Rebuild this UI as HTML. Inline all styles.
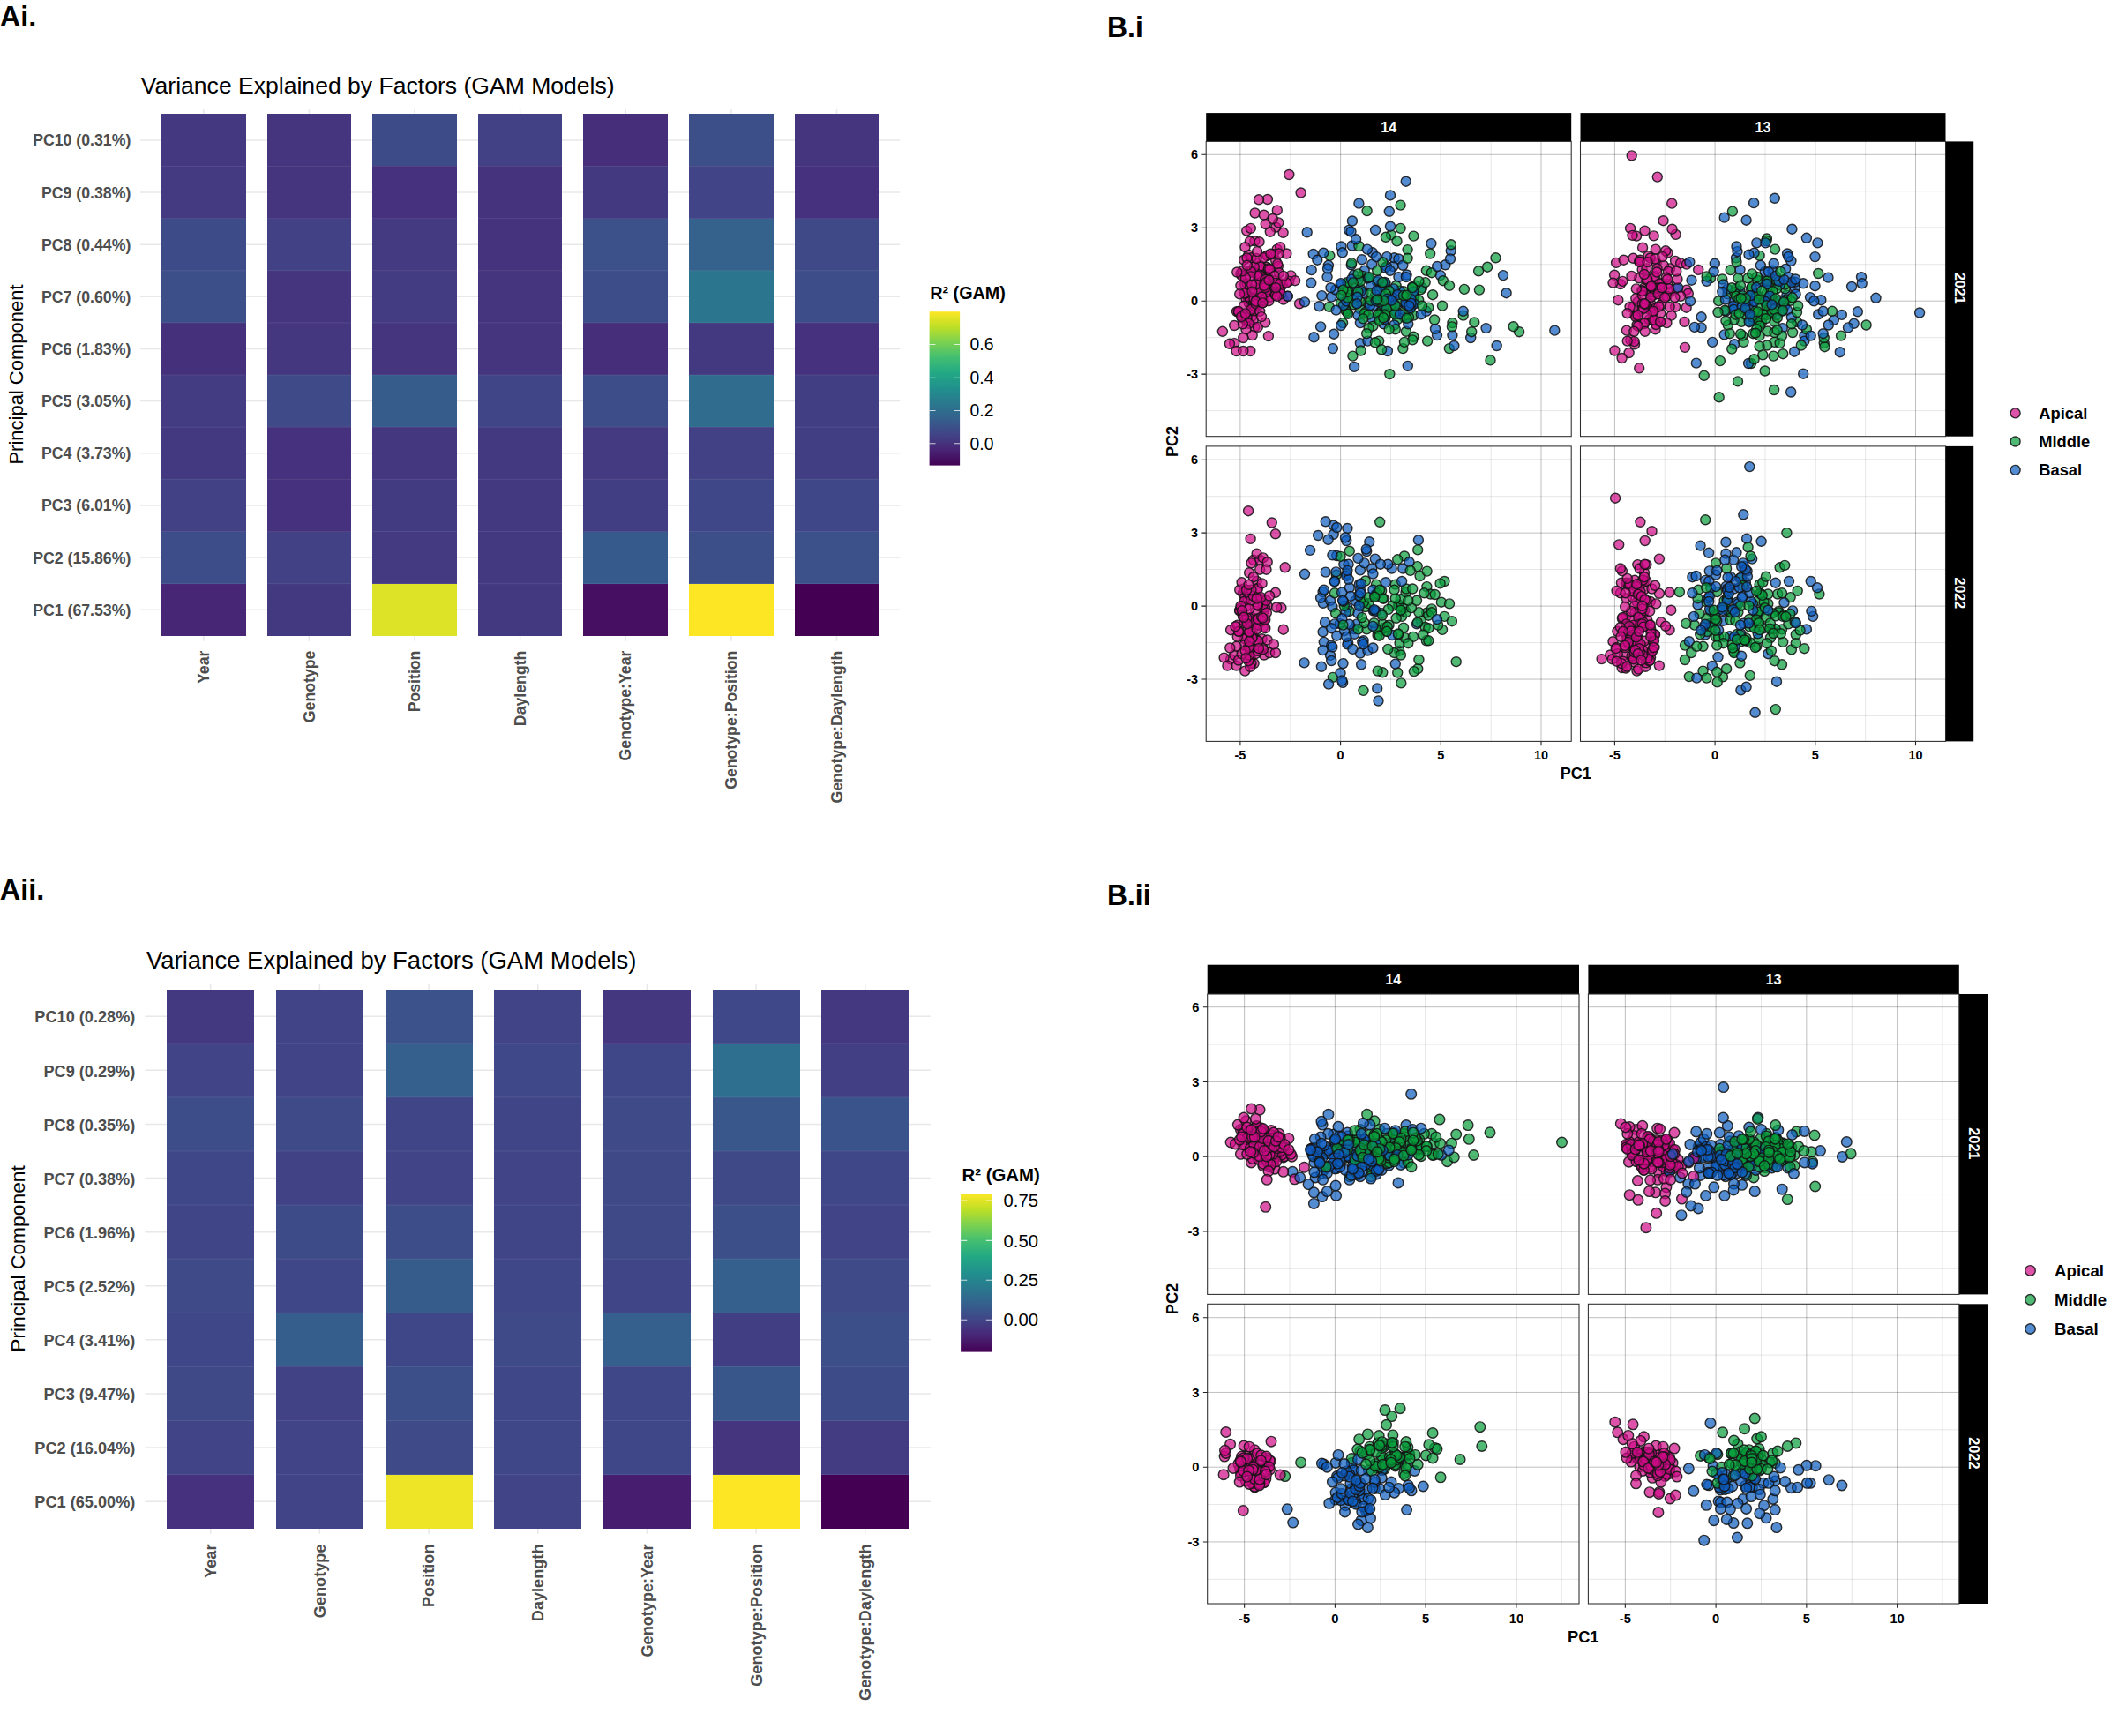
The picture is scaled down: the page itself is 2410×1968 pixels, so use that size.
<!DOCTYPE html>
<html lang="en"><head><meta charset="utf-8"><title>Figure</title>
<style>html,body{margin:0;padding:0;background:#fff}svg{display:block}text{font-family:'Liberation Sans',sans-serif;}</style></head><body>
<svg width="2410" height="1968" viewBox="0 0 2410 1968">
<defs><linearGradient id="virg" x1="0" y1="0" x2="0" y2="1"><stop offset="0%" stop-color="#fde725"/><stop offset="10%" stop-color="#bddf26"/><stop offset="20%" stop-color="#7ad151"/><stop offset="30%" stop-color="#42be71"/><stop offset="40%" stop-color="#22a884"/><stop offset="50%" stop-color="#21908d"/><stop offset="60%" stop-color="#2a788e"/><stop offset="70%" stop-color="#355f8d"/><stop offset="80%" stop-color="#414487"/><stop offset="90%" stop-color="#482475"/><stop offset="100%" stop-color="#440154"/></linearGradient></defs>
<rect width="2410" height="1968" fill="#fff"/>
<text x="-0.30" y="29.90" font-size="33.00" font-weight="bold" fill="#000" text-anchor="start" textLength="41.60" lengthAdjust="spacingAndGlyphs">Ai.</text>
<text x="-0.30" y="1019.90" font-size="33.00" font-weight="bold" fill="#000" text-anchor="start" textLength="50.60" lengthAdjust="spacingAndGlyphs">Aii.</text>
<text x="1255.00" y="42.05" font-size="33.00" font-weight="bold" fill="#000" text-anchor="start" textLength="40.80" lengthAdjust="spacingAndGlyphs">B.i</text>
<text x="1255.00" y="1025.75" font-size="33.00" font-weight="bold" fill="#000" text-anchor="start" textLength="49.50" lengthAdjust="spacingAndGlyphs">B.ii</text>
<g stroke="#e8e8ea" stroke-width="1.50">
<line x1="158.98" y1="158.88" x2="1020.24" y2="158.88"/>
<line x1="158.98" y1="218.03" x2="1020.24" y2="218.03"/>
<line x1="158.98" y1="277.18" x2="1020.24" y2="277.18"/>
<line x1="158.98" y1="336.33" x2="1020.24" y2="336.33"/>
<line x1="158.98" y1="395.48" x2="1020.24" y2="395.48"/>
<line x1="158.98" y1="454.62" x2="1020.24" y2="454.62"/>
<line x1="158.98" y1="513.77" x2="1020.24" y2="513.77"/>
<line x1="158.98" y1="572.92" x2="1020.24" y2="572.92"/>
<line x1="158.98" y1="632.08" x2="1020.24" y2="632.08"/>
<line x1="158.98" y1="691.22" x2="1020.24" y2="691.22"/>
<line x1="230.75" y1="123.39" x2="230.75" y2="726.71"/>
<line x1="350.37" y1="123.39" x2="350.37" y2="726.71"/>
<line x1="469.99" y1="123.39" x2="469.99" y2="726.71"/>
<line x1="589.61" y1="123.39" x2="589.61" y2="726.71"/>
<line x1="709.23" y1="123.39" x2="709.23" y2="726.71"/>
<line x1="828.85" y1="123.39" x2="828.85" y2="726.71"/>
<line x1="948.47" y1="123.39" x2="948.47" y2="726.71"/>
</g>
<g shape-rendering="crispEdges">
<rect x="182.90" y="129.30" width="95.70" height="59.45" fill="#443880"/>
<rect x="302.52" y="129.30" width="95.70" height="59.45" fill="#44357e"/>
<rect x="422.14" y="129.30" width="95.70" height="59.45" fill="#3d4c89"/>
<rect x="541.76" y="129.30" width="95.70" height="59.45" fill="#424185"/>
<rect x="661.38" y="129.30" width="95.70" height="59.45" fill="#462e7b"/>
<rect x="781.00" y="129.30" width="95.70" height="59.45" fill="#3c4f89"/>
<rect x="900.62" y="129.30" width="95.70" height="59.45" fill="#44357e"/>
<rect x="182.90" y="188.45" width="95.70" height="59.45" fill="#433a82"/>
<rect x="302.52" y="188.45" width="95.70" height="59.45" fill="#44357e"/>
<rect x="422.14" y="188.45" width="95.70" height="59.45" fill="#45317d"/>
<rect x="541.76" y="188.45" width="95.70" height="59.45" fill="#45337d"/>
<rect x="661.38" y="188.45" width="95.70" height="59.45" fill="#433981"/>
<rect x="781.00" y="188.45" width="95.70" height="59.45" fill="#414487"/>
<rect x="900.62" y="188.45" width="95.70" height="59.45" fill="#45317d"/>
<rect x="182.90" y="247.60" width="95.70" height="59.45" fill="#3d4c89"/>
<rect x="302.52" y="247.60" width="95.70" height="59.45" fill="#424185"/>
<rect x="422.14" y="247.60" width="95.70" height="59.45" fill="#433a82"/>
<rect x="541.76" y="247.60" width="95.70" height="59.45" fill="#45337d"/>
<rect x="661.38" y="247.60" width="95.70" height="59.45" fill="#3c508a"/>
<rect x="781.00" y="247.60" width="95.70" height="59.45" fill="#34628d"/>
<rect x="900.62" y="247.60" width="95.70" height="59.45" fill="#3f4988"/>
<rect x="182.90" y="306.75" width="95.70" height="59.45" fill="#3c4f89"/>
<rect x="302.52" y="306.75" width="95.70" height="59.45" fill="#44357e"/>
<rect x="422.14" y="306.75" width="95.70" height="59.45" fill="#433c82"/>
<rect x="541.76" y="306.75" width="95.70" height="59.45" fill="#44357e"/>
<rect x="661.38" y="306.75" width="95.70" height="59.45" fill="#3d4d89"/>
<rect x="781.00" y="306.75" width="95.70" height="59.45" fill="#2b768e"/>
<rect x="900.62" y="306.75" width="95.70" height="59.45" fill="#3d4d89"/>
<rect x="182.90" y="365.90" width="95.70" height="59.45" fill="#45307c"/>
<rect x="302.52" y="365.90" width="95.70" height="59.45" fill="#44367f"/>
<rect x="422.14" y="365.90" width="95.70" height="59.45" fill="#44357e"/>
<rect x="541.76" y="365.90" width="95.70" height="59.45" fill="#44357e"/>
<rect x="661.38" y="365.90" width="95.70" height="59.45" fill="#462e7b"/>
<rect x="781.00" y="365.90" width="95.70" height="59.45" fill="#433981"/>
<rect x="900.62" y="365.90" width="95.70" height="59.45" fill="#45317d"/>
<rect x="182.90" y="425.05" width="95.70" height="59.45" fill="#433c82"/>
<rect x="302.52" y="425.05" width="95.70" height="59.45" fill="#3e4b88"/>
<rect x="422.14" y="425.05" width="95.70" height="59.45" fill="#365c8c"/>
<rect x="541.76" y="425.05" width="95.70" height="59.45" fill="#404587"/>
<rect x="661.38" y="425.05" width="95.70" height="59.45" fill="#3d4d89"/>
<rect x="781.00" y="425.05" width="95.70" height="59.45" fill="#306c8e"/>
<rect x="900.62" y="425.05" width="95.70" height="59.45" fill="#423e83"/>
<rect x="182.90" y="484.20" width="95.70" height="59.45" fill="#433981"/>
<rect x="302.52" y="484.20" width="95.70" height="59.45" fill="#45317d"/>
<rect x="422.14" y="484.20" width="95.70" height="59.45" fill="#44367f"/>
<rect x="541.76" y="484.20" width="95.70" height="59.45" fill="#433981"/>
<rect x="661.38" y="484.20" width="95.70" height="59.45" fill="#433a82"/>
<rect x="781.00" y="484.20" width="95.70" height="59.45" fill="#424185"/>
<rect x="900.62" y="484.20" width="95.70" height="59.45" fill="#423e83"/>
<rect x="182.90" y="543.35" width="95.70" height="59.45" fill="#424185"/>
<rect x="302.52" y="543.35" width="95.70" height="59.45" fill="#45317d"/>
<rect x="422.14" y="543.35" width="95.70" height="59.45" fill="#433b82"/>
<rect x="541.76" y="543.35" width="95.70" height="59.45" fill="#433981"/>
<rect x="661.38" y="543.35" width="95.70" height="59.45" fill="#423e83"/>
<rect x="781.00" y="543.35" width="95.70" height="59.45" fill="#404788"/>
<rect x="900.62" y="543.35" width="95.70" height="59.45" fill="#404788"/>
<rect x="182.90" y="602.50" width="95.70" height="59.45" fill="#3d4d89"/>
<rect x="302.52" y="602.50" width="95.70" height="59.45" fill="#424185"/>
<rect x="422.14" y="602.50" width="95.70" height="59.45" fill="#433a82"/>
<rect x="541.76" y="602.50" width="95.70" height="59.45" fill="#433981"/>
<rect x="661.38" y="602.50" width="95.70" height="59.45" fill="#375a8c"/>
<rect x="781.00" y="602.50" width="95.70" height="59.45" fill="#3c4f89"/>
<rect x="900.62" y="602.50" width="95.70" height="59.45" fill="#3c508a"/>
<rect x="182.90" y="661.65" width="95.70" height="59.45" fill="#482676"/>
<rect x="302.52" y="661.65" width="95.70" height="59.45" fill="#433981"/>
<rect x="422.14" y="661.65" width="95.70" height="59.45" fill="#dde326"/>
<rect x="541.76" y="661.65" width="95.70" height="59.45" fill="#433981"/>
<rect x="661.38" y="661.65" width="95.70" height="59.45" fill="#460f61"/>
<rect x="781.00" y="661.65" width="95.70" height="59.45" fill="#fde725"/>
<rect x="900.62" y="661.65" width="95.70" height="59.45" fill="#440154"/>
</g>
<path d="M182.90 188.45h95.70M302.52 188.45h95.70M422.14 188.45h95.70M541.76 188.45h95.70M661.38 188.45h95.70M781.00 188.45h95.70M900.62 188.45h95.70M182.90 247.60h95.70M302.52 247.60h95.70M422.14 247.60h95.70M541.76 247.60h95.70M661.38 247.60h95.70M781.00 247.60h95.70M900.62 247.60h95.70M182.90 306.75h95.70M302.52 306.75h95.70M422.14 306.75h95.70M541.76 306.75h95.70M661.38 306.75h95.70M781.00 306.75h95.70M900.62 306.75h95.70M182.90 365.90h95.70M302.52 365.90h95.70M422.14 365.90h95.70M541.76 365.90h95.70M661.38 365.90h95.70M781.00 365.90h95.70M900.62 365.90h95.70M182.90 425.05h95.70M302.52 425.05h95.70M422.14 425.05h95.70M541.76 425.05h95.70M661.38 425.05h95.70M781.00 425.05h95.70M900.62 425.05h95.70M182.90 484.20h95.70M302.52 484.20h95.70M422.14 484.20h95.70M541.76 484.20h95.70M661.38 484.20h95.70M781.00 484.20h95.70M900.62 484.20h95.70M182.90 543.35h95.70M302.52 543.35h95.70M422.14 543.35h95.70M541.76 543.35h95.70M661.38 543.35h95.70M781.00 543.35h95.70M900.62 543.35h95.70M182.90 602.50h95.70M302.52 602.50h95.70M422.14 602.50h95.70M541.76 602.50h95.70M661.38 602.50h95.70M781.00 602.50h95.70M900.62 602.50h95.70M182.90 661.65h95.70M302.52 661.65h95.70M422.14 661.65h95.70M541.76 661.65h95.70M661.38 661.65h95.70M781.00 661.65h95.70M900.62 661.65h95.70" stroke="#fff" stroke-opacity=".09" stroke-width="1" fill="none"/>
<text x="148.30" y="165.41" font-size="17.70" font-weight="bold" fill="#4d4d4d" text-anchor="end">PC10 (0.31%)</text>
<text x="148.30" y="224.56" font-size="17.70" font-weight="bold" fill="#4d4d4d" text-anchor="end">PC9 (0.38%)</text>
<text x="148.30" y="283.71" font-size="17.70" font-weight="bold" fill="#4d4d4d" text-anchor="end">PC8 (0.44%)</text>
<text x="148.30" y="342.86" font-size="17.70" font-weight="bold" fill="#4d4d4d" text-anchor="end">PC7 (0.60%)</text>
<text x="148.30" y="402.01" font-size="17.70" font-weight="bold" fill="#4d4d4d" text-anchor="end">PC6 (1.83%)</text>
<text x="148.30" y="461.16" font-size="17.70" font-weight="bold" fill="#4d4d4d" text-anchor="end">PC5 (3.05%)</text>
<text x="148.30" y="520.31" font-size="17.70" font-weight="bold" fill="#4d4d4d" text-anchor="end">PC4 (3.73%)</text>
<text x="148.30" y="579.46" font-size="17.70" font-weight="bold" fill="#4d4d4d" text-anchor="end">PC3 (6.01%)</text>
<text x="148.30" y="638.61" font-size="17.70" font-weight="bold" fill="#4d4d4d" text-anchor="end">PC2 (15.86%)</text>
<text x="148.30" y="697.76" font-size="17.70" font-weight="bold" fill="#4d4d4d" text-anchor="end">PC1 (67.53%)</text>
<text x="236.98" y="737.60" font-size="17.70" font-weight="bold" fill="#4d4d4d" text-anchor="end" transform="rotate(-90 236.98 737.60)">Year</text>
<text x="356.60" y="737.60" font-size="17.70" font-weight="bold" fill="#4d4d4d" text-anchor="end" transform="rotate(-90 356.60 737.60)">Genotype</text>
<text x="476.22" y="737.60" font-size="17.70" font-weight="bold" fill="#4d4d4d" text-anchor="end" transform="rotate(-90 476.22 737.60)">Position</text>
<text x="595.84" y="737.60" font-size="17.70" font-weight="bold" fill="#4d4d4d" text-anchor="end" transform="rotate(-90 595.84 737.60)">Daylength</text>
<text x="715.46" y="737.60" font-size="17.70" font-weight="bold" fill="#4d4d4d" text-anchor="end" transform="rotate(-90 715.46 737.60)">Genotype:Year</text>
<text x="835.08" y="737.60" font-size="17.70" font-weight="bold" fill="#4d4d4d" text-anchor="end" transform="rotate(-90 835.08 737.60)">Genotype:Position</text>
<text x="954.70" y="737.60" font-size="17.70" font-weight="bold" fill="#4d4d4d" text-anchor="end" transform="rotate(-90 954.70 737.60)">Genotype:Daylength</text>
<text x="159.80" y="106.30" font-size="26.50" fill="#000" text-anchor="start" textLength="536.80" lengthAdjust="spacingAndGlyphs">Variance Explained by Factors (GAM Models)</text>
<text x="26.44" y="424.50" font-size="22.00" fill="#000" text-anchor="middle" transform="rotate(-90 26.44 424.50)">Principal Component</text>
<text x="1054.20" y="339.30" font-size="19.70" font-weight="bold" fill="#000" text-anchor="start" textLength="85.70" lengthAdjust="spacingAndGlyphs">R² (GAM)</text>
<rect x="1053.60" y="353.20" width="34.50" height="174.40" fill="url(#virg)"/>
<path d="M1053.60 390.50h6.90M1088.10 390.50h-6.90" stroke="#fff" stroke-opacity=".75" stroke-width="1.1"/>
<text x="1099.60" y="397.29" font-size="19.30" fill="#000" text-anchor="start">0.6</text>
<path d="M1053.60 428.20h6.90M1088.10 428.20h-6.90" stroke="#fff" stroke-opacity=".75" stroke-width="1.1"/>
<text x="1099.60" y="434.99" font-size="19.30" fill="#000" text-anchor="start">0.4</text>
<path d="M1053.60 465.50h6.90M1088.10 465.50h-6.90" stroke="#fff" stroke-opacity=".75" stroke-width="1.1"/>
<text x="1099.60" y="472.29" font-size="19.30" fill="#000" text-anchor="start">0.2</text>
<path d="M1053.60 502.80h6.90M1088.10 502.80h-6.90" stroke="#fff" stroke-opacity=".75" stroke-width="1.1"/>
<text x="1099.60" y="509.59" font-size="19.30" fill="#000" text-anchor="start">0.0</text>
<g stroke="#e8e8ea" stroke-width="1.50">
<line x1="164.43" y1="1152.25" x2="1055.07" y2="1152.25"/>
<line x1="164.43" y1="1213.35" x2="1055.07" y2="1213.35"/>
<line x1="164.43" y1="1274.45" x2="1055.07" y2="1274.45"/>
<line x1="164.43" y1="1335.55" x2="1055.07" y2="1335.55"/>
<line x1="164.43" y1="1396.65" x2="1055.07" y2="1396.65"/>
<line x1="164.43" y1="1457.75" x2="1055.07" y2="1457.75"/>
<line x1="164.43" y1="1518.85" x2="1055.07" y2="1518.85"/>
<line x1="164.43" y1="1579.95" x2="1055.07" y2="1579.95"/>
<line x1="164.43" y1="1641.05" x2="1055.07" y2="1641.05"/>
<line x1="164.43" y1="1702.15" x2="1055.07" y2="1702.15"/>
<line x1="238.65" y1="1115.59" x2="238.65" y2="1738.81"/>
<line x1="362.35" y1="1115.59" x2="362.35" y2="1738.81"/>
<line x1="486.05" y1="1115.59" x2="486.05" y2="1738.81"/>
<line x1="609.75" y1="1115.59" x2="609.75" y2="1738.81"/>
<line x1="733.45" y1="1115.59" x2="733.45" y2="1738.81"/>
<line x1="857.15" y1="1115.59" x2="857.15" y2="1738.81"/>
<line x1="980.85" y1="1115.59" x2="980.85" y2="1738.81"/>
</g>
<g shape-rendering="crispEdges">
<rect x="189.10" y="1121.70" width="99.10" height="61.40" fill="#433981"/>
<rect x="312.80" y="1121.70" width="99.10" height="61.40" fill="#414487"/>
<rect x="436.50" y="1121.70" width="99.10" height="61.40" fill="#3b528a"/>
<rect x="560.20" y="1121.70" width="99.10" height="61.40" fill="#414487"/>
<rect x="683.90" y="1121.70" width="99.10" height="61.40" fill="#44367f"/>
<rect x="807.60" y="1121.70" width="99.10" height="61.40" fill="#3f4888"/>
<rect x="931.30" y="1121.70" width="99.10" height="61.40" fill="#443880"/>
<rect x="189.10" y="1182.80" width="99.10" height="61.40" fill="#414487"/>
<rect x="312.80" y="1182.80" width="99.10" height="61.40" fill="#414487"/>
<rect x="436.50" y="1182.80" width="99.10" height="61.40" fill="#355f8d"/>
<rect x="560.20" y="1182.80" width="99.10" height="61.40" fill="#3f4888"/>
<rect x="683.90" y="1182.80" width="99.10" height="61.40" fill="#404788"/>
<rect x="807.60" y="1182.80" width="99.10" height="61.40" fill="#2e6e8e"/>
<rect x="931.30" y="1182.80" width="99.10" height="61.40" fill="#423f84"/>
<rect x="189.10" y="1243.90" width="99.10" height="61.40" fill="#3d4d89"/>
<rect x="312.80" y="1243.90" width="99.10" height="61.40" fill="#3e4b88"/>
<rect x="436.50" y="1243.90" width="99.10" height="61.40" fill="#404587"/>
<rect x="560.20" y="1243.90" width="99.10" height="61.40" fill="#404587"/>
<rect x="683.90" y="1243.90" width="99.10" height="61.40" fill="#3e4b88"/>
<rect x="807.60" y="1243.90" width="99.10" height="61.40" fill="#39578b"/>
<rect x="931.30" y="1243.90" width="99.10" height="61.40" fill="#3a538a"/>
<rect x="189.10" y="1305.00" width="99.10" height="61.40" fill="#404788"/>
<rect x="312.80" y="1305.00" width="99.10" height="61.40" fill="#414286"/>
<rect x="436.50" y="1305.00" width="99.10" height="61.40" fill="#414487"/>
<rect x="560.20" y="1305.00" width="99.10" height="61.40" fill="#414487"/>
<rect x="683.90" y="1305.00" width="99.10" height="61.40" fill="#3f4988"/>
<rect x="807.60" y="1305.00" width="99.10" height="61.40" fill="#3f4988"/>
<rect x="931.30" y="1305.00" width="99.10" height="61.40" fill="#404788"/>
<rect x="189.10" y="1366.10" width="99.10" height="61.40" fill="#404587"/>
<rect x="312.80" y="1366.10" width="99.10" height="61.40" fill="#3d4c89"/>
<rect x="436.50" y="1366.10" width="99.10" height="61.40" fill="#3d4d89"/>
<rect x="560.20" y="1366.10" width="99.10" height="61.40" fill="#404587"/>
<rect x="683.90" y="1366.10" width="99.10" height="61.40" fill="#3f4988"/>
<rect x="807.60" y="1366.10" width="99.10" height="61.40" fill="#3c4f89"/>
<rect x="931.30" y="1366.10" width="99.10" height="61.40" fill="#414487"/>
<rect x="189.10" y="1427.20" width="99.10" height="61.40" fill="#3e4b88"/>
<rect x="312.80" y="1427.20" width="99.10" height="61.40" fill="#404788"/>
<rect x="436.50" y="1427.20" width="99.10" height="61.40" fill="#365c8c"/>
<rect x="560.20" y="1427.20" width="99.10" height="61.40" fill="#404788"/>
<rect x="683.90" y="1427.20" width="99.10" height="61.40" fill="#404587"/>
<rect x="807.60" y="1427.20" width="99.10" height="61.40" fill="#355f8d"/>
<rect x="931.30" y="1427.20" width="99.10" height="61.40" fill="#3e4b88"/>
<rect x="189.10" y="1488.30" width="99.10" height="61.40" fill="#404788"/>
<rect x="312.80" y="1488.30" width="99.10" height="61.40" fill="#365e8d"/>
<rect x="436.50" y="1488.30" width="99.10" height="61.40" fill="#404788"/>
<rect x="560.20" y="1488.30" width="99.10" height="61.40" fill="#3e4b88"/>
<rect x="683.90" y="1488.30" width="99.10" height="61.40" fill="#355f8d"/>
<rect x="807.60" y="1488.30" width="99.10" height="61.40" fill="#423e83"/>
<rect x="931.30" y="1488.30" width="99.10" height="61.40" fill="#3c4f89"/>
<rect x="189.10" y="1549.40" width="99.10" height="61.40" fill="#3f4988"/>
<rect x="312.80" y="1549.40" width="99.10" height="61.40" fill="#414286"/>
<rect x="436.50" y="1549.40" width="99.10" height="61.40" fill="#3c4f89"/>
<rect x="560.20" y="1549.40" width="99.10" height="61.40" fill="#404788"/>
<rect x="683.90" y="1549.40" width="99.10" height="61.40" fill="#404788"/>
<rect x="807.60" y="1549.40" width="99.10" height="61.40" fill="#39568b"/>
<rect x="931.30" y="1549.40" width="99.10" height="61.40" fill="#3d4c89"/>
<rect x="189.10" y="1610.50" width="99.10" height="61.40" fill="#414487"/>
<rect x="312.80" y="1610.50" width="99.10" height="61.40" fill="#414487"/>
<rect x="436.50" y="1610.50" width="99.10" height="61.40" fill="#3e4b88"/>
<rect x="560.20" y="1610.50" width="99.10" height="61.40" fill="#404788"/>
<rect x="683.90" y="1610.50" width="99.10" height="61.40" fill="#404788"/>
<rect x="807.60" y="1610.50" width="99.10" height="61.40" fill="#44357e"/>
<rect x="931.30" y="1610.50" width="99.10" height="61.40" fill="#433c82"/>
<rect x="189.10" y="1671.60" width="99.10" height="61.40" fill="#45317d"/>
<rect x="312.80" y="1671.60" width="99.10" height="61.40" fill="#414487"/>
<rect x="436.50" y="1671.60" width="99.10" height="61.40" fill="#ede525"/>
<rect x="560.20" y="1671.60" width="99.10" height="61.40" fill="#414487"/>
<rect x="683.90" y="1671.60" width="99.10" height="61.40" fill="#471e6f"/>
<rect x="807.60" y="1671.60" width="99.10" height="61.40" fill="#fde725"/>
<rect x="931.30" y="1671.60" width="99.10" height="61.40" fill="#440154"/>
</g>
<path d="M189.10 1182.80h99.10M312.80 1182.80h99.10M436.50 1182.80h99.10M560.20 1182.80h99.10M683.90 1182.80h99.10M807.60 1182.80h99.10M931.30 1182.80h99.10M189.10 1243.90h99.10M312.80 1243.90h99.10M436.50 1243.90h99.10M560.20 1243.90h99.10M683.90 1243.90h99.10M807.60 1243.90h99.10M931.30 1243.90h99.10M189.10 1305.00h99.10M312.80 1305.00h99.10M436.50 1305.00h99.10M560.20 1305.00h99.10M683.90 1305.00h99.10M807.60 1305.00h99.10M931.30 1305.00h99.10M189.10 1366.10h99.10M312.80 1366.10h99.10M436.50 1366.10h99.10M560.20 1366.10h99.10M683.90 1366.10h99.10M807.60 1366.10h99.10M931.30 1366.10h99.10M189.10 1427.20h99.10M312.80 1427.20h99.10M436.50 1427.20h99.10M560.20 1427.20h99.10M683.90 1427.20h99.10M807.60 1427.20h99.10M931.30 1427.20h99.10M189.10 1488.30h99.10M312.80 1488.30h99.10M436.50 1488.30h99.10M560.20 1488.30h99.10M683.90 1488.30h99.10M807.60 1488.30h99.10M931.30 1488.30h99.10M189.10 1549.40h99.10M312.80 1549.40h99.10M436.50 1549.40h99.10M560.20 1549.40h99.10M683.90 1549.40h99.10M807.60 1549.40h99.10M931.30 1549.40h99.10M189.10 1610.50h99.10M312.80 1610.50h99.10M436.50 1610.50h99.10M560.20 1610.50h99.10M683.90 1610.50h99.10M807.60 1610.50h99.10M931.30 1610.50h99.10M189.10 1671.60h99.10M312.80 1671.60h99.10M436.50 1671.60h99.10M560.20 1671.60h99.10M683.90 1671.60h99.10M807.60 1671.60h99.10M931.30 1671.60h99.10" stroke="#fff" stroke-opacity=".09" stroke-width="1" fill="none"/>
<text x="153.30" y="1159.44" font-size="18.15" font-weight="bold" fill="#4d4d4d" text-anchor="end">PC10 (0.28%)</text>
<text x="153.30" y="1220.54" font-size="18.15" font-weight="bold" fill="#4d4d4d" text-anchor="end">PC9 (0.29%)</text>
<text x="153.30" y="1281.64" font-size="18.15" font-weight="bold" fill="#4d4d4d" text-anchor="end">PC8 (0.35%)</text>
<text x="153.30" y="1342.74" font-size="18.15" font-weight="bold" fill="#4d4d4d" text-anchor="end">PC7 (0.38%)</text>
<text x="153.30" y="1403.84" font-size="18.15" font-weight="bold" fill="#4d4d4d" text-anchor="end">PC6 (1.96%)</text>
<text x="153.30" y="1464.94" font-size="18.15" font-weight="bold" fill="#4d4d4d" text-anchor="end">PC5 (2.52%)</text>
<text x="153.30" y="1526.04" font-size="18.15" font-weight="bold" fill="#4d4d4d" text-anchor="end">PC4 (3.41%)</text>
<text x="153.30" y="1587.14" font-size="18.15" font-weight="bold" fill="#4d4d4d" text-anchor="end">PC3 (9.47%)</text>
<text x="153.30" y="1648.24" font-size="18.15" font-weight="bold" fill="#4d4d4d" text-anchor="end">PC2 (16.04%)</text>
<text x="153.30" y="1709.34" font-size="18.15" font-weight="bold" fill="#4d4d4d" text-anchor="end">PC1 (65.00%)</text>
<text x="245.04" y="1750.50" font-size="18.15" font-weight="bold" fill="#4d4d4d" text-anchor="end" transform="rotate(-90 245.04 1750.50)">Year</text>
<text x="368.74" y="1750.50" font-size="18.15" font-weight="bold" fill="#4d4d4d" text-anchor="end" transform="rotate(-90 368.74 1750.50)">Genotype</text>
<text x="492.44" y="1750.50" font-size="18.15" font-weight="bold" fill="#4d4d4d" text-anchor="end" transform="rotate(-90 492.44 1750.50)">Position</text>
<text x="616.14" y="1750.50" font-size="18.15" font-weight="bold" fill="#4d4d4d" text-anchor="end" transform="rotate(-90 616.14 1750.50)">Daylength</text>
<text x="739.84" y="1750.50" font-size="18.15" font-weight="bold" fill="#4d4d4d" text-anchor="end" transform="rotate(-90 739.84 1750.50)">Genotype:Year</text>
<text x="863.54" y="1750.50" font-size="18.15" font-weight="bold" fill="#4d4d4d" text-anchor="end" transform="rotate(-90 863.54 1750.50)">Genotype:Position</text>
<text x="987.24" y="1750.50" font-size="18.15" font-weight="bold" fill="#4d4d4d" text-anchor="end" transform="rotate(-90 987.24 1750.50)">Genotype:Daylength</text>
<text x="166.00" y="1098.00" font-size="27.50" fill="#000" text-anchor="start" textLength="555.50" lengthAdjust="spacingAndGlyphs">Variance Explained by Factors (GAM Models)</text>
<text x="27.83" y="1427.00" font-size="22.80" fill="#000" text-anchor="middle" transform="rotate(-90 27.83 1427.00)">Principal Component</text>
<text x="1090.50" y="1338.70" font-size="20.40" font-weight="bold" fill="#000" text-anchor="start" textLength="88.30" lengthAdjust="spacingAndGlyphs">R² (GAM)</text>
<rect x="1089.10" y="1353.20" width="35.90" height="179.40" fill="url(#virg)"/>
<path d="M1089.10 1361.10h7.18M1125.00 1361.10h-7.18" stroke="#fff" stroke-opacity=".75" stroke-width="1.1"/>
<text x="1137.50" y="1368.25" font-size="20.30" fill="#000" text-anchor="start">0.75</text>
<path d="M1089.10 1406.40h7.18M1125.00 1406.40h-7.18" stroke="#fff" stroke-opacity=".75" stroke-width="1.1"/>
<text x="1137.50" y="1413.55" font-size="20.30" fill="#000" text-anchor="start">0.50</text>
<path d="M1089.10 1451.20h7.18M1125.00 1451.20h-7.18" stroke="#fff" stroke-opacity=".75" stroke-width="1.1"/>
<text x="1137.50" y="1458.35" font-size="20.30" fill="#000" text-anchor="start">0.25</text>
<path d="M1089.10 1496.30h7.18M1125.00 1496.30h-7.18" stroke="#fff" stroke-opacity=".75" stroke-width="1.1"/>
<text x="1137.50" y="1503.45" font-size="20.30" fill="#000" text-anchor="start">0.00</text>
<rect x="1367.20" y="128.10" width="414.00" height="32.30" fill="#000"/>
<rect x="1791.50" y="128.10" width="414.00" height="32.30" fill="#000"/>
<rect x="2205.50" y="160.40" width="31.70" height="334.30" fill="#000"/>
<rect x="2205.50" y="505.90" width="31.70" height="334.50" fill="#000"/>
<text x="1574.20" y="149.88" font-size="16.00" font-weight="bold" fill="#fff" text-anchor="middle">14</text>
<text x="1998.50" y="149.88" font-size="16.00" font-weight="bold" fill="#fff" text-anchor="middle">13</text>
<text x="2216.02" y="326.75" font-size="16.00" font-weight="bold" fill="#fff" text-anchor="middle" transform="rotate(90 2216.02 326.75)">2021</text>
<text x="2216.02" y="672.35" font-size="16.00" font-weight="bold" fill="#fff" text-anchor="middle" transform="rotate(90 2216.02 672.35)">2022</text>
<rect x="1367.20" y="160.40" width="414.00" height="334.30" fill="#fff"/>
<path d="M1462.75 160.40V494.70M1576.45 160.40V494.70M1690.15 160.40V494.70M1367.20 465.62H1781.20M1367.20 382.67H1781.20M1367.20 299.73H1781.20M1367.20 216.77H1781.20" stroke="#000" stroke-opacity=".11" stroke-width=".9" fill="none"/>
<path d="M1405.90 160.40V494.70M1519.60 160.40V494.70M1633.30 160.40V494.70M1747.00 160.40V494.70M1367.20 424.15H1781.20M1367.20 341.20H1781.20M1367.20 258.25H1781.20M1367.20 175.30H1781.20" stroke="#000" stroke-opacity=".25" stroke-width="1" fill="none"/>
<g stroke="#141414" stroke-opacity=".88" stroke-width="1.4" fill-opacity=".7">
<circle cx="1520.4" cy="279.5" r="5.5" fill="#0c5bbf"/>
<circle cx="1563.2" cy="386.6" r="5.5" fill="#059c3a"/>
<circle cx="1415.8" cy="343.8" r="5.5" fill="#cf0a86"/>
<circle cx="1419.1" cy="358.8" r="5.5" fill="#cf0a86"/>
<circle cx="1629.0" cy="380.1" r="5.5" fill="#0c5bbf"/>
<circle cx="1413.7" cy="358.8" r="5.5" fill="#cf0a86"/>
<circle cx="1545.5" cy="332.2" r="5.5" fill="#0c5bbf"/>
<circle cx="1569.6" cy="350.8" r="5.5" fill="#059c3a"/>
<circle cx="1424.3" cy="298.3" r="5.5" fill="#cf0a86"/>
<circle cx="1509.2" cy="336.6" r="5.5" fill="#0c5bbf"/>
<circle cx="1612.0" cy="326.2" r="5.5" fill="#0c5bbf"/>
<circle cx="1422.3" cy="370.7" r="5.5" fill="#cf0a86"/>
<circle cx="1577.0" cy="266.4" r="5.5" fill="#059c3a"/>
<circle cx="1527.4" cy="354.0" r="5.5" fill="#059c3a"/>
<circle cx="1593.9" cy="375.8" r="5.5" fill="#059c3a"/>
<circle cx="1638.4" cy="300.3" r="5.5" fill="#0c5bbf"/>
<circle cx="1463.3" cy="312.4" r="5.5" fill="#cf0a86"/>
<circle cx="1399.2" cy="389.1" r="5.5" fill="#cf0a86"/>
<circle cx="1563.9" cy="362.6" r="5.5" fill="#059c3a"/>
<circle cx="1510.9" cy="395.1" r="5.5" fill="#0c5bbf"/>
<circle cx="1446.3" cy="257.7" r="5.5" fill="#cf0a86"/>
<circle cx="1568.5" cy="367.3" r="5.5" fill="#0c5bbf"/>
<circle cx="1424.6" cy="338.3" r="5.5" fill="#cf0a86"/>
<circle cx="1676.9" cy="328.6" r="5.5" fill="#059c3a"/>
<circle cx="1578.3" cy="337.9" r="5.5" fill="#0c5bbf"/>
<circle cx="1533.4" cy="403.6" r="5.5" fill="#059c3a"/>
<circle cx="1486.3" cy="320.6" r="5.5" fill="#0c5bbf"/>
<circle cx="1622.4" cy="276.1" r="5.5" fill="#0c5bbf"/>
<circle cx="1506.8" cy="347.9" r="5.5" fill="#059c3a"/>
<circle cx="1598.3" cy="350.9" r="5.5" fill="#059c3a"/>
<circle cx="1438.0" cy="328.8" r="5.5" fill="#cf0a86"/>
<circle cx="1436.7" cy="289.9" r="5.5" fill="#cf0a86"/>
<circle cx="1565.8" cy="353.0" r="5.5" fill="#059c3a"/>
<circle cx="1632.8" cy="312.1" r="5.5" fill="#0c5bbf"/>
<circle cx="1419.7" cy="380.1" r="5.5" fill="#cf0a86"/>
<circle cx="1579.4" cy="302.0" r="5.5" fill="#0c5bbf"/>
<circle cx="1522.1" cy="366.1" r="5.5" fill="#059c3a"/>
<circle cx="1583.5" cy="273.4" r="5.5" fill="#059c3a"/>
<circle cx="1542.0" cy="327.1" r="5.5" fill="#059c3a"/>
<circle cx="1423.7" cy="342.9" r="5.5" fill="#cf0a86"/>
<circle cx="1602.4" cy="334.6" r="5.5" fill="#059c3a"/>
<circle cx="1587.7" cy="341.8" r="5.5" fill="#059c3a"/>
<circle cx="1505.9" cy="300.8" r="5.5" fill="#0c5bbf"/>
<circle cx="1592.2" cy="360.0" r="5.5" fill="#059c3a"/>
<circle cx="1591.0" cy="330.3" r="5.5" fill="#059c3a"/>
<circle cx="1586.6" cy="329.8" r="5.5" fill="#0c5bbf"/>
<circle cx="1413.2" cy="261.6" r="5.5" fill="#cf0a86"/>
<circle cx="1427.1" cy="327.8" r="5.5" fill="#cf0a86"/>
<circle cx="1559.8" cy="341.0" r="5.5" fill="#0c5bbf"/>
<circle cx="1602.4" cy="267.6" r="5.5" fill="#059c3a"/>
<circle cx="1546.7" cy="306.8" r="5.5" fill="#0c5bbf"/>
<circle cx="1695.5" cy="292.3" r="5.5" fill="#059c3a"/>
<circle cx="1422.6" cy="241.5" r="5.5" fill="#cf0a86"/>
<circle cx="1406.4" cy="310.4" r="5.5" fill="#cf0a86"/>
<circle cx="1616.9" cy="306.8" r="5.5" fill="#059c3a"/>
<circle cx="1402.0" cy="353.1" r="5.5" fill="#cf0a86"/>
<circle cx="1626.1" cy="362.5" r="5.5" fill="#059c3a"/>
<circle cx="1442.7" cy="322.5" r="5.5" fill="#cf0a86"/>
<circle cx="1504.6" cy="314.1" r="5.5" fill="#0c5bbf"/>
<circle cx="1635.8" cy="318.2" r="5.5" fill="#059c3a"/>
<circle cx="1532.2" cy="338.3" r="5.5" fill="#0c5bbf"/>
<circle cx="1574.8" cy="239.8" r="5.5" fill="#0c5bbf"/>
<circle cx="1411.2" cy="322.3" r="5.5" fill="#cf0a86"/>
<circle cx="1414.6" cy="355.9" r="5.5" fill="#cf0a86"/>
<circle cx="1658.7" cy="357.6" r="5.5" fill="#059c3a"/>
<circle cx="1428.0" cy="338.4" r="5.5" fill="#cf0a86"/>
<circle cx="1488.7" cy="288.0" r="5.5" fill="#0c5bbf"/>
<circle cx="1560.9" cy="319.5" r="5.5" fill="#059c3a"/>
<circle cx="1585.4" cy="314.1" r="5.5" fill="#0c5bbf"/>
<circle cx="1572.9" cy="398.0" r="5.5" fill="#0c5bbf"/>
<circle cx="1512.1" cy="378.7" r="5.5" fill="#0c5bbf"/>
<circle cx="1704.0" cy="312.1" r="5.5" fill="#0c5bbf"/>
<circle cx="1445.4" cy="318.3" r="5.5" fill="#cf0a86"/>
<circle cx="1421.2" cy="309.3" r="5.5" fill="#cf0a86"/>
<circle cx="1435.7" cy="302.7" r="5.5" fill="#cf0a86"/>
<circle cx="1429.1" cy="301.1" r="5.5" fill="#cf0a86"/>
<circle cx="1435.8" cy="321.2" r="5.5" fill="#cf0a86"/>
<circle cx="1534.6" cy="311.7" r="5.5" fill="#0c5bbf"/>
<circle cx="1447.8" cy="238.4" r="5.5" fill="#cf0a86"/>
<circle cx="1544.8" cy="312.9" r="5.5" fill="#059c3a"/>
<circle cx="1643.0" cy="323.8" r="5.5" fill="#059c3a"/>
<circle cx="1413.4" cy="363.1" r="5.5" fill="#cf0a86"/>
<circle cx="1454.8" cy="339.5" r="5.5" fill="#cf0a86"/>
<circle cx="1414.9" cy="338.3" r="5.5" fill="#cf0a86"/>
<circle cx="1401.6" cy="398.0" r="5.5" fill="#cf0a86"/>
<circle cx="1435.5" cy="329.8" r="5.5" fill="#cf0a86"/>
<circle cx="1569.7" cy="362.2" r="5.5" fill="#0c5bbf"/>
<circle cx="1439.5" cy="322.7" r="5.5" fill="#cf0a86"/>
<circle cx="1428.4" cy="322.6" r="5.5" fill="#cf0a86"/>
<circle cx="1624.1" cy="334.2" r="5.5" fill="#059c3a"/>
<circle cx="1594.6" cy="311.5" r="5.5" fill="#0c5bbf"/>
<circle cx="1481.7" cy="263.3" r="5.5" fill="#0c5bbf"/>
<circle cx="1610.4" cy="328.4" r="5.5" fill="#059c3a"/>
<circle cx="1644.7" cy="284.3" r="5.5" fill="#0c5bbf"/>
<circle cx="1722.1" cy="376.2" r="5.5" fill="#059c3a"/>
<circle cx="1531.7" cy="300.3" r="5.5" fill="#0c5bbf"/>
<circle cx="1566.1" cy="321.1" r="5.5" fill="#059c3a"/>
<circle cx="1566.1" cy="396.3" r="5.5" fill="#059c3a"/>
<circle cx="1575.7" cy="348.1" r="5.5" fill="#0c5bbf"/>
<circle cx="1581.8" cy="356.4" r="5.5" fill="#0c5bbf"/>
<circle cx="1576.0" cy="256.7" r="5.5" fill="#0c5bbf"/>
<circle cx="1514.1" cy="328.6" r="5.5" fill="#0c5bbf"/>
<circle cx="1519.8" cy="322.4" r="5.5" fill="#0c5bbf"/>
<circle cx="1435.5" cy="312.9" r="5.5" fill="#cf0a86"/>
<circle cx="1535.2" cy="325.9" r="5.5" fill="#0c5bbf"/>
<circle cx="1566.1" cy="326.2" r="5.5" fill="#0c5bbf"/>
<circle cx="1541.9" cy="389.1" r="5.5" fill="#0c5bbf"/>
<circle cx="1615.7" cy="320.1" r="5.5" fill="#059c3a"/>
<circle cx="1539.6" cy="317.6" r="5.5" fill="#0c5bbf"/>
<circle cx="1602.4" cy="357.6" r="5.5" fill="#059c3a"/>
<circle cx="1593.7" cy="205.7" r="5.5" fill="#0c5bbf"/>
<circle cx="1532.7" cy="278.5" r="5.5" fill="#0c5bbf"/>
<circle cx="1528.0" cy="321.4" r="5.5" fill="#0c5bbf"/>
<circle cx="1584.2" cy="362.1" r="5.5" fill="#059c3a"/>
<circle cx="1604.3" cy="323.8" r="5.5" fill="#059c3a"/>
<circle cx="1418.5" cy="336.4" r="5.5" fill="#cf0a86"/>
<circle cx="1715.6" cy="370.2" r="5.5" fill="#059c3a"/>
<circle cx="1449.8" cy="324.6" r="5.5" fill="#cf0a86"/>
<circle cx="1580.6" cy="368.5" r="5.5" fill="#0c5bbf"/>
<circle cx="1412.6" cy="338.8" r="5.5" fill="#cf0a86"/>
<circle cx="1446.2" cy="295.3" r="5.5" fill="#cf0a86"/>
<circle cx="1550.4" cy="343.2" r="5.5" fill="#059c3a"/>
<circle cx="1575.8" cy="341.9" r="5.5" fill="#059c3a"/>
<circle cx="1493.3" cy="294.7" r="5.5" fill="#0c5bbf"/>
<circle cx="1436.2" cy="289.8" r="5.5" fill="#cf0a86"/>
<circle cx="1563.5" cy="329.9" r="5.5" fill="#059c3a"/>
<circle cx="1566.3" cy="352.6" r="5.5" fill="#059c3a"/>
<circle cx="1418.5" cy="349.2" r="5.5" fill="#cf0a86"/>
<circle cx="1419.7" cy="328.6" r="5.5" fill="#cf0a86"/>
<circle cx="1537.9" cy="330.6" r="5.5" fill="#0c5bbf"/>
<circle cx="1529.1" cy="260.9" r="5.5" fill="#0c5bbf"/>
<circle cx="1541.9" cy="350.4" r="5.5" fill="#059c3a"/>
<circle cx="1587.6" cy="232.6" r="5.5" fill="#059c3a"/>
<circle cx="1542.6" cy="397.5" r="5.5" fill="#059c3a"/>
<circle cx="1459.7" cy="335.8" r="5.5" fill="#cf0a86"/>
<circle cx="1556.4" cy="346.7" r="5.5" fill="#0c5bbf"/>
<circle cx="1559.1" cy="334.4" r="5.5" fill="#0c5bbf"/>
<circle cx="1684.6" cy="372.1" r="5.5" fill="#0c5bbf"/>
<circle cx="1537.6" cy="344.2" r="5.5" fill="#0c5bbf"/>
<circle cx="1413.7" cy="321.3" r="5.5" fill="#cf0a86"/>
<circle cx="1603.1" cy="336.7" r="5.5" fill="#059c3a"/>
<circle cx="1582.6" cy="324.0" r="5.5" fill="#059c3a"/>
<circle cx="1453.7" cy="323.0" r="5.5" fill="#cf0a86"/>
<circle cx="1601.1" cy="325.2" r="5.5" fill="#059c3a"/>
<circle cx="1541.9" cy="341.9" r="5.5" fill="#059c3a"/>
<circle cx="1550.4" cy="315.3" r="5.5" fill="#0c5bbf"/>
<circle cx="1410.1" cy="346.7" r="5.5" fill="#cf0a86"/>
<circle cx="1567.9" cy="335.1" r="5.5" fill="#0c5bbf"/>
<circle cx="1553.9" cy="324.3" r="5.5" fill="#0c5bbf"/>
<circle cx="1420.9" cy="352.8" r="5.5" fill="#cf0a86"/>
<circle cx="1519.9" cy="343.3" r="5.5" fill="#059c3a"/>
<circle cx="1399.2" cy="369.0" r="5.5" fill="#cf0a86"/>
<circle cx="1587.6" cy="258.9" r="5.5" fill="#059c3a"/>
<circle cx="1707.6" cy="332.2" r="5.5" fill="#0c5bbf"/>
<circle cx="1415.4" cy="288.9" r="5.5" fill="#cf0a86"/>
<circle cx="1412.6" cy="363.5" r="5.5" fill="#cf0a86"/>
<circle cx="1448.8" cy="302.0" r="5.5" fill="#cf0a86"/>
<circle cx="1526.7" cy="325.8" r="5.5" fill="#059c3a"/>
<circle cx="1597.1" cy="359.6" r="5.5" fill="#059c3a"/>
<circle cx="1416.9" cy="307.0" r="5.5" fill="#cf0a86"/>
<circle cx="1555.9" cy="286.3" r="5.5" fill="#0c5bbf"/>
<circle cx="1528.3" cy="330.2" r="5.5" fill="#059c3a"/>
<circle cx="1572.0" cy="302.2" r="5.5" fill="#0c5bbf"/>
<circle cx="1568.4" cy="324.5" r="5.5" fill="#0c5bbf"/>
<circle cx="1449.5" cy="328.5" r="5.5" fill="#cf0a86"/>
<circle cx="1543.8" cy="294.2" r="5.5" fill="#0c5bbf"/>
<circle cx="1447.6" cy="282.6" r="5.5" fill="#cf0a86"/>
<circle cx="1443.9" cy="331.0" r="5.5" fill="#cf0a86"/>
<circle cx="1671.3" cy="365.4" r="5.5" fill="#059c3a"/>
<circle cx="1646.4" cy="366.1" r="5.5" fill="#059c3a"/>
<circle cx="1421.1" cy="341.8" r="5.5" fill="#cf0a86"/>
<circle cx="1600.9" cy="345.5" r="5.5" fill="#0c5bbf"/>
<circle cx="1582.4" cy="353.3" r="5.5" fill="#0c5bbf"/>
<circle cx="1580.6" cy="292.3" r="5.5" fill="#0c5bbf"/>
<circle cx="1555.2" cy="299.6" r="5.5" fill="#0c5bbf"/>
<circle cx="1412.5" cy="332.2" r="5.5" fill="#cf0a86"/>
<circle cx="1508.5" cy="326.2" r="5.5" fill="#0c5bbf"/>
<circle cx="1539.5" cy="357.6" r="5.5" fill="#0c5bbf"/>
<circle cx="1422.6" cy="347.6" r="5.5" fill="#cf0a86"/>
<circle cx="1548.0" cy="353.7" r="5.5" fill="#059c3a"/>
<circle cx="1425.8" cy="346.7" r="5.5" fill="#cf0a86"/>
<circle cx="1415.7" cy="336.3" r="5.5" fill="#cf0a86"/>
<circle cx="1642.8" cy="395.1" r="5.5" fill="#059c3a"/>
<circle cx="1542.0" cy="318.8" r="5.5" fill="#059c3a"/>
<circle cx="1407.5" cy="312.4" r="5.5" fill="#cf0a86"/>
<circle cx="1417.8" cy="258.9" r="5.5" fill="#cf0a86"/>
<circle cx="1410.1" cy="294.7" r="5.5" fill="#cf0a86"/>
<circle cx="1443.8" cy="288.1" r="5.5" fill="#cf0a86"/>
<circle cx="1454.6" cy="263.8" r="5.5" fill="#cf0a86"/>
<circle cx="1420.9" cy="362.5" r="5.5" fill="#cf0a86"/>
<circle cx="1527.4" cy="320.1" r="5.5" fill="#059c3a"/>
<circle cx="1596.3" cy="367.3" r="5.5" fill="#0c5bbf"/>
<circle cx="1426.3" cy="315.8" r="5.5" fill="#cf0a86"/>
<circle cx="1592.6" cy="352.0" r="5.5" fill="#059c3a"/>
<circle cx="1696.7" cy="392.0" r="5.5" fill="#0c5bbf"/>
<circle cx="1495.5" cy="347.2" r="5.5" fill="#0c5bbf"/>
<circle cx="1422.4" cy="273.2" r="5.5" fill="#cf0a86"/>
<circle cx="1621.2" cy="287.5" r="5.5" fill="#059c3a"/>
<circle cx="1431.8" cy="343.1" r="5.5" fill="#cf0a86"/>
<circle cx="1421.5" cy="338.7" r="5.5" fill="#cf0a86"/>
<circle cx="1572.1" cy="291.1" r="5.5" fill="#0c5bbf"/>
<circle cx="1436.9" cy="226.0" r="5.5" fill="#cf0a86"/>
<circle cx="1525.4" cy="350.2" r="5.5" fill="#059c3a"/>
<circle cx="1444.1" cy="328.4" r="5.5" fill="#cf0a86"/>
<circle cx="1532.2" cy="316.5" r="5.5" fill="#0c5bbf"/>
<circle cx="1412.0" cy="332.7" r="5.5" fill="#cf0a86"/>
<circle cx="1549.6" cy="239.1" r="5.5" fill="#059c3a"/>
<circle cx="1428.8" cy="312.4" r="5.5" fill="#cf0a86"/>
<circle cx="1520.0" cy="321.1" r="5.5" fill="#0c5bbf"/>
<circle cx="1522.5" cy="335.8" r="5.5" fill="#0c5bbf"/>
<circle cx="1417.3" cy="398.0" r="5.5" fill="#cf0a86"/>
<circle cx="1428.2" cy="302.0" r="5.5" fill="#cf0a86"/>
<circle cx="1580.4" cy="355.6" r="5.5" fill="#059c3a"/>
<circle cx="1507.3" cy="289.9" r="5.5" fill="#059c3a"/>
<circle cx="1570.9" cy="268.8" r="5.5" fill="#059c3a"/>
<circle cx="1539.5" cy="310.4" r="5.5" fill="#059c3a"/>
<circle cx="1432.3" cy="292.1" r="5.5" fill="#cf0a86"/>
<circle cx="1525.8" cy="352.6" r="5.5" fill="#059c3a"/>
<circle cx="1437.9" cy="381.1" r="5.5" fill="#cf0a86"/>
<circle cx="1676.1" cy="307.3" r="5.5" fill="#059c3a"/>
<circle cx="1659.9" cy="327.9" r="5.5" fill="#059c3a"/>
<circle cx="1531.5" cy="262.6" r="5.5" fill="#0c5bbf"/>
<circle cx="1432.3" cy="340.7" r="5.5" fill="#cf0a86"/>
<circle cx="1602.5" cy="335.4" r="5.5" fill="#059c3a"/>
<circle cx="1406.4" cy="323.8" r="5.5" fill="#cf0a86"/>
<circle cx="1522.9" cy="346.2" r="5.5" fill="#0c5bbf"/>
<circle cx="1532.2" cy="298.4" r="5.5" fill="#059c3a"/>
<circle cx="1570.5" cy="320.6" r="5.5" fill="#059c3a"/>
<circle cx="1526.2" cy="341.4" r="5.5" fill="#0c5bbf"/>
<circle cx="1592.9" cy="336.6" r="5.5" fill="#059c3a"/>
<circle cx="1431.8" cy="335.8" r="5.5" fill="#cf0a86"/>
<circle cx="1577.4" cy="335.8" r="5.5" fill="#0c5bbf"/>
<circle cx="1521.8" cy="286.3" r="5.5" fill="#0c5bbf"/>
<circle cx="1579.9" cy="327.4" r="5.5" fill="#0c5bbf"/>
<circle cx="1514.6" cy="351.6" r="5.5" fill="#0c5bbf"/>
<circle cx="1413.5" cy="360.4" r="5.5" fill="#cf0a86"/>
<circle cx="1542.6" cy="330.0" r="5.5" fill="#0c5bbf"/>
<circle cx="1590.3" cy="395.1" r="5.5" fill="#059c3a"/>
<circle cx="1593.9" cy="314.1" r="5.5" fill="#0c5bbf"/>
<circle cx="1602.4" cy="381.8" r="5.5" fill="#059c3a"/>
<circle cx="1450.7" cy="328.9" r="5.5" fill="#cf0a86"/>
<circle cx="1540.4" cy="279.0" r="5.5" fill="#059c3a"/>
<circle cx="1404.0" cy="354.0" r="5.5" fill="#cf0a86"/>
<circle cx="1533.4" cy="339.3" r="5.5" fill="#059c3a"/>
<circle cx="1585.4" cy="293.5" r="5.5" fill="#0c5bbf"/>
<circle cx="1570.3" cy="303.5" r="5.5" fill="#0c5bbf"/>
<circle cx="1440.0" cy="336.7" r="5.5" fill="#cf0a86"/>
<circle cx="1527.7" cy="337.7" r="5.5" fill="#059c3a"/>
<circle cx="1451.2" cy="280.2" r="5.5" fill="#cf0a86"/>
<circle cx="1415.6" cy="366.8" r="5.5" fill="#cf0a86"/>
<circle cx="1410.5" cy="332.4" r="5.5" fill="#cf0a86"/>
<circle cx="1427.7" cy="311.9" r="5.5" fill="#cf0a86"/>
<circle cx="1424.8" cy="310.4" r="5.5" fill="#cf0a86"/>
<circle cx="1448.2" cy="299.4" r="5.5" fill="#cf0a86"/>
<circle cx="1567.3" cy="297.1" r="5.5" fill="#059c3a"/>
<circle cx="1421.8" cy="302.6" r="5.5" fill="#cf0a86"/>
<circle cx="1593.9" cy="345.5" r="5.5" fill="#0c5bbf"/>
<circle cx="1449.9" cy="309.3" r="5.5" fill="#cf0a86"/>
<circle cx="1616.9" cy="352.8" r="5.5" fill="#0c5bbf"/>
<circle cx="1438.0" cy="304.6" r="5.5" fill="#cf0a86"/>
<circle cx="1441.5" cy="329.2" r="5.5" fill="#cf0a86"/>
<circle cx="1533.8" cy="320.4" r="5.5" fill="#059c3a"/>
<circle cx="1432.7" cy="329.1" r="5.5" fill="#cf0a86"/>
<circle cx="1618.1" cy="386.6" r="5.5" fill="#059c3a"/>
<circle cx="1528.0" cy="355.8" r="5.5" fill="#059c3a"/>
<circle cx="1473.0" cy="344.3" r="5.5" fill="#cf0a86"/>
<circle cx="1437.8" cy="327.8" r="5.5" fill="#cf0a86"/>
<circle cx="1555.2" cy="361.2" r="5.5" fill="#0c5bbf"/>
<circle cx="1541.9" cy="366.1" r="5.5" fill="#0c5bbf"/>
<circle cx="1556.4" cy="369.7" r="5.5" fill="#059c3a"/>
<circle cx="1445.3" cy="322.8" r="5.5" fill="#cf0a86"/>
<circle cx="1581.8" cy="373.3" r="5.5" fill="#059c3a"/>
<circle cx="1435.2" cy="330.8" r="5.5" fill="#cf0a86"/>
<circle cx="1574.6" cy="329.7" r="5.5" fill="#059c3a"/>
<circle cx="1427.0" cy="331.0" r="5.5" fill="#cf0a86"/>
<circle cx="1608.2" cy="340.1" r="5.5" fill="#059c3a"/>
<circle cx="1646.4" cy="380.1" r="5.5" fill="#0c5bbf"/>
<circle cx="1437.9" cy="304.4" r="5.5" fill="#cf0a86"/>
<circle cx="1627.0" cy="372.9" r="5.5" fill="#0c5bbf"/>
<circle cx="1432.8" cy="243.7" r="5.5" fill="#cf0a86"/>
<circle cx="1593.4" cy="343.1" r="5.5" fill="#0c5bbf"/>
<circle cx="1603.1" cy="344.5" r="5.5" fill="#0c5bbf"/>
<circle cx="1581.3" cy="345.3" r="5.5" fill="#0c5bbf"/>
<circle cx="1540.4" cy="230.6" r="5.5" fill="#0c5bbf"/>
<circle cx="1425.8" cy="370.9" r="5.5" fill="#cf0a86"/>
<circle cx="1439.4" cy="305.2" r="5.5" fill="#cf0a86"/>
<circle cx="1551.0" cy="315.1" r="5.5" fill="#0c5bbf"/>
<circle cx="1527.0" cy="331.0" r="5.5" fill="#059c3a"/>
<circle cx="1574.6" cy="373.3" r="5.5" fill="#059c3a"/>
<circle cx="1489.4" cy="382.3" r="5.5" fill="#0c5bbf"/>
<circle cx="1461.3" cy="318.9" r="5.5" fill="#cf0a86"/>
<circle cx="1546.4" cy="355.6" r="5.5" fill="#059c3a"/>
<circle cx="1550.4" cy="386.6" r="5.5" fill="#0c5bbf"/>
<circle cx="1551.3" cy="356.6" r="5.5" fill="#059c3a"/>
<circle cx="1539.5" cy="331.0" r="5.5" fill="#059c3a"/>
<circle cx="1622.9" cy="309.2" r="5.5" fill="#059c3a"/>
<circle cx="1570.9" cy="333.4" r="5.5" fill="#059c3a"/>
<circle cx="1438.2" cy="314.8" r="5.5" fill="#cf0a86"/>
<circle cx="1468.1" cy="318.2" r="5.5" fill="#cf0a86"/>
<circle cx="1619.3" cy="348.7" r="5.5" fill="#059c3a"/>
<circle cx="1497.1" cy="370.4" r="5.5" fill="#0c5bbf"/>
<circle cx="1425.8" cy="312.9" r="5.5" fill="#cf0a86"/>
<circle cx="1418.0" cy="308.2" r="5.5" fill="#cf0a86"/>
<circle cx="1405.2" cy="333.4" r="5.5" fill="#cf0a86"/>
<circle cx="1438.3" cy="341.2" r="5.5" fill="#cf0a86"/>
<circle cx="1576.6" cy="345.9" r="5.5" fill="#059c3a"/>
<circle cx="1445.1" cy="312.9" r="5.5" fill="#cf0a86"/>
<circle cx="1610.8" cy="356.4" r="5.5" fill="#0c5bbf"/>
<circle cx="1562.0" cy="339.1" r="5.5" fill="#059c3a"/>
<circle cx="1568.8" cy="346.8" r="5.5" fill="#0c5bbf"/>
<circle cx="1667.2" cy="383.0" r="5.5" fill="#0c5bbf"/>
<circle cx="1564.4" cy="356.4" r="5.5" fill="#059c3a"/>
<circle cx="1434.8" cy="325.3" r="5.5" fill="#cf0a86"/>
<circle cx="1552.9" cy="346.2" r="5.5" fill="#0c5bbf"/>
<circle cx="1418.5" cy="292.3" r="5.5" fill="#cf0a86"/>
<circle cx="1437.3" cy="316.5" r="5.5" fill="#cf0a86"/>
<circle cx="1598.7" cy="349.2" r="5.5" fill="#0c5bbf"/>
<circle cx="1590.3" cy="300.8" r="5.5" fill="#0c5bbf"/>
<circle cx="1452.4" cy="333.4" r="5.5" fill="#cf0a86"/>
<circle cx="1560.0" cy="291.1" r="5.5" fill="#0c5bbf"/>
<circle cx="1407.6" cy="360.0" r="5.5" fill="#cf0a86"/>
<circle cx="1572.0" cy="349.7" r="5.5" fill="#059c3a"/>
<circle cx="1416.8" cy="273.7" r="5.5" fill="#cf0a86"/>
<circle cx="1562.8" cy="342.0" r="5.5" fill="#059c3a"/>
<circle cx="1584.3" cy="334.0" r="5.5" fill="#0c5bbf"/>
<circle cx="1570.8" cy="358.6" r="5.5" fill="#059c3a"/>
<circle cx="1449.3" cy="252.4" r="5.5" fill="#cf0a86"/>
<circle cx="1424.4" cy="293.0" r="5.5" fill="#cf0a86"/>
<circle cx="1424.5" cy="340.7" r="5.5" fill="#cf0a86"/>
<circle cx="1413.5" cy="292.5" r="5.5" fill="#cf0a86"/>
<circle cx="1602.2" cy="330.4" r="5.5" fill="#0c5bbf"/>
<circle cx="1545.2" cy="361.4" r="5.5" fill="#059c3a"/>
<circle cx="1459.7" cy="335.8" r="5.5" fill="#0c5bbf"/>
<circle cx="1445.9" cy="334.3" r="5.5" fill="#cf0a86"/>
<circle cx="1417.4" cy="313.4" r="5.5" fill="#cf0a86"/>
<circle cx="1425.1" cy="285.1" r="5.5" fill="#cf0a86"/>
<circle cx="1412.5" cy="373.3" r="5.5" fill="#cf0a86"/>
<circle cx="1430.4" cy="336.5" r="5.5" fill="#cf0a86"/>
<circle cx="1411.9" cy="315.1" r="5.5" fill="#cf0a86"/>
<circle cx="1551.6" cy="372.1" r="5.5" fill="#059c3a"/>
<circle cx="1385.9" cy="375.8" r="5.5" fill="#cf0a86"/>
<circle cx="1569.6" cy="319.9" r="5.5" fill="#0c5bbf"/>
<circle cx="1575.3" cy="424.1" r="5.5" fill="#059c3a"/>
<circle cx="1644.0" cy="293.5" r="5.5" fill="#0c5bbf"/>
<circle cx="1408.2" cy="307.4" r="5.5" fill="#cf0a86"/>
<circle cx="1587.0" cy="356.3" r="5.5" fill="#0c5bbf"/>
<circle cx="1409.3" cy="383.0" r="5.5" fill="#cf0a86"/>
<circle cx="1434.4" cy="316.9" r="5.5" fill="#cf0a86"/>
<circle cx="1446.2" cy="320.9" r="5.5" fill="#cf0a86"/>
<circle cx="1552.1" cy="314.1" r="5.5" fill="#059c3a"/>
<circle cx="1554.0" cy="332.2" r="5.5" fill="#059c3a"/>
<circle cx="1435.0" cy="320.3" r="5.5" fill="#cf0a86"/>
<circle cx="1601.2" cy="385.4" r="5.5" fill="#059c3a"/>
<circle cx="1549.2" cy="378.2" r="5.5" fill="#059c3a"/>
<circle cx="1439.8" cy="262.8" r="5.5" fill="#cf0a86"/>
<circle cx="1599.4" cy="338.9" r="5.5" fill="#0c5bbf"/>
<circle cx="1458.4" cy="287.5" r="5.5" fill="#cf0a86"/>
<circle cx="1433.9" cy="326.1" r="5.5" fill="#cf0a86"/>
<circle cx="1486.7" cy="306.1" r="5.5" fill="#0c5bbf"/>
<circle cx="1408.9" cy="367.3" r="5.5" fill="#cf0a86"/>
<circle cx="1451.2" cy="321.3" r="5.5" fill="#cf0a86"/>
<circle cx="1569.7" cy="356.4" r="5.5" fill="#059c3a"/>
<circle cx="1458.4" cy="320.6" r="5.5" fill="#cf0a86"/>
<circle cx="1427.0" cy="226.3" r="5.5" fill="#cf0a86"/>
<circle cx="1572.7" cy="338.7" r="5.5" fill="#0c5bbf"/>
<circle cx="1581.8" cy="346.7" r="5.5" fill="#059c3a"/>
<circle cx="1686.1" cy="302.7" r="5.5" fill="#059c3a"/>
<circle cx="1418.3" cy="350.9" r="5.5" fill="#cf0a86"/>
<circle cx="1535.1" cy="415.9" r="5.5" fill="#0c5bbf"/>
<circle cx="1645.9" cy="370.4" r="5.5" fill="#059c3a"/>
<circle cx="1538.7" cy="336.8" r="5.5" fill="#0c5bbf"/>
<circle cx="1423.4" cy="322.5" r="5.5" fill="#cf0a86"/>
<circle cx="1534.8" cy="345.3" r="5.5" fill="#059c3a"/>
<circle cx="1532.9" cy="250.5" r="5.5" fill="#0c5bbf"/>
<circle cx="1461.3" cy="198.0" r="5.5" fill="#cf0a86"/>
<circle cx="1595.6" cy="283.1" r="5.5" fill="#059c3a"/>
<circle cx="1549.9" cy="282.6" r="5.5" fill="#0c5bbf"/>
<circle cx="1608.4" cy="318.9" r="5.5" fill="#059c3a"/>
<circle cx="1592.0" cy="387.9" r="5.5" fill="#059c3a"/>
<circle cx="1427.5" cy="274.2" r="5.5" fill="#cf0a86"/>
<circle cx="1599.6" cy="343.9" r="5.5" fill="#0c5bbf"/>
<circle cx="1689.5" cy="408.4" r="5.5" fill="#059c3a"/>
<circle cx="1419.1" cy="322.7" r="5.5" fill="#cf0a86"/>
<circle cx="1576.0" cy="221.4" r="5.5" fill="#0c5bbf"/>
<circle cx="1500.3" cy="286.7" r="5.5" fill="#0c5bbf"/>
<circle cx="1562.5" cy="356.4" r="5.5" fill="#059c3a"/>
<circle cx="1474.6" cy="218.5" r="5.5" fill="#cf0a86"/>
<circle cx="1597.3" cy="346.6" r="5.5" fill="#0c5bbf"/>
<circle cx="1594.6" cy="360.8" r="5.5" fill="#059c3a"/>
<circle cx="1393.9" cy="389.8" r="5.5" fill="#cf0a86"/>
<circle cx="1644.9" cy="277.3" r="5.5" fill="#059c3a"/>
<circle cx="1658.7" cy="352.8" r="5.5" fill="#0c5bbf"/>
<circle cx="1449.5" cy="287.5" r="5.5" fill="#cf0a86"/>
<circle cx="1668.2" cy="376.2" r="5.5" fill="#059c3a"/>
<circle cx="1590.9" cy="335.1" r="5.5" fill="#059c3a"/>
<circle cx="1554.0" cy="340.7" r="5.5" fill="#059c3a"/>
<circle cx="1440.4" cy="287.7" r="5.5" fill="#cf0a86"/>
<circle cx="1563.7" cy="363.7" r="5.5" fill="#059c3a"/>
<circle cx="1403.9" cy="353.0" r="5.5" fill="#cf0a86"/>
<circle cx="1577.2" cy="340.7" r="5.5" fill="#0c5bbf"/>
<circle cx="1505.1" cy="304.4" r="5.5" fill="#0c5bbf"/>
<circle cx="1423.7" cy="344.7" r="5.5" fill="#cf0a86"/>
<circle cx="1433.0" cy="323.8" r="5.5" fill="#cf0a86"/>
<circle cx="1402.3" cy="308.5" r="5.5" fill="#cf0a86"/>
<circle cx="1409.3" cy="398.0" r="5.5" fill="#cf0a86"/>
<circle cx="1479.0" cy="342.4" r="5.5" fill="#0c5bbf"/>
<circle cx="1635.0" cy="346.7" r="5.5" fill="#059c3a"/>
<circle cx="1568.2" cy="360.3" r="5.5" fill="#059c3a"/>
<circle cx="1419.4" cy="330.6" r="5.5" fill="#cf0a86"/>
<circle cx="1454.8" cy="312.9" r="5.5" fill="#cf0a86"/>
<circle cx="1562.5" cy="317.7" r="5.5" fill="#0c5bbf"/>
<circle cx="1428.2" cy="352.8" r="5.5" fill="#cf0a86"/>
<circle cx="1413.7" cy="300.8" r="5.5" fill="#cf0a86"/>
<circle cx="1537.1" cy="271.3" r="5.5" fill="#0c5bbf"/>
<circle cx="1575.8" cy="306.8" r="5.5" fill="#0c5bbf"/>
<circle cx="1434.3" cy="365.6" r="5.5" fill="#cf0a86"/>
<circle cx="1438.5" cy="317.7" r="5.5" fill="#cf0a86"/>
<circle cx="1568.4" cy="341.0" r="5.5" fill="#059c3a"/>
<circle cx="1601.1" cy="326.1" r="5.5" fill="#059c3a"/>
<circle cx="1561.2" cy="306.8" r="5.5" fill="#059c3a"/>
<circle cx="1559.1" cy="260.9" r="5.5" fill="#0c5bbf"/>
<circle cx="1522.5" cy="328.6" r="5.5" fill="#059c3a"/>
<circle cx="1567.3" cy="320.1" r="5.5" fill="#059c3a"/>
<circle cx="1594.4" cy="334.7" r="5.5" fill="#059c3a"/>
<circle cx="1558.8" cy="388.3" r="5.5" fill="#059c3a"/>
<circle cx="1762.3" cy="374.6" r="5.5" fill="#0c5bbf"/>
<circle cx="1629.2" cy="302.0" r="5.5" fill="#0c5bbf"/>
<circle cx="1559.6" cy="341.0" r="5.5" fill="#0c5bbf"/>
<circle cx="1423.5" cy="341.7" r="5.5" fill="#cf0a86"/>
<circle cx="1648.3" cy="392.0" r="5.5" fill="#0c5bbf"/>
<circle cx="1430.0" cy="359.1" r="5.5" fill="#cf0a86"/>
<circle cx="1498.4" cy="335.1" r="5.5" fill="#0c5bbf"/>
<circle cx="1407.1" cy="359.0" r="5.5" fill="#cf0a86"/>
<circle cx="1560.6" cy="329.5" r="5.5" fill="#0c5bbf"/>
<circle cx="1411.8" cy="355.4" r="5.5" fill="#cf0a86"/>
<circle cx="1447.6" cy="335.8" r="5.5" fill="#cf0a86"/>
<circle cx="1538.3" cy="344.3" r="5.5" fill="#0c5bbf"/>
<circle cx="1561.2" cy="339.5" r="5.5" fill="#059c3a"/>
<circle cx="1520.1" cy="369.0" r="5.5" fill="#0c5bbf"/>
<circle cx="1446.2" cy="326.2" r="5.5" fill="#cf0a86"/>
<circle cx="1595.6" cy="292.8" r="5.5" fill="#059c3a"/>
<circle cx="1431.3" cy="343.4" r="5.5" fill="#cf0a86"/>
<circle cx="1595.8" cy="414.9" r="5.5" fill="#0c5bbf"/>
<circle cx="1520.4" cy="334.9" r="5.5" fill="#059c3a"/>
<circle cx="1434.7" cy="254.1" r="5.5" fill="#cf0a86"/>
<circle cx="1442.7" cy="248.0" r="5.5" fill="#cf0a86"/>
<circle cx="1411.5" cy="280.2" r="5.5" fill="#cf0a86"/>
<circle cx="1612.0" cy="346.7" r="5.5" fill="#059c3a"/>
</g>
<rect x="1367.20" y="160.40" width="414.00" height="334.30" fill="none" stroke="#2b2b2b" stroke-width="1.05"/>
<text x="1358.00" y="429.22" font-size="14.40" font-weight="bold" fill="#000" text-anchor="end">-3</text>
<text x="1358.00" y="346.27" font-size="14.40" font-weight="bold" fill="#000" text-anchor="end">0</text>
<text x="1358.00" y="263.32" font-size="14.40" font-weight="bold" fill="#000" text-anchor="end">3</text>
<text x="1358.00" y="180.37" font-size="14.40" font-weight="bold" fill="#000" text-anchor="end">6</text>
<path d="M1367.20 424.15h-4.8M1367.20 341.20h-4.8M1367.20 258.25h-4.8M1367.20 175.30h-4.8" stroke="#222" stroke-width="1.1" fill="none"/>
<rect x="1367.20" y="505.90" width="414.00" height="334.50" fill="#fff"/>
<path d="M1462.75 505.90V840.40M1576.45 505.90V840.40M1690.15 505.90V840.40M1367.20 811.52H1781.20M1367.20 728.58H1781.20M1367.20 645.62H1781.20M1367.20 562.68H1781.20" stroke="#000" stroke-opacity=".11" stroke-width=".9" fill="none"/>
<path d="M1405.90 505.90V840.40M1519.60 505.90V840.40M1633.30 505.90V840.40M1747.00 505.90V840.40M1367.20 770.05H1781.20M1367.20 687.10H1781.20M1367.20 604.15H1781.20M1367.20 521.20H1781.20" stroke="#000" stroke-opacity=".25" stroke-width="1" fill="none"/>
<g stroke="#141414" stroke-opacity=".88" stroke-width="1.4" fill-opacity=".7">
<circle cx="1577.7" cy="644.5" r="5.5" fill="#0c5bbf"/>
<circle cx="1585.3" cy="685.3" r="5.5" fill="#059c3a"/>
<circle cx="1405.1" cy="692.3" r="5.5" fill="#cf0a86"/>
<circle cx="1593.5" cy="671.5" r="5.5" fill="#059c3a"/>
<circle cx="1541.9" cy="646.4" r="5.5" fill="#0c5bbf"/>
<circle cx="1528.2" cy="728.7" r="5.5" fill="#0c5bbf"/>
<circle cx="1572.1" cy="715.8" r="5.5" fill="#059c3a"/>
<circle cx="1522.5" cy="752.1" r="5.5" fill="#0c5bbf"/>
<circle cx="1591.4" cy="689.8" r="5.5" fill="#059c3a"/>
<circle cx="1573.3" cy="639.7" r="5.5" fill="#0c5bbf"/>
<circle cx="1418.5" cy="699.9" r="5.5" fill="#cf0a86"/>
<circle cx="1395.1" cy="747.3" r="5.5" fill="#cf0a86"/>
<circle cx="1617.4" cy="665.1" r="5.5" fill="#059c3a"/>
<circle cx="1527.1" cy="688.5" r="5.5" fill="#0c5bbf"/>
<circle cx="1637.4" cy="698.9" r="5.5" fill="#059c3a"/>
<circle cx="1511.7" cy="595.6" r="5.5" fill="#0c5bbf"/>
<circle cx="1591.1" cy="711.6" r="5.5" fill="#059c3a"/>
<circle cx="1610.8" cy="703.8" r="5.5" fill="#059c3a"/>
<circle cx="1430.6" cy="724.3" r="5.5" fill="#cf0a86"/>
<circle cx="1405.2" cy="691.7" r="5.5" fill="#cf0a86"/>
<circle cx="1423.3" cy="703.0" r="5.5" fill="#cf0a86"/>
<circle cx="1414.2" cy="722.7" r="5.5" fill="#cf0a86"/>
<circle cx="1617.3" cy="694.7" r="5.5" fill="#059c3a"/>
<circle cx="1565.6" cy="714.2" r="5.5" fill="#059c3a"/>
<circle cx="1408.9" cy="672.7" r="5.5" fill="#cf0a86"/>
<circle cx="1552.3" cy="614.3" r="5.5" fill="#0c5bbf"/>
<circle cx="1523.4" cy="639.9" r="5.5" fill="#0c5bbf"/>
<circle cx="1420.9" cy="634.8" r="5.5" fill="#cf0a86"/>
<circle cx="1433.0" cy="742.5" r="5.5" fill="#cf0a86"/>
<circle cx="1436.7" cy="686.8" r="5.5" fill="#cf0a86"/>
<circle cx="1431.8" cy="734.9" r="5.5" fill="#cf0a86"/>
<circle cx="1588.1" cy="692.9" r="5.5" fill="#059c3a"/>
<circle cx="1418.0" cy="711.5" r="5.5" fill="#cf0a86"/>
<circle cx="1584.2" cy="762.5" r="5.5" fill="#059c3a"/>
<circle cx="1529.8" cy="666.3" r="5.5" fill="#0c5bbf"/>
<circle cx="1607.2" cy="758.2" r="5.5" fill="#059c3a"/>
<circle cx="1510.9" cy="767.9" r="5.5" fill="#059c3a"/>
<circle cx="1514.8" cy="651.7" r="5.5" fill="#059c3a"/>
<circle cx="1526.8" cy="650.8" r="5.5" fill="#0c5bbf"/>
<circle cx="1515.3" cy="630.0" r="5.5" fill="#0c5bbf"/>
<circle cx="1568.7" cy="712.0" r="5.5" fill="#059c3a"/>
<circle cx="1418.5" cy="734.0" r="5.5" fill="#cf0a86"/>
<circle cx="1547.9" cy="658.5" r="5.5" fill="#059c3a"/>
<circle cx="1417.4" cy="708.1" r="5.5" fill="#cf0a86"/>
<circle cx="1424.6" cy="659.0" r="5.5" fill="#cf0a86"/>
<circle cx="1522.1" cy="773.9" r="5.5" fill="#0c5bbf"/>
<circle cx="1413.7" cy="714.6" r="5.5" fill="#cf0a86"/>
<circle cx="1541.9" cy="685.6" r="5.5" fill="#059c3a"/>
<circle cx="1538.3" cy="707.4" r="5.5" fill="#0c5bbf"/>
<circle cx="1395.1" cy="714.2" r="5.5" fill="#cf0a86"/>
<circle cx="1585.8" cy="687.2" r="5.5" fill="#059c3a"/>
<circle cx="1494.2" cy="607.0" r="5.5" fill="#0c5bbf"/>
<circle cx="1560.0" cy="662.6" r="5.5" fill="#059c3a"/>
<circle cx="1622.9" cy="690.4" r="5.5" fill="#059c3a"/>
<circle cx="1586.2" cy="737.6" r="5.5" fill="#059c3a"/>
<circle cx="1499.6" cy="671.1" r="5.5" fill="#0c5bbf"/>
<circle cx="1411.3" cy="724.3" r="5.5" fill="#cf0a86"/>
<circle cx="1526.2" cy="653.0" r="5.5" fill="#0c5bbf"/>
<circle cx="1411.3" cy="677.1" r="5.5" fill="#cf0a86"/>
<circle cx="1420.9" cy="721.9" r="5.5" fill="#cf0a86"/>
<circle cx="1499.8" cy="683.8" r="5.5" fill="#0c5bbf"/>
<circle cx="1425.5" cy="666.9" r="5.5" fill="#cf0a86"/>
<circle cx="1567.3" cy="707.4" r="5.5" fill="#059c3a"/>
<circle cx="1555.2" cy="644.5" r="5.5" fill="#0c5bbf"/>
<circle cx="1500.8" cy="727.9" r="5.5" fill="#0c5bbf"/>
<circle cx="1399.2" cy="742.5" r="5.5" fill="#cf0a86"/>
<circle cx="1415.0" cy="733.0" r="5.5" fill="#cf0a86"/>
<circle cx="1387.6" cy="745.6" r="5.5" fill="#cf0a86"/>
<circle cx="1529.8" cy="692.9" r="5.5" fill="#059c3a"/>
<circle cx="1547.9" cy="688.0" r="5.5" fill="#059c3a"/>
<circle cx="1514.5" cy="648.4" r="5.5" fill="#0c5bbf"/>
<circle cx="1578.2" cy="686.8" r="5.5" fill="#059c3a"/>
<circle cx="1551.4" cy="684.2" r="5.5" fill="#059c3a"/>
<circle cx="1534.9" cy="713.1" r="5.5" fill="#0c5bbf"/>
<circle cx="1540.9" cy="662.4" r="5.5" fill="#0c5bbf"/>
<circle cx="1423.4" cy="709.8" r="5.5" fill="#cf0a86"/>
<circle cx="1415.1" cy="579.2" r="5.5" fill="#cf0a86"/>
<circle cx="1418.5" cy="700.1" r="5.5" fill="#cf0a86"/>
<circle cx="1421.6" cy="752.1" r="5.5" fill="#cf0a86"/>
<circle cx="1523.9" cy="715.2" r="5.5" fill="#0c5bbf"/>
<circle cx="1637.4" cy="659.0" r="5.5" fill="#059c3a"/>
<circle cx="1593.9" cy="667.5" r="5.5" fill="#059c3a"/>
<circle cx="1633.8" cy="682.7" r="5.5" fill="#059c3a"/>
<circle cx="1525.7" cy="694.1" r="5.5" fill="#0c5bbf"/>
<circle cx="1497.9" cy="755.8" r="5.5" fill="#0c5bbf"/>
<circle cx="1417.8" cy="745.4" r="5.5" fill="#cf0a86"/>
<circle cx="1401.6" cy="754.6" r="5.5" fill="#cf0a86"/>
<circle cx="1423.7" cy="724.9" r="5.5" fill="#cf0a86"/>
<circle cx="1645.9" cy="704.2" r="5.5" fill="#059c3a"/>
<circle cx="1410.1" cy="667.5" r="5.5" fill="#cf0a86"/>
<circle cx="1541.9" cy="740.5" r="5.5" fill="#0c5bbf"/>
<circle cx="1508.0" cy="680.8" r="5.5" fill="#0c5bbf"/>
<circle cx="1545.6" cy="726.2" r="5.5" fill="#0c5bbf"/>
<circle cx="1411.3" cy="760.6" r="5.5" fill="#cf0a86"/>
<circle cx="1581.8" cy="662.6" r="5.5" fill="#059c3a"/>
<circle cx="1606.7" cy="642.1" r="5.5" fill="#059c3a"/>
<circle cx="1615.7" cy="711.0" r="5.5" fill="#059c3a"/>
<circle cx="1428.2" cy="634.8" r="5.5" fill="#cf0a86"/>
<circle cx="1566.1" cy="695.3" r="5.5" fill="#0c5bbf"/>
<circle cx="1586.6" cy="729.2" r="5.5" fill="#059c3a"/>
<circle cx="1574.6" cy="708.6" r="5.5" fill="#059c3a"/>
<circle cx="1418.5" cy="752.1" r="5.5" fill="#cf0a86"/>
<circle cx="1536.4" cy="681.1" r="5.5" fill="#0c5bbf"/>
<circle cx="1545.8" cy="682.8" r="5.5" fill="#059c3a"/>
<circle cx="1452.4" cy="689.2" r="5.5" fill="#cf0a86"/>
<circle cx="1410.1" cy="731.6" r="5.5" fill="#cf0a86"/>
<circle cx="1621.7" cy="673.5" r="5.5" fill="#059c3a"/>
<circle cx="1556.4" cy="650.5" r="5.5" fill="#0c5bbf"/>
<circle cx="1402.8" cy="721.9" r="5.5" fill="#cf0a86"/>
<circle cx="1439.1" cy="740.0" r="5.5" fill="#cf0a86"/>
<circle cx="1436.7" cy="725.5" r="5.5" fill="#cf0a86"/>
<circle cx="1592.7" cy="723.1" r="5.5" fill="#059c3a"/>
<circle cx="1418.2" cy="725.9" r="5.5" fill="#cf0a86"/>
<circle cx="1635.0" cy="713.9" r="5.5" fill="#059c3a"/>
<circle cx="1556.9" cy="692.5" r="5.5" fill="#0c5bbf"/>
<circle cx="1515.3" cy="720.7" r="5.5" fill="#0c5bbf"/>
<circle cx="1528.8" cy="656.8" r="5.5" fill="#0c5bbf"/>
<circle cx="1543.1" cy="678.4" r="5.5" fill="#059c3a"/>
<circle cx="1405.2" cy="668.7" r="5.5" fill="#cf0a86"/>
<circle cx="1590.3" cy="644.5" r="5.5" fill="#0c5bbf"/>
<circle cx="1609.6" cy="653.0" r="5.5" fill="#059c3a"/>
<circle cx="1432.1" cy="703.6" r="5.5" fill="#cf0a86"/>
<circle cx="1401.6" cy="732.8" r="5.5" fill="#cf0a86"/>
<circle cx="1528.6" cy="639.7" r="5.5" fill="#0c5bbf"/>
<circle cx="1406.7" cy="689.1" r="5.5" fill="#cf0a86"/>
<circle cx="1558.8" cy="633.6" r="5.5" fill="#0c5bbf"/>
<circle cx="1416.9" cy="745.8" r="5.5" fill="#cf0a86"/>
<circle cx="1607.2" cy="623.4" r="5.5" fill="#059c3a"/>
<circle cx="1549.2" cy="713.4" r="5.5" fill="#059c3a"/>
<circle cx="1589.1" cy="698.9" r="5.5" fill="#059c3a"/>
<circle cx="1431.8" cy="711.0" r="5.5" fill="#cf0a86"/>
<circle cx="1619.3" cy="712.2" r="5.5" fill="#059c3a"/>
<circle cx="1432.8" cy="692.7" r="5.5" fill="#cf0a86"/>
<circle cx="1546.7" cy="638.4" r="5.5" fill="#0c5bbf"/>
<circle cx="1414.4" cy="703.1" r="5.5" fill="#cf0a86"/>
<circle cx="1561.6" cy="720.2" r="5.5" fill="#059c3a"/>
<circle cx="1414.3" cy="706.1" r="5.5" fill="#cf0a86"/>
<circle cx="1545.5" cy="782.9" r="5.5" fill="#059c3a"/>
<circle cx="1541.9" cy="668.7" r="5.5" fill="#0c5bbf"/>
<circle cx="1512.9" cy="659.0" r="5.5" fill="#0c5bbf"/>
<circle cx="1433.8" cy="688.8" r="5.5" fill="#cf0a86"/>
<circle cx="1509.2" cy="731.6" r="5.5" fill="#0c5bbf"/>
<circle cx="1479.0" cy="650.8" r="5.5" fill="#0c5bbf"/>
<circle cx="1601.9" cy="721.9" r="5.5" fill="#059c3a"/>
<circle cx="1417.3" cy="755.8" r="5.5" fill="#cf0a86"/>
<circle cx="1527.4" cy="730.4" r="5.5" fill="#0c5bbf"/>
<circle cx="1581.8" cy="752.6" r="5.5" fill="#0c5bbf"/>
<circle cx="1566.1" cy="669.9" r="5.5" fill="#059c3a"/>
<circle cx="1428.2" cy="645.7" r="5.5" fill="#cf0a86"/>
<circle cx="1497.1" cy="677.9" r="5.5" fill="#0c5bbf"/>
<circle cx="1608.4" cy="694.1" r="5.5" fill="#059c3a"/>
<circle cx="1445.9" cy="740.0" r="5.5" fill="#cf0a86"/>
<circle cx="1558.5" cy="692.4" r="5.5" fill="#059c3a"/>
<circle cx="1404.0" cy="748.5" r="5.5" fill="#cf0a86"/>
<circle cx="1424.6" cy="627.6" r="5.5" fill="#cf0a86"/>
<circle cx="1506.1" cy="775.6" r="5.5" fill="#0c5bbf"/>
<circle cx="1447.1" cy="688.5" r="5.5" fill="#cf0a86"/>
<circle cx="1527.4" cy="599.0" r="5.5" fill="#0c5bbf"/>
<circle cx="1394.3" cy="734.5" r="5.5" fill="#cf0a86"/>
<circle cx="1445.9" cy="671.8" r="5.5" fill="#cf0a86"/>
<circle cx="1431.8" cy="685.6" r="5.5" fill="#cf0a86"/>
<circle cx="1445.9" cy="605.3" r="5.5" fill="#cf0a86"/>
<circle cx="1568.6" cy="678.7" r="5.5" fill="#059c3a"/>
<circle cx="1426.1" cy="708.0" r="5.5" fill="#cf0a86"/>
<circle cx="1510.4" cy="688.0" r="5.5" fill="#0c5bbf"/>
<circle cx="1587.7" cy="679.2" r="5.5" fill="#059c3a"/>
<circle cx="1543.0" cy="661.8" r="5.5" fill="#0c5bbf"/>
<circle cx="1533.4" cy="735.9" r="5.5" fill="#0c5bbf"/>
<circle cx="1593.9" cy="694.1" r="5.5" fill="#059c3a"/>
<circle cx="1544.3" cy="727.9" r="5.5" fill="#0c5bbf"/>
<circle cx="1550.4" cy="737.6" r="5.5" fill="#0c5bbf"/>
<circle cx="1573.8" cy="690.9" r="5.5" fill="#059c3a"/>
<circle cx="1585.0" cy="719.5" r="5.5" fill="#059c3a"/>
<circle cx="1581.8" cy="678.4" r="5.5" fill="#059c3a"/>
<circle cx="1426.5" cy="677.9" r="5.5" fill="#cf0a86"/>
<circle cx="1402.8" cy="708.6" r="5.5" fill="#cf0a86"/>
<circle cx="1415.8" cy="708.7" r="5.5" fill="#cf0a86"/>
<circle cx="1529.7" cy="707.8" r="5.5" fill="#0c5bbf"/>
<circle cx="1508.0" cy="742.9" r="5.5" fill="#0c5bbf"/>
<circle cx="1614.5" cy="672.3" r="5.5" fill="#059c3a"/>
<circle cx="1556.4" cy="734.5" r="5.5" fill="#0c5bbf"/>
<circle cx="1502.0" cy="705.4" r="5.5" fill="#0c5bbf"/>
<circle cx="1427.3" cy="677.9" r="5.5" fill="#cf0a86"/>
<circle cx="1600.0" cy="689.2" r="5.5" fill="#059c3a"/>
<circle cx="1551.6" cy="677.1" r="5.5" fill="#059c3a"/>
<circle cx="1478.5" cy="751.4" r="5.5" fill="#0c5bbf"/>
<circle cx="1596.3" cy="729.2" r="5.5" fill="#059c3a"/>
<circle cx="1560.0" cy="692.9" r="5.5" fill="#0c5bbf"/>
<circle cx="1423.4" cy="692.9" r="5.5" fill="#cf0a86"/>
<circle cx="1499.6" cy="737.1" r="5.5" fill="#0c5bbf"/>
<circle cx="1630.2" cy="708.6" r="5.5" fill="#059c3a"/>
<circle cx="1559.4" cy="673.7" r="5.5" fill="#0c5bbf"/>
<circle cx="1546.7" cy="706.2" r="5.5" fill="#059c3a"/>
<circle cx="1416.1" cy="649.3" r="5.5" fill="#cf0a86"/>
<circle cx="1424.8" cy="677.2" r="5.5" fill="#cf0a86"/>
<circle cx="1535.3" cy="718.8" r="5.5" fill="#0c5bbf"/>
<circle cx="1616.9" cy="726.3" r="5.5" fill="#059c3a"/>
<circle cx="1523.8" cy="686.8" r="5.5" fill="#059c3a"/>
<circle cx="1431.8" cy="632.4" r="5.5" fill="#cf0a86"/>
<circle cx="1592.0" cy="630.5" r="5.5" fill="#059c3a"/>
<circle cx="1436.7" cy="637.2" r="5.5" fill="#cf0a86"/>
<circle cx="1606.0" cy="707.4" r="5.5" fill="#0c5bbf"/>
<circle cx="1434.3" cy="712.2" r="5.5" fill="#cf0a86"/>
<circle cx="1564.2" cy="591.8" r="5.5" fill="#059c3a"/>
<circle cx="1423.4" cy="741.2" r="5.5" fill="#cf0a86"/>
<circle cx="1414.6" cy="678.9" r="5.5" fill="#cf0a86"/>
<circle cx="1613.3" cy="719.5" r="5.5" fill="#059c3a"/>
<circle cx="1519.6" cy="630.9" r="5.5" fill="#059c3a"/>
<circle cx="1562.5" cy="794.5" r="5.5" fill="#0c5bbf"/>
<circle cx="1408.9" cy="698.9" r="5.5" fill="#cf0a86"/>
<circle cx="1580.6" cy="668.7" r="5.5" fill="#059c3a"/>
<circle cx="1518.7" cy="707.1" r="5.5" fill="#0c5bbf"/>
<circle cx="1511.7" cy="605.8" r="5.5" fill="#0c5bbf"/>
<circle cx="1578.2" cy="720.0" r="5.5" fill="#0c5bbf"/>
<circle cx="1500.8" cy="668.7" r="5.5" fill="#0c5bbf"/>
<circle cx="1420.4" cy="720.8" r="5.5" fill="#cf0a86"/>
<circle cx="1418.5" cy="638.4" r="5.5" fill="#cf0a86"/>
<circle cx="1572.7" cy="710.5" r="5.5" fill="#059c3a"/>
<circle cx="1412.7" cy="703.1" r="5.5" fill="#cf0a86"/>
<circle cx="1582.7" cy="700.8" r="5.5" fill="#059c3a"/>
<circle cx="1410.4" cy="681.8" r="5.5" fill="#cf0a86"/>
<circle cx="1570.9" cy="660.2" r="5.5" fill="#0c5bbf"/>
<circle cx="1410.2" cy="704.2" r="5.5" fill="#cf0a86"/>
<circle cx="1514.1" cy="695.3" r="5.5" fill="#059c3a"/>
<circle cx="1412.5" cy="687.6" r="5.5" fill="#cf0a86"/>
<circle cx="1404.5" cy="715.8" r="5.5" fill="#cf0a86"/>
<circle cx="1540.1" cy="675.1" r="5.5" fill="#0c5bbf"/>
<circle cx="1443.9" cy="730.4" r="5.5" fill="#cf0a86"/>
<circle cx="1425.8" cy="667.5" r="5.5" fill="#cf0a86"/>
<circle cx="1415.3" cy="749.2" r="5.5" fill="#cf0a86"/>
<circle cx="1558.6" cy="675.2" r="5.5" fill="#059c3a"/>
<circle cx="1559.6" cy="712.7" r="5.5" fill="#059c3a"/>
<circle cx="1416.8" cy="703.9" r="5.5" fill="#cf0a86"/>
<circle cx="1539.5" cy="632.9" r="5.5" fill="#0c5bbf"/>
<circle cx="1607.9" cy="612.3" r="5.5" fill="#0c5bbf"/>
<circle cx="1588.3" cy="774.4" r="5.5" fill="#059c3a"/>
<circle cx="1425.8" cy="701.3" r="5.5" fill="#cf0a86"/>
<circle cx="1567.3" cy="762.3" r="5.5" fill="#059c3a"/>
<circle cx="1601.2" cy="667.5" r="5.5" fill="#059c3a"/>
<circle cx="1561.7" cy="760.6" r="5.5" fill="#059c3a"/>
<circle cx="1426.0" cy="686.7" r="5.5" fill="#cf0a86"/>
<circle cx="1509.2" cy="749.0" r="5.5" fill="#0c5bbf"/>
<circle cx="1416.3" cy="674.3" r="5.5" fill="#cf0a86"/>
<circle cx="1556.4" cy="668.7" r="5.5" fill="#0c5bbf"/>
<circle cx="1407.6" cy="660.2" r="5.5" fill="#cf0a86"/>
<circle cx="1505.6" cy="611.8" r="5.5" fill="#0c5bbf"/>
<circle cx="1589.1" cy="659.0" r="5.5" fill="#0c5bbf"/>
<circle cx="1602.9" cy="761.1" r="5.5" fill="#059c3a"/>
<circle cx="1619.3" cy="697.7" r="5.5" fill="#059c3a"/>
<circle cx="1543.1" cy="753.3" r="5.5" fill="#0c5bbf"/>
<circle cx="1521.3" cy="701.3" r="5.5" fill="#0c5bbf"/>
<circle cx="1425.1" cy="685.6" r="5.5" fill="#cf0a86"/>
<circle cx="1435.5" cy="645.7" r="5.5" fill="#cf0a86"/>
<circle cx="1441.8" cy="592.5" r="5.5" fill="#cf0a86"/>
<circle cx="1435.5" cy="680.8" r="5.5" fill="#cf0a86"/>
<circle cx="1418.2" cy="680.5" r="5.5" fill="#cf0a86"/>
<circle cx="1584.9" cy="718.5" r="5.5" fill="#059c3a"/>
<circle cx="1420.9" cy="675.9" r="5.5" fill="#cf0a86"/>
<circle cx="1539.5" cy="695.3" r="5.5" fill="#0c5bbf"/>
<circle cx="1531.0" cy="675.9" r="5.5" fill="#0c5bbf"/>
<circle cx="1418.5" cy="668.7" r="5.5" fill="#cf0a86"/>
<circle cx="1404.0" cy="715.8" r="5.5" fill="#cf0a86"/>
<circle cx="1416.1" cy="742.5" r="5.5" fill="#cf0a86"/>
<circle cx="1650.7" cy="750.2" r="5.5" fill="#059c3a"/>
<circle cx="1502.7" cy="591.3" r="5.5" fill="#0c5bbf"/>
<circle cx="1512.9" cy="672.3" r="5.5" fill="#059c3a"/>
<circle cx="1426.2" cy="726.6" r="5.5" fill="#cf0a86"/>
<circle cx="1561.1" cy="672.9" r="5.5" fill="#059c3a"/>
<circle cx="1540.8" cy="686.9" r="5.5" fill="#0c5bbf"/>
<circle cx="1567.3" cy="678.4" r="5.5" fill="#059c3a"/>
<circle cx="1510.4" cy="629.3" r="5.5" fill="#0c5bbf"/>
<circle cx="1400.5" cy="710.2" r="5.5" fill="#cf0a86"/>
<circle cx="1563.7" cy="720.7" r="5.5" fill="#059c3a"/>
<circle cx="1419.2" cy="722.4" r="5.5" fill="#cf0a86"/>
<circle cx="1526.2" cy="613.0" r="5.5" fill="#0c5bbf"/>
<circle cx="1572.1" cy="715.8" r="5.5" fill="#059c3a"/>
<circle cx="1623.0" cy="694.3" r="5.5" fill="#059c3a"/>
<circle cx="1564.9" cy="639.7" r="5.5" fill="#0c5bbf"/>
<circle cx="1580.6" cy="740.0" r="5.5" fill="#059c3a"/>
<circle cx="1573.3" cy="735.9" r="5.5" fill="#059c3a"/>
<circle cx="1429.4" cy="677.1" r="5.5" fill="#cf0a86"/>
<circle cx="1557.6" cy="706.2" r="5.5" fill="#059c3a"/>
<circle cx="1499.6" cy="716.3" r="5.5" fill="#0c5bbf"/>
<circle cx="1549.2" cy="625.1" r="5.5" fill="#0c5bbf"/>
<circle cx="1545.5" cy="730.4" r="5.5" fill="#0c5bbf"/>
<circle cx="1619.3" cy="726.3" r="5.5" fill="#059c3a"/>
<circle cx="1606.0" cy="680.8" r="5.5" fill="#059c3a"/>
<circle cx="1426.1" cy="701.9" r="5.5" fill="#cf0a86"/>
<circle cx="1406.6" cy="687.0" r="5.5" fill="#cf0a86"/>
<circle cx="1566.8" cy="697.5" r="5.5" fill="#059c3a"/>
<circle cx="1548.7" cy="622.7" r="5.5" fill="#0c5bbf"/>
<circle cx="1527.4" cy="646.9" r="5.5" fill="#0c5bbf"/>
<circle cx="1419.4" cy="723.2" r="5.5" fill="#cf0a86"/>
<circle cx="1485.1" cy="623.9" r="5.5" fill="#0c5bbf"/>
<circle cx="1407.6" cy="741.2" r="5.5" fill="#cf0a86"/>
<circle cx="1512.9" cy="707.4" r="5.5" fill="#0c5bbf"/>
<circle cx="1564.1" cy="668.8" r="5.5" fill="#059c3a"/>
<circle cx="1430.6" cy="661.4" r="5.5" fill="#cf0a86"/>
<circle cx="1556.3" cy="709.9" r="5.5" fill="#0c5bbf"/>
<circle cx="1416.0" cy="734.1" r="5.5" fill="#cf0a86"/>
<circle cx="1522.8" cy="681.8" r="5.5" fill="#0c5bbf"/>
<circle cx="1416.6" cy="716.9" r="5.5" fill="#cf0a86"/>
<circle cx="1454.8" cy="713.7" r="5.5" fill="#cf0a86"/>
<circle cx="1525.0" cy="609.4" r="5.5" fill="#0c5bbf"/>
<circle cx="1439.1" cy="675.5" r="5.5" fill="#cf0a86"/>
<circle cx="1456.7" cy="643.3" r="5.5" fill="#cf0a86"/>
<circle cx="1420.9" cy="654.2" r="5.5" fill="#cf0a86"/>
<circle cx="1597.5" cy="637.2" r="5.5" fill="#0c5bbf"/>
<circle cx="1632.6" cy="661.4" r="5.5" fill="#059c3a"/>
<circle cx="1434.3" cy="702.5" r="5.5" fill="#cf0a86"/>
<circle cx="1558.3" cy="676.8" r="5.5" fill="#059c3a"/>
<circle cx="1526.2" cy="721.9" r="5.5" fill="#0c5bbf"/>
<circle cx="1502.7" cy="648.6" r="5.5" fill="#0c5bbf"/>
<circle cx="1519.6" cy="763.0" r="5.5" fill="#0c5bbf"/>
<circle cx="1587.9" cy="742.5" r="5.5" fill="#059c3a"/>
<circle cx="1430.1" cy="699.3" r="5.5" fill="#cf0a86"/>
<circle cx="1416.1" cy="727.1" r="5.5" fill="#cf0a86"/>
<circle cx="1512.8" cy="659.3" r="5.5" fill="#0c5bbf"/>
<circle cx="1515.3" cy="598.0" r="5.5" fill="#0c5bbf"/>
<circle cx="1584.2" cy="634.3" r="5.5" fill="#059c3a"/>
<circle cx="1417.6" cy="610.9" r="5.5" fill="#cf0a86"/>
<circle cx="1509.2" cy="712.2" r="5.5" fill="#0c5bbf"/>
<circle cx="1411.6" cy="737.6" r="5.5" fill="#cf0a86"/>
<circle cx="1598.7" cy="646.9" r="5.5" fill="#059c3a"/>
<circle cx="1413.4" cy="700.5" r="5.5" fill="#cf0a86"/>
<circle cx="1522.5" cy="708.6" r="5.5" fill="#059c3a"/>
<circle cx="1416.1" cy="716.1" r="5.5" fill="#cf0a86"/>
<circle cx="1391.4" cy="754.6" r="5.5" fill="#cf0a86"/>
<circle cx="1521.3" cy="771.5" r="5.5" fill="#0c5bbf"/>
<circle cx="1424.6" cy="678.6" r="5.5" fill="#cf0a86"/>
<circle cx="1416.1" cy="690.4" r="5.5" fill="#cf0a86"/>
<circle cx="1425.7" cy="737.9" r="5.5" fill="#cf0a86"/>
<circle cx="1413.1" cy="669.0" r="5.5" fill="#cf0a86"/>
<circle cx="1561.2" cy="780.4" r="5.5" fill="#0c5bbf"/>
<circle cx="1412.5" cy="746.1" r="5.5" fill="#cf0a86"/>
<circle cx="1587.9" cy="691.7" r="5.5" fill="#059c3a"/>
<circle cx="1629.0" cy="702.1" r="5.5" fill="#0c5bbf"/>
<circle cx="1539.5" cy="713.4" r="5.5" fill="#059c3a"/>
<circle cx="1431.8" cy="736.4" r="5.5" fill="#cf0a86"/>
<circle cx="1435.9" cy="694.6" r="5.5" fill="#cf0a86"/>
<circle cx="1427.0" cy="735.2" r="5.5" fill="#cf0a86"/>
<circle cx="1510.4" cy="733.5" r="5.5" fill="#0c5bbf"/>
<circle cx="1413.7" cy="707.4" r="5.5" fill="#cf0a86"/>
<circle cx="1408.0" cy="692.3" r="5.5" fill="#cf0a86"/>
<circle cx="1643.0" cy="684.4" r="5.5" fill="#059c3a"/>
<circle cx="1431.4" cy="700.6" r="5.5" fill="#cf0a86"/>
<circle cx="1626.6" cy="674.0" r="5.5" fill="#059c3a"/>
<circle cx="1608.4" cy="748.0" r="5.5" fill="#059c3a"/>
<circle cx="1521.1" cy="671.6" r="5.5" fill="#0c5bbf"/>
<circle cx="1415.6" cy="662.8" r="5.5" fill="#cf0a86"/>
<circle cx="1543.9" cy="700.1" r="5.5" fill="#059c3a"/>
<circle cx="1424.6" cy="713.4" r="5.5" fill="#cf0a86"/>
<circle cx="1542.2" cy="672.4" r="5.5" fill="#0c5bbf"/>
<circle cx="1606.9" cy="705.7" r="5.5" fill="#059c3a"/>
<circle cx="1557.8" cy="691.1" r="5.5" fill="#0c5bbf"/>
<circle cx="1617.6" cy="647.6" r="5.5" fill="#059c3a"/>
<circle cx="1410.0" cy="699.8" r="5.5" fill="#cf0a86"/>
<circle cx="1522.1" cy="680.8" r="5.5" fill="#0c5bbf"/>
<circle cx="1596.3" cy="680.8" r="5.5" fill="#059c3a"/>
<circle cx="1529.8" cy="624.7" r="5.5" fill="#059c3a"/>
</g>
<rect x="1367.20" y="505.90" width="414.00" height="334.50" fill="none" stroke="#2b2b2b" stroke-width="1.05"/>
<text x="1358.00" y="775.12" font-size="14.40" font-weight="bold" fill="#000" text-anchor="end">-3</text>
<text x="1358.00" y="692.17" font-size="14.40" font-weight="bold" fill="#000" text-anchor="end">0</text>
<text x="1358.00" y="609.22" font-size="14.40" font-weight="bold" fill="#000" text-anchor="end">3</text>
<text x="1358.00" y="526.27" font-size="14.40" font-weight="bold" fill="#000" text-anchor="end">6</text>
<text x="1405.90" y="861.00" font-size="14.40" font-weight="bold" fill="#000" text-anchor="middle">-5</text>
<text x="1519.60" y="861.00" font-size="14.40" font-weight="bold" fill="#000" text-anchor="middle">0</text>
<text x="1633.30" y="861.00" font-size="14.40" font-weight="bold" fill="#000" text-anchor="middle">5</text>
<text x="1747.00" y="861.00" font-size="14.40" font-weight="bold" fill="#000" text-anchor="middle">10</text>
<path d="M1367.20 770.05h-4.8M1367.20 687.10h-4.8M1367.20 604.15h-4.8M1367.20 521.20h-4.8M1405.90 840.40v4.8M1519.60 840.40v4.8M1633.30 840.40v4.8M1747.00 840.40v4.8" stroke="#222" stroke-width="1.1" fill="none"/>
<rect x="1791.50" y="160.40" width="414.00" height="334.30" fill="#fff"/>
<path d="M1887.25 160.40V494.70M2000.95 160.40V494.70M2114.65 160.40V494.70M1791.50 465.62H2205.50M1791.50 382.67H2205.50M1791.50 299.73H2205.50M1791.50 216.77H2205.50" stroke="#000" stroke-opacity=".11" stroke-width=".9" fill="none"/>
<path d="M1830.40 160.40V494.70M1944.10 160.40V494.70M2057.80 160.40V494.70M2171.50 160.40V494.70M1791.50 424.15H2205.50M1791.50 341.20H2205.50M1791.50 258.25H2205.50M1791.50 175.30H2205.50" stroke="#000" stroke-opacity=".25" stroke-width="1" fill="none"/>
<g stroke="#141414" stroke-opacity=".88" stroke-width="1.4" fill-opacity=".7">
<circle cx="1836.9" cy="322.1" r="5.5" fill="#cf0a86"/>
<circle cx="2115.6" cy="368.5" r="5.5" fill="#059c3a"/>
<circle cx="1861.6" cy="305.6" r="5.5" fill="#cf0a86"/>
<circle cx="1909.5" cy="364.9" r="5.5" fill="#cf0a86"/>
<circle cx="1986.0" cy="355.8" r="5.5" fill="#0c5bbf"/>
<circle cx="2032.1" cy="377.0" r="5.5" fill="#059c3a"/>
<circle cx="1899.1" cy="295.9" r="5.5" fill="#cf0a86"/>
<circle cx="1893.0" cy="304.4" r="5.5" fill="#cf0a86"/>
<circle cx="2025.4" cy="334.6" r="5.5" fill="#0c5bbf"/>
<circle cx="1851.4" cy="292.8" r="5.5" fill="#cf0a86"/>
<circle cx="1954.7" cy="246.6" r="5.5" fill="#0c5bbf"/>
<circle cx="1882.2" cy="355.2" r="5.5" fill="#cf0a86"/>
<circle cx="1966.1" cy="390.3" r="5.5" fill="#0c5bbf"/>
<circle cx="1991.4" cy="354.5" r="5.5" fill="#059c3a"/>
<circle cx="1893.6" cy="330.6" r="5.5" fill="#cf0a86"/>
<circle cx="1876.6" cy="373.3" r="5.5" fill="#cf0a86"/>
<circle cx="2045.4" cy="380.6" r="5.5" fill="#0c5bbf"/>
<circle cx="2044.2" cy="321.3" r="5.5" fill="#0c5bbf"/>
<circle cx="1948.7" cy="450.3" r="5.5" fill="#059c3a"/>
<circle cx="2024.9" cy="339.5" r="5.5" fill="#059c3a"/>
<circle cx="1965.6" cy="341.9" r="5.5" fill="#0c5bbf"/>
<circle cx="2003.9" cy="320.7" r="5.5" fill="#059c3a"/>
<circle cx="1877.7" cy="298.1" r="5.5" fill="#cf0a86"/>
<circle cx="2067.7" cy="389.1" r="5.5" fill="#059c3a"/>
<circle cx="2072.5" cy="314.6" r="5.5" fill="#0c5bbf"/>
<circle cx="1885.8" cy="300.8" r="5.5" fill="#cf0a86"/>
<circle cx="1968.1" cy="327.2" r="5.5" fill="#059c3a"/>
<circle cx="2023.0" cy="346.6" r="5.5" fill="#0c5bbf"/>
<circle cx="1987.4" cy="363.7" r="5.5" fill="#059c3a"/>
<circle cx="1985.0" cy="327.4" r="5.5" fill="#059c3a"/>
<circle cx="1864.0" cy="326.2" r="5.5" fill="#cf0a86"/>
<circle cx="1875.8" cy="315.3" r="5.5" fill="#cf0a86"/>
<circle cx="1988.1" cy="230.1" r="5.5" fill="#0c5bbf"/>
<circle cx="1985.0" cy="412.0" r="5.5" fill="#059c3a"/>
<circle cx="1983.1" cy="335.7" r="5.5" fill="#059c3a"/>
<circle cx="2011.8" cy="224.8" r="5.5" fill="#0c5bbf"/>
<circle cx="1928.6" cy="371.4" r="5.5" fill="#0c5bbf"/>
<circle cx="1899.6" cy="265.9" r="5.5" fill="#cf0a86"/>
<circle cx="2034.6" cy="326.2" r="5.5" fill="#0c5bbf"/>
<circle cx="2008.1" cy="319.0" r="5.5" fill="#059c3a"/>
<circle cx="1975.2" cy="346.1" r="5.5" fill="#059c3a"/>
<circle cx="2023.7" cy="327.4" r="5.5" fill="#059c3a"/>
<circle cx="2009.2" cy="306.8" r="5.5" fill="#0c5bbf"/>
<circle cx="1858.2" cy="417.4" r="5.5" fill="#cf0a86"/>
<circle cx="1948.2" cy="341.2" r="5.5" fill="#059c3a"/>
<circle cx="1972.4" cy="329.8" r="5.5" fill="#0c5bbf"/>
<circle cx="1931.7" cy="425.8" r="5.5" fill="#059c3a"/>
<circle cx="1905.1" cy="298.4" r="5.5" fill="#cf0a86"/>
<circle cx="1890.3" cy="322.0" r="5.5" fill="#cf0a86"/>
<circle cx="2002.1" cy="343.7" r="5.5" fill="#059c3a"/>
<circle cx="1986.4" cy="338.3" r="5.5" fill="#059c3a"/>
<circle cx="1956.4" cy="352.8" r="5.5" fill="#0c5bbf"/>
<circle cx="1994.7" cy="367.7" r="5.5" fill="#059c3a"/>
<circle cx="2003.3" cy="355.5" r="5.5" fill="#059c3a"/>
<circle cx="1964.4" cy="350.4" r="5.5" fill="#059c3a"/>
<circle cx="2011.6" cy="387.9" r="5.5" fill="#059c3a"/>
<circle cx="2002.9" cy="270.5" r="5.5" fill="#059c3a"/>
<circle cx="1871.7" cy="334.7" r="5.5" fill="#cf0a86"/>
<circle cx="2061.2" cy="356.4" r="5.5" fill="#0c5bbf"/>
<circle cx="2047.9" cy="269.8" r="5.5" fill="#0c5bbf"/>
<circle cx="1873.2" cy="346.7" r="5.5" fill="#cf0a86"/>
<circle cx="1883.4" cy="321.4" r="5.5" fill="#cf0a86"/>
<circle cx="1991.3" cy="275.4" r="5.5" fill="#0c5bbf"/>
<circle cx="1970.0" cy="432.4" r="5.5" fill="#059c3a"/>
<circle cx="2110.0" cy="314.1" r="5.5" fill="#0c5bbf"/>
<circle cx="1994.6" cy="289.9" r="5.5" fill="#059c3a"/>
<circle cx="2099.1" cy="325.0" r="5.5" fill="#0c5bbf"/>
<circle cx="2013.3" cy="348.0" r="5.5" fill="#059c3a"/>
<circle cx="2023.5" cy="322.7" r="5.5" fill="#059c3a"/>
<circle cx="1848.1" cy="258.9" r="5.5" fill="#cf0a86"/>
<circle cx="1881.3" cy="365.0" r="5.5" fill="#cf0a86"/>
<circle cx="2004.3" cy="318.9" r="5.5" fill="#059c3a"/>
<circle cx="1894.7" cy="357.6" r="5.5" fill="#cf0a86"/>
<circle cx="1996.8" cy="365.9" r="5.5" fill="#059c3a"/>
<circle cx="2087.0" cy="380.6" r="5.5" fill="#059c3a"/>
<circle cx="1939.0" cy="315.3" r="5.5" fill="#059c3a"/>
<circle cx="1875.6" cy="312.9" r="5.5" fill="#cf0a86"/>
<circle cx="2017.6" cy="347.0" r="5.5" fill="#0c5bbf"/>
<circle cx="1866.4" cy="304.4" r="5.5" fill="#cf0a86"/>
<circle cx="1968.0" cy="292.3" r="5.5" fill="#0c5bbf"/>
<circle cx="1976.5" cy="387.9" r="5.5" fill="#059c3a"/>
<circle cx="2021.2" cy="401.2" r="5.5" fill="#059c3a"/>
<circle cx="1853.7" cy="357.0" r="5.5" fill="#cf0a86"/>
<circle cx="2002.2" cy="357.2" r="5.5" fill="#059c3a"/>
<circle cx="2000.7" cy="308.0" r="5.5" fill="#0c5bbf"/>
<circle cx="1859.2" cy="352.8" r="5.5" fill="#cf0a86"/>
<circle cx="1848.3" cy="385.4" r="5.5" fill="#cf0a86"/>
<circle cx="2176.1" cy="354.5" r="5.5" fill="#0c5bbf"/>
<circle cx="1911.9" cy="328.6" r="5.5" fill="#cf0a86"/>
<circle cx="1994.9" cy="318.8" r="5.5" fill="#0c5bbf"/>
<circle cx="1873.9" cy="334.8" r="5.5" fill="#cf0a86"/>
<circle cx="1985.8" cy="325.4" r="5.5" fill="#059c3a"/>
<circle cx="1913.8" cy="332.7" r="5.5" fill="#cf0a86"/>
<circle cx="1871.6" cy="330.7" r="5.5" fill="#cf0a86"/>
<circle cx="1922.8" cy="411.6" r="5.5" fill="#0c5bbf"/>
<circle cx="1868.7" cy="350.3" r="5.5" fill="#cf0a86"/>
<circle cx="1925.2" cy="305.9" r="5.5" fill="#cf0a86"/>
<circle cx="2009.2" cy="339.5" r="5.5" fill="#059c3a"/>
<circle cx="1878.5" cy="304.4" r="5.5" fill="#cf0a86"/>
<circle cx="1981.3" cy="315.3" r="5.5" fill="#059c3a"/>
<circle cx="1987.2" cy="342.2" r="5.5" fill="#0c5bbf"/>
<circle cx="1974.1" cy="364.9" r="5.5" fill="#059c3a"/>
<circle cx="2101.6" cy="366.8" r="5.5" fill="#0c5bbf"/>
<circle cx="1874.7" cy="267.4" r="5.5" fill="#cf0a86"/>
<circle cx="1954.7" cy="379.4" r="5.5" fill="#0c5bbf"/>
<circle cx="1885.1" cy="338.1" r="5.5" fill="#cf0a86"/>
<circle cx="1969.5" cy="285.1" r="5.5" fill="#0c5bbf"/>
<circle cx="1876.3" cy="349.8" r="5.5" fill="#cf0a86"/>
<circle cx="2011.1" cy="442.0" r="5.5" fill="#059c3a"/>
<circle cx="2035.0" cy="319.7" r="5.5" fill="#0c5bbf"/>
<circle cx="1853.1" cy="390.3" r="5.5" fill="#cf0a86"/>
<circle cx="1889.4" cy="335.8" r="5.5" fill="#cf0a86"/>
<circle cx="1858.2" cy="296.5" r="5.5" fill="#cf0a86"/>
<circle cx="1873.7" cy="354.0" r="5.5" fill="#cf0a86"/>
<circle cx="1851.5" cy="348.4" r="5.5" fill="#cf0a86"/>
<circle cx="1943.8" cy="298.8" r="5.5" fill="#0c5bbf"/>
<circle cx="2068.4" cy="393.2" r="5.5" fill="#059c3a"/>
<circle cx="2017.5" cy="323.2" r="5.5" fill="#0c5bbf"/>
<circle cx="2007.9" cy="335.8" r="5.5" fill="#0c5bbf"/>
<circle cx="1992.2" cy="317.7" r="5.5" fill="#059c3a"/>
<circle cx="1958.8" cy="368.7" r="5.5" fill="#059c3a"/>
<circle cx="1830.4" cy="397.5" r="5.5" fill="#cf0a86"/>
<circle cx="1958.4" cy="333.4" r="5.5" fill="#059c3a"/>
<circle cx="2002.4" cy="273.0" r="5.5" fill="#059c3a"/>
<circle cx="2006.7" cy="326.2" r="5.5" fill="#059c3a"/>
<circle cx="1966.3" cy="331.4" r="5.5" fill="#059c3a"/>
<circle cx="1998.3" cy="402.4" r="5.5" fill="#059c3a"/>
<circle cx="1855.1" cy="267.6" r="5.5" fill="#cf0a86"/>
<circle cx="1856.8" cy="341.9" r="5.5" fill="#cf0a86"/>
<circle cx="1990.4" cy="332.9" r="5.5" fill="#0c5bbf"/>
<circle cx="1955.9" cy="339.5" r="5.5" fill="#0c5bbf"/>
<circle cx="1934.6" cy="318.9" r="5.5" fill="#0c5bbf"/>
<circle cx="1975.3" cy="380.6" r="5.5" fill="#059c3a"/>
<circle cx="2026.1" cy="287.5" r="5.5" fill="#0c5bbf"/>
<circle cx="2003.8" cy="375.5" r="5.5" fill="#059c3a"/>
<circle cx="1968.0" cy="335.8" r="5.5" fill="#059c3a"/>
<circle cx="1958.2" cy="327.6" r="5.5" fill="#0c5bbf"/>
<circle cx="2012.1" cy="282.6" r="5.5" fill="#059c3a"/>
<circle cx="1982.2" cy="348.7" r="5.5" fill="#0c5bbf"/>
<circle cx="1965.6" cy="362.5" r="5.5" fill="#059c3a"/>
<circle cx="1999.5" cy="340.7" r="5.5" fill="#059c3a"/>
<circle cx="2020.8" cy="372.1" r="5.5" fill="#0c5bbf"/>
<circle cx="1964.8" cy="347.0" r="5.5" fill="#0c5bbf"/>
<circle cx="2105.9" cy="353.3" r="5.5" fill="#0c5bbf"/>
<circle cx="2078.8" cy="362.9" r="5.5" fill="#0c5bbf"/>
<circle cx="1878.2" cy="308.5" r="5.5" fill="#cf0a86"/>
<circle cx="1873.7" cy="325.0" r="5.5" fill="#cf0a86"/>
<circle cx="2064.3" cy="340.2" r="5.5" fill="#0c5bbf"/>
<circle cx="1861.3" cy="329.3" r="5.5" fill="#cf0a86"/>
<circle cx="2024.1" cy="304.9" r="5.5" fill="#0c5bbf"/>
<circle cx="1854.3" cy="338.3" r="5.5" fill="#cf0a86"/>
<circle cx="2002.9" cy="332.4" r="5.5" fill="#059c3a"/>
<circle cx="1839.3" cy="318.9" r="5.5" fill="#cf0a86"/>
<circle cx="1834.3" cy="340.2" r="5.5" fill="#cf0a86"/>
<circle cx="2011.6" cy="364.9" r="5.5" fill="#059c3a"/>
<circle cx="1978.6" cy="356.8" r="5.5" fill="#059c3a"/>
<circle cx="1830.1" cy="311.7" r="5.5" fill="#cf0a86"/>
<circle cx="1875.9" cy="331.4" r="5.5" fill="#cf0a86"/>
<circle cx="1942.6" cy="308.0" r="5.5" fill="#0c5bbf"/>
<circle cx="2014.0" cy="357.0" r="5.5" fill="#0c5bbf"/>
<circle cx="1900.3" cy="326.9" r="5.5" fill="#cf0a86"/>
<circle cx="1934.6" cy="313.4" r="5.5" fill="#059c3a"/>
<circle cx="1895.5" cy="259.7" r="5.5" fill="#cf0a86"/>
<circle cx="1891.0" cy="307.7" r="5.5" fill="#cf0a86"/>
<circle cx="1832.1" cy="297.9" r="5.5" fill="#cf0a86"/>
<circle cx="1902.2" cy="326.2" r="5.5" fill="#0c5bbf"/>
<circle cx="2057.5" cy="324.2" r="5.5" fill="#0c5bbf"/>
<circle cx="1982.7" cy="364.2" r="5.5" fill="#059c3a"/>
<circle cx="1965.4" cy="350.9" r="5.5" fill="#0c5bbf"/>
<circle cx="2035.6" cy="333.5" r="5.5" fill="#0c5bbf"/>
<circle cx="2045.4" cy="386.6" r="5.5" fill="#0c5bbf"/>
<circle cx="2067.7" cy="383.0" r="5.5" fill="#059c3a"/>
<circle cx="2085.8" cy="399.2" r="5.5" fill="#0c5bbf"/>
<circle cx="1994.6" cy="380.6" r="5.5" fill="#059c3a"/>
<circle cx="1979.6" cy="249.7" r="5.5" fill="#0c5bbf"/>
<circle cx="2047.9" cy="373.3" r="5.5" fill="#059c3a"/>
<circle cx="1846.6" cy="400.0" r="5.5" fill="#cf0a86"/>
<circle cx="2037.0" cy="364.9" r="5.5" fill="#059c3a"/>
<circle cx="1873.7" cy="327.0" r="5.5" fill="#cf0a86"/>
<circle cx="1890.6" cy="286.7" r="5.5" fill="#cf0a86"/>
<circle cx="1895.2" cy="230.6" r="5.5" fill="#cf0a86"/>
<circle cx="1866.4" cy="346.2" r="5.5" fill="#cf0a86"/>
<circle cx="2061.2" cy="310.0" r="5.5" fill="#059c3a"/>
<circle cx="1974.6" cy="347.5" r="5.5" fill="#0c5bbf"/>
<circle cx="2000.7" cy="420.5" r="5.5" fill="#059c3a"/>
<circle cx="1858.0" cy="315.3" r="5.5" fill="#cf0a86"/>
<circle cx="1971.3" cy="338.7" r="5.5" fill="#059c3a"/>
<circle cx="1840.6" cy="294.7" r="5.5" fill="#cf0a86"/>
<circle cx="1864.1" cy="367.0" r="5.5" fill="#cf0a86"/>
<circle cx="2014.0" cy="327.4" r="5.5" fill="#059c3a"/>
<circle cx="2026.1" cy="351.6" r="5.5" fill="#0c5bbf"/>
<circle cx="2060.4" cy="275.4" r="5.5" fill="#0c5bbf"/>
<circle cx="1882.9" cy="345.5" r="5.5" fill="#cf0a86"/>
<circle cx="1885.5" cy="250.2" r="5.5" fill="#cf0a86"/>
<circle cx="2027.3" cy="314.1" r="5.5" fill="#0c5bbf"/>
<circle cx="2003.6" cy="318.3" r="5.5" fill="#059c3a"/>
<circle cx="1861.8" cy="344.1" r="5.5" fill="#cf0a86"/>
<circle cx="2017.6" cy="389.1" r="5.5" fill="#059c3a"/>
<circle cx="2052.0" cy="337.1" r="5.5" fill="#0c5bbf"/>
<circle cx="1861.6" cy="334.6" r="5.5" fill="#cf0a86"/>
<circle cx="1991.7" cy="314.0" r="5.5" fill="#059c3a"/>
<circle cx="2020.0" cy="380.6" r="5.5" fill="#059c3a"/>
<circle cx="2030.9" cy="320.1" r="5.5" fill="#0c5bbf"/>
<circle cx="2043.0" cy="368.5" r="5.5" fill="#0c5bbf"/>
<circle cx="1952.3" cy="316.5" r="5.5" fill="#059c3a"/>
<circle cx="1905.1" cy="335.8" r="5.5" fill="#cf0a86"/>
<circle cx="1956.4" cy="363.7" r="5.5" fill="#059c3a"/>
<circle cx="1991.1" cy="333.4" r="5.5" fill="#059c3a"/>
<circle cx="2009.2" cy="354.0" r="5.5" fill="#059c3a"/>
<circle cx="2005.5" cy="341.2" r="5.5" fill="#059c3a"/>
<circle cx="1889.4" cy="366.1" r="5.5" fill="#cf0a86"/>
<circle cx="1838.6" cy="406.0" r="5.5" fill="#cf0a86"/>
<circle cx="1960.8" cy="378.2" r="5.5" fill="#059c3a"/>
<circle cx="1992.5" cy="361.9" r="5.5" fill="#059c3a"/>
<circle cx="1994.9" cy="369.5" r="5.5" fill="#059c3a"/>
<circle cx="1864.5" cy="261.6" r="5.5" fill="#cf0a86"/>
<circle cx="2013.8" cy="317.8" r="5.5" fill="#059c3a"/>
<circle cx="1877.3" cy="368.0" r="5.5" fill="#cf0a86"/>
<circle cx="1985.7" cy="335.3" r="5.5" fill="#059c3a"/>
<circle cx="2034.1" cy="398.7" r="5.5" fill="#0c5bbf"/>
<circle cx="2029.7" cy="340.7" r="5.5" fill="#059c3a"/>
<circle cx="1881.3" cy="321.5" r="5.5" fill="#cf0a86"/>
<circle cx="2052.7" cy="380.6" r="5.5" fill="#0c5bbf"/>
<circle cx="1868.4" cy="290.2" r="5.5" fill="#cf0a86"/>
<circle cx="1989.8" cy="352.8" r="5.5" fill="#059c3a"/>
<circle cx="1878.3" cy="326.8" r="5.5" fill="#cf0a86"/>
<circle cx="1963.2" cy="326.2" r="5.5" fill="#059c3a"/>
<circle cx="1975.7" cy="335.4" r="5.5" fill="#059c3a"/>
<circle cx="1869.6" cy="362.2" r="5.5" fill="#cf0a86"/>
<circle cx="1967.5" cy="356.7" r="5.5" fill="#059c3a"/>
<circle cx="1866.4" cy="317.7" r="5.5" fill="#cf0a86"/>
<circle cx="1888.6" cy="314.7" r="5.5" fill="#cf0a86"/>
<circle cx="1850.5" cy="266.9" r="5.5" fill="#cf0a86"/>
<circle cx="2030.4" cy="295.9" r="5.5" fill="#0c5bbf"/>
<circle cx="1849.7" cy="176.4" r="5.5" fill="#cf0a86"/>
<circle cx="1986.2" cy="359.2" r="5.5" fill="#059c3a"/>
<circle cx="1972.5" cy="305.8" r="5.5" fill="#0c5bbf"/>
<circle cx="2020.0" cy="352.8" r="5.5" fill="#0c5bbf"/>
<circle cx="1982.1" cy="412.0" r="5.5" fill="#0c5bbf"/>
<circle cx="1928.6" cy="359.3" r="5.5" fill="#0c5bbf"/>
<circle cx="2011.6" cy="377.0" r="5.5" fill="#059c3a"/>
<circle cx="2018.3" cy="340.7" r="5.5" fill="#0c5bbf"/>
<circle cx="2005.0" cy="308.2" r="5.5" fill="#0c5bbf"/>
<circle cx="1843.9" cy="374.6" r="5.5" fill="#cf0a86"/>
<circle cx="1899.1" cy="347.9" r="5.5" fill="#cf0a86"/>
<circle cx="1998.3" cy="356.4" r="5.5" fill="#059c3a"/>
<circle cx="2016.4" cy="318.9" r="5.5" fill="#0c5bbf"/>
<circle cx="1873.2" cy="362.5" r="5.5" fill="#cf0a86"/>
<circle cx="1876.8" cy="282.6" r="5.5" fill="#cf0a86"/>
<circle cx="1881.1" cy="326.5" r="5.5" fill="#cf0a86"/>
<circle cx="1867.3" cy="316.5" r="5.5" fill="#cf0a86"/>
<circle cx="1991.3" cy="373.1" r="5.5" fill="#059c3a"/>
<circle cx="1883.4" cy="326.2" r="5.5" fill="#cf0a86"/>
<circle cx="1861.9" cy="330.2" r="5.5" fill="#cf0a86"/>
<circle cx="1870.8" cy="292.5" r="5.5" fill="#cf0a86"/>
<circle cx="1901.5" cy="316.5" r="5.5" fill="#cf0a86"/>
<circle cx="1949.9" cy="409.1" r="5.5" fill="#059c3a"/>
<circle cx="1875.3" cy="362.9" r="5.5" fill="#cf0a86"/>
<circle cx="1864.0" cy="366.1" r="5.5" fill="#cf0a86"/>
<circle cx="2009.4" cy="330.3" r="5.5" fill="#059c3a"/>
<circle cx="1880.3" cy="347.6" r="5.5" fill="#cf0a86"/>
<circle cx="1873.9" cy="352.7" r="5.5" fill="#cf0a86"/>
<circle cx="1871.2" cy="325.1" r="5.5" fill="#cf0a86"/>
<circle cx="2035.3" cy="316.5" r="5.5" fill="#0c5bbf"/>
<circle cx="1871.7" cy="324.4" r="5.5" fill="#cf0a86"/>
<circle cx="1871.3" cy="337.1" r="5.5" fill="#cf0a86"/>
<circle cx="2030.9" cy="360.0" r="5.5" fill="#0c5bbf"/>
<circle cx="1968.5" cy="279.5" r="5.5" fill="#0c5bbf"/>
<circle cx="1911.9" cy="299.6" r="5.5" fill="#cf0a86"/>
<circle cx="1847.6" cy="347.9" r="5.5" fill="#cf0a86"/>
<circle cx="2076.9" cy="352.8" r="5.5" fill="#059c3a"/>
<circle cx="1852.6" cy="387.1" r="5.5" fill="#cf0a86"/>
<circle cx="2057.5" cy="291.1" r="5.5" fill="#0c5bbf"/>
<circle cx="1988.6" cy="407.2" r="5.5" fill="#059c3a"/>
<circle cx="2030.9" cy="367.3" r="5.5" fill="#059c3a"/>
<circle cx="1864.7" cy="375.8" r="5.5" fill="#cf0a86"/>
<circle cx="1953.5" cy="322.5" r="5.5" fill="#0c5bbf"/>
<circle cx="2010.7" cy="298.8" r="5.5" fill="#0c5bbf"/>
<circle cx="1986.2" cy="310.4" r="5.5" fill="#059c3a"/>
<circle cx="1859.2" cy="294.7" r="5.5" fill="#cf0a86"/>
<circle cx="2027.3" cy="291.1" r="5.5" fill="#0c5bbf"/>
<circle cx="1963.2" cy="395.6" r="5.5" fill="#059c3a"/>
<circle cx="1991.0" cy="335.8" r="5.5" fill="#059c3a"/>
<circle cx="1858.7" cy="296.8" r="5.5" fill="#cf0a86"/>
<circle cx="2037.0" cy="354.0" r="5.5" fill="#059c3a"/>
<circle cx="1970.4" cy="315.3" r="5.5" fill="#059c3a"/>
<circle cx="2095.0" cy="371.4" r="5.5" fill="#0c5bbf"/>
<circle cx="1982.9" cy="365.2" r="5.5" fill="#0c5bbf"/>
<circle cx="1978.9" cy="351.6" r="5.5" fill="#059c3a"/>
<circle cx="1855.5" cy="368.5" r="5.5" fill="#cf0a86"/>
<circle cx="2006.2" cy="335.6" r="5.5" fill="#0c5bbf"/>
<circle cx="2001.9" cy="361.2" r="5.5" fill="#059c3a"/>
<circle cx="1981.2" cy="341.1" r="5.5" fill="#0c5bbf"/>
<circle cx="1856.8" cy="369.7" r="5.5" fill="#cf0a86"/>
<circle cx="1971.7" cy="355.2" r="5.5" fill="#059c3a"/>
<circle cx="2031.4" cy="259.7" r="5.5" fill="#0c5bbf"/>
<circle cx="1996.2" cy="345.5" r="5.5" fill="#059c3a"/>
<circle cx="2003.0" cy="321.8" r="5.5" fill="#0c5bbf"/>
<circle cx="1844.7" cy="386.6" r="5.5" fill="#cf0a86"/>
<circle cx="1987.4" cy="378.2" r="5.5" fill="#059c3a"/>
<circle cx="1941.2" cy="387.9" r="5.5" fill="#0c5bbf"/>
<circle cx="1853.9" cy="358.8" r="5.5" fill="#cf0a86"/>
<circle cx="1961.7" cy="306.1" r="5.5" fill="#059c3a"/>
<circle cx="1898.4" cy="337.1" r="5.5" fill="#cf0a86"/>
<circle cx="1900.3" cy="307.5" r="5.5" fill="#cf0a86"/>
<circle cx="1888.2" cy="284.3" r="5.5" fill="#cf0a86"/>
<circle cx="1866.4" cy="356.4" r="5.5" fill="#cf0a86"/>
<circle cx="1915.3" cy="297.1" r="5.5" fill="#0c5bbf"/>
<circle cx="1973.1" cy="378.6" r="5.5" fill="#059c3a"/>
<circle cx="1849.5" cy="312.9" r="5.5" fill="#cf0a86"/>
<circle cx="1890.1" cy="316.5" r="5.5" fill="#cf0a86"/>
<circle cx="2022.3" cy="316.9" r="5.5" fill="#0c5bbf"/>
<circle cx="2041.8" cy="391.5" r="5.5" fill="#059c3a"/>
<circle cx="1854.8" cy="327.4" r="5.5" fill="#cf0a86"/>
<circle cx="1844.7" cy="355.2" r="5.5" fill="#cf0a86"/>
<circle cx="2014.6" cy="374.3" r="5.5" fill="#059c3a"/>
<circle cx="1876.1" cy="293.5" r="5.5" fill="#cf0a86"/>
<circle cx="1863.1" cy="349.7" r="5.5" fill="#cf0a86"/>
<circle cx="2030.2" cy="444.5" r="5.5" fill="#0c5bbf"/>
<circle cx="2126.5" cy="337.8" r="5.5" fill="#0c5bbf"/>
<circle cx="1891.8" cy="327.4" r="5.5" fill="#cf0a86"/>
<circle cx="1988.6" cy="286.7" r="5.5" fill="#0c5bbf"/>
<circle cx="1988.6" cy="341.9" r="5.5" fill="#0c5bbf"/>
<circle cx="1984.1" cy="335.1" r="5.5" fill="#0c5bbf"/>
<circle cx="1911.7" cy="348.7" r="5.5" fill="#cf0a86"/>
<circle cx="1828.5" cy="320.6" r="5.5" fill="#cf0a86"/>
<circle cx="1879.7" cy="333.4" r="5.5" fill="#cf0a86"/>
<circle cx="1978.5" cy="349.4" r="5.5" fill="#0c5bbf"/>
<circle cx="2000.8" cy="341.8" r="5.5" fill="#0c5bbf"/>
<circle cx="2011.4" cy="351.0" r="5.5" fill="#059c3a"/>
<circle cx="2087.8" cy="356.9" r="5.5" fill="#0c5bbf"/>
<circle cx="2002.5" cy="346.2" r="5.5" fill="#059c3a"/>
<circle cx="2013.0" cy="338.4" r="5.5" fill="#059c3a"/>
<circle cx="1978.9" cy="338.3" r="5.5" fill="#059c3a"/>
<circle cx="1920.9" cy="370.9" r="5.5" fill="#0c5bbf"/>
<circle cx="2066.7" cy="378.2" r="5.5" fill="#0c5bbf"/>
<circle cx="1992.4" cy="353.4" r="5.5" fill="#059c3a"/>
<circle cx="1878.8" cy="200.6" r="5.5" fill="#cf0a86"/>
<circle cx="1862.1" cy="280.7" r="5.5" fill="#cf0a86"/>
<circle cx="1910.0" cy="393.9" r="5.5" fill="#cf0a86"/>
<circle cx="2056.3" cy="341.4" r="5.5" fill="#0c5bbf"/>
<circle cx="2044.2" cy="423.7" r="5.5" fill="#0c5bbf"/>
<circle cx="1983.8" cy="356.4" r="5.5" fill="#0c5bbf"/>
<circle cx="1982.5" cy="288.7" r="5.5" fill="#0c5bbf"/>
<circle cx="1955.3" cy="351.8" r="5.5" fill="#059c3a"/>
<circle cx="1991.1" cy="325.9" r="5.5" fill="#0c5bbf"/>
<circle cx="1916.0" cy="341.4" r="5.5" fill="#0c5bbf"/>
<circle cx="1947.5" cy="354.0" r="5.5" fill="#059c3a"/>
<circle cx="1865.0" cy="344.9" r="5.5" fill="#cf0a86"/>
<circle cx="2003.1" cy="391.5" r="5.5" fill="#059c3a"/>
<circle cx="2110.7" cy="321.3" r="5.5" fill="#0c5bbf"/>
<circle cx="1973.6" cy="338.2" r="5.5" fill="#059c3a"/>
<circle cx="1994.6" cy="392.7" r="5.5" fill="#059c3a"/>
<circle cx="2014.8" cy="360.2" r="5.5" fill="#059c3a"/>
<circle cx="1863.8" cy="311.0" r="5.5" fill="#cf0a86"/>
<circle cx="2066.7" cy="352.8" r="5.5" fill="#0c5bbf"/>
<circle cx="2031.8" cy="337.3" r="5.5" fill="#059c3a"/>
<circle cx="2012.8" cy="312.9" r="5.5" fill="#0c5bbf"/>
<circle cx="1864.0" cy="344.3" r="5.5" fill="#cf0a86"/>
<circle cx="2010.4" cy="403.6" r="5.5" fill="#059c3a"/>
<circle cx="2022.1" cy="342.3" r="5.5" fill="#059c3a"/>
<circle cx="1867.6" cy="297.1" r="5.5" fill="#cf0a86"/>
<circle cx="1990.0" cy="377.7" r="5.5" fill="#059c3a"/>
<circle cx="1856.6" cy="357.5" r="5.5" fill="#cf0a86"/>
<circle cx="2008.5" cy="345.4" r="5.5" fill="#0c5bbf"/>
<circle cx="1968.5" cy="297.1" r="5.5" fill="#059c3a"/>
<circle cx="2038.2" cy="346.7" r="5.5" fill="#059c3a"/>
<circle cx="1882.2" cy="364.9" r="5.5" fill="#cf0a86"/>
<circle cx="1892.6" cy="347.9" r="5.5" fill="#cf0a86"/>
<circle cx="2001.4" cy="275.4" r="5.5" fill="#0c5bbf"/>
<circle cx="1995.8" cy="300.8" r="5.5" fill="#0c5bbf"/>
<circle cx="1852.4" cy="375.8" r="5.5" fill="#cf0a86"/>
<circle cx="1884.0" cy="326.2" r="5.5" fill="#cf0a86"/>
<circle cx="1917.5" cy="317.7" r="5.5" fill="#0c5bbf"/>
<circle cx="1884.6" cy="291.1" r="5.5" fill="#cf0a86"/>
<circle cx="1972.9" cy="323.8" r="5.5" fill="#059c3a"/>
<circle cx="1887.2" cy="337.4" r="5.5" fill="#cf0a86"/>
<circle cx="1963.9" cy="239.6" r="5.5" fill="#059c3a"/>
<circle cx="2072.8" cy="368.5" r="5.5" fill="#0c5bbf"/>
<circle cx="2018.3" cy="308.0" r="5.5" fill="#059c3a"/>
<circle cx="1994.0" cy="339.4" r="5.5" fill="#059c3a"/>
<circle cx="1952.3" cy="331.0" r="5.5" fill="#0c5bbf"/>
<circle cx="2020.9" cy="352.0" r="5.5" fill="#059c3a"/>
<circle cx="1997.1" cy="329.8" r="5.5" fill="#059c3a"/>
</g>
<rect x="1791.50" y="160.40" width="414.00" height="334.30" fill="none" stroke="#2b2b2b" stroke-width="1.05"/>
<rect x="1791.50" y="505.90" width="414.00" height="334.50" fill="#fff"/>
<path d="M1887.25 505.90V840.40M2000.95 505.90V840.40M2114.65 505.90V840.40M1791.50 811.52H2205.50M1791.50 728.58H2205.50M1791.50 645.62H2205.50M1791.50 562.68H2205.50" stroke="#000" stroke-opacity=".11" stroke-width=".9" fill="none"/>
<path d="M1830.40 505.90V840.40M1944.10 505.90V840.40M2057.80 505.90V840.40M2171.50 505.90V840.40M1791.50 770.05H2205.50M1791.50 687.10H2205.50M1791.50 604.15H2205.50M1791.50 521.20H2205.50" stroke="#000" stroke-opacity=".25" stroke-width="1" fill="none"/>
<g stroke="#141414" stroke-opacity=".88" stroke-width="1.4" fill-opacity=".7">
<circle cx="1843.5" cy="698.9" r="5.5" fill="#cf0a86"/>
<circle cx="1892.6" cy="671.6" r="5.5" fill="#cf0a86"/>
<circle cx="1960.6" cy="694.3" r="5.5" fill="#059c3a"/>
<circle cx="1838.9" cy="647.4" r="5.5" fill="#cf0a86"/>
<circle cx="2055.1" cy="698.9" r="5.5" fill="#0c5bbf"/>
<circle cx="1965.6" cy="738.8" r="5.5" fill="#059c3a"/>
<circle cx="1953.0" cy="703.8" r="5.5" fill="#0c5bbf"/>
<circle cx="1969.1" cy="682.8" r="5.5" fill="#0c5bbf"/>
<circle cx="1961.0" cy="702.6" r="5.5" fill="#059c3a"/>
<circle cx="1991.7" cy="696.6" r="5.5" fill="#0c5bbf"/>
<circle cx="1836.9" cy="644.5" r="5.5" fill="#cf0a86"/>
<circle cx="1933.2" cy="589.3" r="5.5" fill="#059c3a"/>
<circle cx="1945.1" cy="721.9" r="5.5" fill="#059c3a"/>
<circle cx="1940.9" cy="755.0" r="5.5" fill="#0c5bbf"/>
<circle cx="1973.7" cy="727.4" r="5.5" fill="#059c3a"/>
<circle cx="1857.9" cy="677.8" r="5.5" fill="#cf0a86"/>
<circle cx="1870.1" cy="708.6" r="5.5" fill="#cf0a86"/>
<circle cx="1954.7" cy="680.8" r="5.5" fill="#059c3a"/>
<circle cx="1933.0" cy="719.5" r="5.5" fill="#0c5bbf"/>
<circle cx="1856.8" cy="696.5" r="5.5" fill="#cf0a86"/>
<circle cx="1991.3" cy="732.9" r="5.5" fill="#059c3a"/>
<circle cx="1980.1" cy="610.6" r="5.5" fill="#0c5bbf"/>
<circle cx="1865.2" cy="755.8" r="5.5" fill="#cf0a86"/>
<circle cx="1866.4" cy="734.0" r="5.5" fill="#cf0a86"/>
<circle cx="2029.7" cy="677.1" r="5.5" fill="#059c3a"/>
<circle cx="1948.1" cy="722.4" r="5.5" fill="#059c3a"/>
<circle cx="1942.6" cy="704.9" r="5.5" fill="#0c5bbf"/>
<circle cx="1833.4" cy="715.8" r="5.5" fill="#cf0a86"/>
<circle cx="1953.0" cy="767.4" r="5.5" fill="#059c3a"/>
<circle cx="1862.5" cy="696.7" r="5.5" fill="#cf0a86"/>
<circle cx="1986.2" cy="633.6" r="5.5" fill="#0c5bbf"/>
<circle cx="1966.8" cy="732.8" r="5.5" fill="#0c5bbf"/>
<circle cx="1855.5" cy="760.6" r="5.5" fill="#cf0a86"/>
<circle cx="1995.8" cy="692.9" r="5.5" fill="#059c3a"/>
<circle cx="1844.0" cy="720.7" r="5.5" fill="#cf0a86"/>
<circle cx="1860.4" cy="745.7" r="5.5" fill="#cf0a86"/>
<circle cx="1852.5" cy="724.7" r="5.5" fill="#cf0a86"/>
<circle cx="1956.6" cy="664.9" r="5.5" fill="#0c5bbf"/>
<circle cx="2012.8" cy="804.1" r="5.5" fill="#059c3a"/>
<circle cx="1871.3" cy="713.4" r="5.5" fill="#cf0a86"/>
<circle cx="1856.8" cy="724.3" r="5.5" fill="#cf0a86"/>
<circle cx="1978.9" cy="660.2" r="5.5" fill="#0c5bbf"/>
<circle cx="1993.4" cy="724.3" r="5.5" fill="#059c3a"/>
<circle cx="1871.3" cy="740.0" r="5.5" fill="#cf0a86"/>
<circle cx="1910.0" cy="731.6" r="5.5" fill="#059c3a"/>
<circle cx="1870.8" cy="682.0" r="5.5" fill="#cf0a86"/>
<circle cx="1836.9" cy="672.3" r="5.5" fill="#cf0a86"/>
<circle cx="2007.0" cy="723.0" r="5.5" fill="#059c3a"/>
<circle cx="1863.6" cy="668.6" r="5.5" fill="#cf0a86"/>
<circle cx="1856.3" cy="640.1" r="5.5" fill="#cf0a86"/>
<circle cx="1859.2" cy="697.7" r="5.5" fill="#cf0a86"/>
<circle cx="1864.0" cy="649.3" r="5.5" fill="#cf0a86"/>
<circle cx="1855.6" cy="707.1" r="5.5" fill="#cf0a86"/>
<circle cx="1853.1" cy="657.8" r="5.5" fill="#cf0a86"/>
<circle cx="1871.1" cy="745.3" r="5.5" fill="#cf0a86"/>
<circle cx="2020.0" cy="753.3" r="5.5" fill="#059c3a"/>
<circle cx="1825.3" cy="742.5" r="5.5" fill="#cf0a86"/>
<circle cx="1970.4" cy="694.1" r="5.5" fill="#059c3a"/>
<circle cx="1933.1" cy="657.9" r="5.5" fill="#0c5bbf"/>
<circle cx="1972.4" cy="655.4" r="5.5" fill="#059c3a"/>
<circle cx="2016.4" cy="692.9" r="5.5" fill="#059c3a"/>
<circle cx="1831.1" cy="564.7" r="5.5" fill="#cf0a86"/>
<circle cx="1934.2" cy="682.0" r="5.5" fill="#059c3a"/>
<circle cx="1843.0" cy="661.4" r="5.5" fill="#cf0a86"/>
<circle cx="1993.4" cy="680.8" r="5.5" fill="#059c3a"/>
<circle cx="2016.4" cy="694.4" r="5.5" fill="#059c3a"/>
<circle cx="1980.1" cy="726.7" r="5.5" fill="#059c3a"/>
<circle cx="1918.4" cy="654.2" r="5.5" fill="#0c5bbf"/>
<circle cx="1865.2" cy="742.5" r="5.5" fill="#cf0a86"/>
<circle cx="1842.7" cy="728.9" r="5.5" fill="#cf0a86"/>
<circle cx="1838.6" cy="757.0" r="5.5" fill="#cf0a86"/>
<circle cx="1959.0" cy="693.0" r="5.5" fill="#0c5bbf"/>
<circle cx="1969.1" cy="719.0" r="5.5" fill="#059c3a"/>
<circle cx="1853.8" cy="732.4" r="5.5" fill="#cf0a86"/>
<circle cx="1852.9" cy="736.0" r="5.5" fill="#cf0a86"/>
<circle cx="1922.6" cy="653.0" r="5.5" fill="#0c5bbf"/>
<circle cx="1992.5" cy="693.6" r="5.5" fill="#059c3a"/>
<circle cx="1827.7" cy="747.3" r="5.5" fill="#cf0a86"/>
<circle cx="1996.6" cy="613.8" r="5.5" fill="#0c5bbf"/>
<circle cx="1966.9" cy="690.3" r="5.5" fill="#059c3a"/>
<circle cx="1877.3" cy="684.4" r="5.5" fill="#cf0a86"/>
<circle cx="1996.5" cy="673.6" r="5.5" fill="#059c3a"/>
<circle cx="1973.8" cy="654.7" r="5.5" fill="#0c5bbf"/>
<circle cx="2020.0" cy="713.4" r="5.5" fill="#059c3a"/>
<circle cx="1981.6" cy="620.3" r="5.5" fill="#059c3a"/>
<circle cx="1935.0" cy="716.0" r="5.5" fill="#059c3a"/>
<circle cx="1937.3" cy="659.0" r="5.5" fill="#0c5bbf"/>
<circle cx="1866.1" cy="751.3" r="5.5" fill="#cf0a86"/>
<circle cx="1856.3" cy="673.5" r="5.5" fill="#cf0a86"/>
<circle cx="2035.8" cy="719.5" r="5.5" fill="#059c3a"/>
<circle cx="1944.5" cy="698.1" r="5.5" fill="#0c5bbf"/>
<circle cx="1984.2" cy="728.6" r="5.5" fill="#059c3a"/>
<circle cx="1847.1" cy="714.6" r="5.5" fill="#cf0a86"/>
<circle cx="1973.4" cy="782.4" r="5.5" fill="#0c5bbf"/>
<circle cx="2047.9" cy="713.4" r="5.5" fill="#0c5bbf"/>
<circle cx="1960.7" cy="721.3" r="5.5" fill="#0c5bbf"/>
<circle cx="1954.7" cy="721.9" r="5.5" fill="#059c3a"/>
<circle cx="1844.1" cy="660.8" r="5.5" fill="#cf0a86"/>
<circle cx="2053.4" cy="692.9" r="5.5" fill="#0c5bbf"/>
<circle cx="2009.2" cy="695.3" r="5.5" fill="#059c3a"/>
<circle cx="1989.8" cy="734.0" r="5.5" fill="#059c3a"/>
<circle cx="1983.4" cy="710.7" r="5.5" fill="#059c3a"/>
<circle cx="1992.2" cy="706.2" r="5.5" fill="#059c3a"/>
<circle cx="1925.2" cy="668.7" r="5.5" fill="#059c3a"/>
<circle cx="1841.0" cy="742.5" r="5.5" fill="#cf0a86"/>
<circle cx="1864.2" cy="692.1" r="5.5" fill="#cf0a86"/>
<circle cx="1962.0" cy="654.2" r="5.5" fill="#0c5bbf"/>
<circle cx="1946.7" cy="773.4" r="5.5" fill="#059c3a"/>
<circle cx="1938.4" cy="706.9" r="5.5" fill="#0c5bbf"/>
<circle cx="1992.7" cy="718.3" r="5.5" fill="#0c5bbf"/>
<circle cx="1863.6" cy="659.4" r="5.5" fill="#cf0a86"/>
<circle cx="1933.0" cy="709.8" r="5.5" fill="#0c5bbf"/>
<circle cx="1855.6" cy="682.5" r="5.5" fill="#cf0a86"/>
<circle cx="1982.9" cy="702.0" r="5.5" fill="#059c3a"/>
<circle cx="1975.3" cy="675.9" r="5.5" fill="#0c5bbf"/>
<circle cx="1957.6" cy="679.8" r="5.5" fill="#0c5bbf"/>
<circle cx="1853.1" cy="686.8" r="5.5" fill="#cf0a86"/>
<circle cx="1835.2" cy="617.4" r="5.5" fill="#cf0a86"/>
<circle cx="1828.5" cy="727.2" r="5.5" fill="#cf0a86"/>
<circle cx="1851.4" cy="714.7" r="5.5" fill="#cf0a86"/>
<circle cx="2021.2" cy="727.9" r="5.5" fill="#059c3a"/>
<circle cx="1995.3" cy="672.7" r="5.5" fill="#059c3a"/>
<circle cx="1864.0" cy="726.7" r="5.5" fill="#cf0a86"/>
<circle cx="1939.2" cy="693.1" r="5.5" fill="#059c3a"/>
<circle cx="1937.8" cy="647.4" r="5.5" fill="#0c5bbf"/>
<circle cx="2027.3" cy="707.4" r="5.5" fill="#059c3a"/>
<circle cx="1987.0" cy="684.5" r="5.5" fill="#0c5bbf"/>
<circle cx="1859.3" cy="712.2" r="5.5" fill="#cf0a86"/>
<circle cx="2062.4" cy="673.5" r="5.5" fill="#059c3a"/>
<circle cx="1875.5" cy="733.8" r="5.5" fill="#cf0a86"/>
<circle cx="1980.6" cy="647.4" r="5.5" fill="#0c5bbf"/>
<circle cx="1965.7" cy="740.1" r="5.5" fill="#059c3a"/>
<circle cx="2007.9" cy="713.4" r="5.5" fill="#059c3a"/>
<circle cx="1852.7" cy="744.4" r="5.5" fill="#cf0a86"/>
<circle cx="1880.9" cy="754.6" r="5.5" fill="#cf0a86"/>
<circle cx="1843.9" cy="678.4" r="5.5" fill="#cf0a86"/>
<circle cx="2017.6" cy="643.3" r="5.5" fill="#059c3a"/>
<circle cx="1937.1" cy="626.8" r="5.5" fill="#0c5bbf"/>
<circle cx="1980.9" cy="653.4" r="5.5" fill="#0c5bbf"/>
<circle cx="1946.3" cy="761.8" r="5.5" fill="#059c3a"/>
<circle cx="1979.4" cy="723.4" r="5.5" fill="#059c3a"/>
<circle cx="1994.6" cy="662.6" r="5.5" fill="#059c3a"/>
<circle cx="2023.2" cy="640.9" r="5.5" fill="#059c3a"/>
<circle cx="2028.0" cy="659.0" r="5.5" fill="#0c5bbf"/>
<circle cx="1851.1" cy="726.4" r="5.5" fill="#cf0a86"/>
<circle cx="1832.6" cy="669.9" r="5.5" fill="#cf0a86"/>
<circle cx="1970.3" cy="684.3" r="5.5" fill="#0c5bbf"/>
<circle cx="1853.8" cy="694.2" r="5.5" fill="#cf0a86"/>
<circle cx="1936.4" cy="678.2" r="5.5" fill="#0c5bbf"/>
<circle cx="1946.3" cy="671.1" r="5.5" fill="#059c3a"/>
<circle cx="2022.3" cy="697.4" r="5.5" fill="#059c3a"/>
<circle cx="1939.2" cy="666.6" r="5.5" fill="#0c5bbf"/>
<circle cx="1956.4" cy="627.6" r="5.5" fill="#0c5bbf"/>
<circle cx="1853.7" cy="731.2" r="5.5" fill="#cf0a86"/>
<circle cx="1903.9" cy="671.1" r="5.5" fill="#059c3a"/>
<circle cx="1832.6" cy="734.0" r="5.5" fill="#cf0a86"/>
<circle cx="1837.9" cy="660.7" r="5.5" fill="#cf0a86"/>
<circle cx="1946.3" cy="703.8" r="5.5" fill="#059c3a"/>
<circle cx="1849.5" cy="732.8" r="5.5" fill="#cf0a86"/>
<circle cx="1947.5" cy="744.9" r="5.5" fill="#0c5bbf"/>
<circle cx="2037.7" cy="669.9" r="5.5" fill="#059c3a"/>
<circle cx="1838.9" cy="701.3" r="5.5" fill="#cf0a86"/>
<circle cx="1972.9" cy="686.8" r="5.5" fill="#059c3a"/>
<circle cx="1846.1" cy="730.2" r="5.5" fill="#cf0a86"/>
<circle cx="1867.4" cy="703.4" r="5.5" fill="#cf0a86"/>
<circle cx="1853.1" cy="731.2" r="5.5" fill="#cf0a86"/>
<circle cx="1856.7" cy="723.4" r="5.5" fill="#cf0a86"/>
<circle cx="1914.8" cy="727.2" r="5.5" fill="#0c5bbf"/>
<circle cx="1937.8" cy="675.9" r="5.5" fill="#0c5bbf"/>
<circle cx="1844.7" cy="724.3" r="5.5" fill="#cf0a86"/>
<circle cx="1842.2" cy="734.0" r="5.5" fill="#cf0a86"/>
<circle cx="1873.7" cy="726.7" r="5.5" fill="#cf0a86"/>
<circle cx="1910.0" cy="748.0" r="5.5" fill="#059c3a"/>
<circle cx="1846.4" cy="663.7" r="5.5" fill="#cf0a86"/>
<circle cx="1958.4" cy="677.1" r="5.5" fill="#059c3a"/>
<circle cx="1858.7" cy="644.5" r="5.5" fill="#cf0a86"/>
<circle cx="1851.8" cy="746.2" r="5.5" fill="#cf0a86"/>
<circle cx="1852.4" cy="750.5" r="5.5" fill="#cf0a86"/>
<circle cx="1944.1" cy="696.8" r="5.5" fill="#059c3a"/>
<circle cx="1951.3" cy="690.2" r="5.5" fill="#059c3a"/>
<circle cx="1860.5" cy="661.9" r="5.5" fill="#cf0a86"/>
<circle cx="1975.3" cy="663.8" r="5.5" fill="#059c3a"/>
<circle cx="1849.5" cy="703.9" r="5.5" fill="#cf0a86"/>
<circle cx="2004.3" cy="684.4" r="5.5" fill="#059c3a"/>
<circle cx="1892.6" cy="714.2" r="5.5" fill="#cf0a86"/>
<circle cx="1848.4" cy="719.4" r="5.5" fill="#cf0a86"/>
<circle cx="1866.4" cy="659.0" r="5.5" fill="#cf0a86"/>
<circle cx="2012.6" cy="712.9" r="5.5" fill="#059c3a"/>
<circle cx="1869.5" cy="749.3" r="5.5" fill="#cf0a86"/>
<circle cx="1972.4" cy="751.6" r="5.5" fill="#059c3a"/>
<circle cx="1984.9" cy="681.7" r="5.5" fill="#0c5bbf"/>
<circle cx="1866.4" cy="640.1" r="5.5" fill="#cf0a86"/>
<circle cx="1962.3" cy="692.6" r="5.5" fill="#059c3a"/>
<circle cx="1849.5" cy="743.7" r="5.5" fill="#cf0a86"/>
<circle cx="1945.1" cy="638.4" r="5.5" fill="#059c3a"/>
<circle cx="2002.2" cy="699.9" r="5.5" fill="#059c3a"/>
<circle cx="1862.3" cy="657.5" r="5.5" fill="#cf0a86"/>
<circle cx="2014.0" cy="772.7" r="5.5" fill="#0c5bbf"/>
<circle cx="1843.0" cy="757.5" r="5.5" fill="#cf0a86"/>
<circle cx="1927.2" cy="719.1" r="5.5" fill="#059c3a"/>
<circle cx="1965.6" cy="667.5" r="5.5" fill="#0c5bbf"/>
<circle cx="1862.6" cy="705.5" r="5.5" fill="#cf0a86"/>
<circle cx="1940.5" cy="711.0" r="5.5" fill="#059c3a"/>
<circle cx="1983.3" cy="672.3" r="5.5" fill="#0c5bbf"/>
<circle cx="1864.0" cy="654.2" r="5.5" fill="#cf0a86"/>
<circle cx="1924.5" cy="685.6" r="5.5" fill="#0c5bbf"/>
<circle cx="2032.1" cy="692.4" r="5.5" fill="#0c5bbf"/>
<circle cx="1924.5" cy="678.4" r="5.5" fill="#059c3a"/>
<circle cx="1917.2" cy="740.0" r="5.5" fill="#059c3a"/>
<circle cx="1962.0" cy="694.1" r="5.5" fill="#059c3a"/>
<circle cx="1839.4" cy="700.0" r="5.5" fill="#cf0a86"/>
<circle cx="1934.2" cy="701.3" r="5.5" fill="#059c3a"/>
<circle cx="1999.5" cy="712.2" r="5.5" fill="#059c3a"/>
<circle cx="1843.5" cy="707.4" r="5.5" fill="#cf0a86"/>
<circle cx="1847.6" cy="662.6" r="5.5" fill="#cf0a86"/>
<circle cx="1842.5" cy="715.7" r="5.5" fill="#cf0a86"/>
<circle cx="1856.3" cy="729.4" r="5.5" fill="#cf0a86"/>
<circle cx="1880.9" cy="672.8" r="5.5" fill="#cf0a86"/>
<circle cx="2034.6" cy="705.0" r="5.5" fill="#059c3a"/>
<circle cx="1976.2" cy="706.8" r="5.5" fill="#0c5bbf"/>
<circle cx="1920.9" cy="708.6" r="5.5" fill="#059c3a"/>
<circle cx="1870.1" cy="692.9" r="5.5" fill="#cf0a86"/>
<circle cx="1894.3" cy="691.7" r="5.5" fill="#cf0a86"/>
<circle cx="1866.4" cy="680.8" r="5.5" fill="#cf0a86"/>
<circle cx="2030.9" cy="736.4" r="5.5" fill="#059c3a"/>
<circle cx="2015.2" cy="673.5" r="5.5" fill="#059c3a"/>
<circle cx="1855.5" cy="737.9" r="5.5" fill="#cf0a86"/>
<circle cx="1977.9" cy="726.2" r="5.5" fill="#059c3a"/>
<circle cx="1861.6" cy="690.4" r="5.5" fill="#cf0a86"/>
<circle cx="1938.1" cy="691.0" r="5.5" fill="#0c5bbf"/>
<circle cx="2040.6" cy="714.6" r="5.5" fill="#059c3a"/>
<circle cx="1979.6" cy="778.7" r="5.5" fill="#0c5bbf"/>
<circle cx="1974.8" cy="677.1" r="5.5" fill="#0c5bbf"/>
<circle cx="1958.0" cy="680.9" r="5.5" fill="#0c5bbf"/>
<circle cx="1833.8" cy="741.2" r="5.5" fill="#cf0a86"/>
<circle cx="2035.8" cy="729.2" r="5.5" fill="#059c3a"/>
<circle cx="1875.5" cy="719.5" r="5.5" fill="#cf0a86"/>
<circle cx="1933.1" cy="707.8" r="5.5" fill="#0c5bbf"/>
<circle cx="1991.0" cy="702.5" r="5.5" fill="#059c3a"/>
<circle cx="1851.9" cy="708.6" r="5.5" fill="#cf0a86"/>
<circle cx="1963.2" cy="731.0" r="5.5" fill="#059c3a"/>
<circle cx="1864.5" cy="639.7" r="5.5" fill="#cf0a86"/>
<circle cx="1983.3" cy="529.1" r="5.5" fill="#0c5bbf"/>
<circle cx="1976.8" cy="641.6" r="5.5" fill="#0c5bbf"/>
<circle cx="1973.4" cy="718.5" r="5.5" fill="#0c5bbf"/>
<circle cx="1851.9" cy="671.1" r="5.5" fill="#cf0a86"/>
<circle cx="1870.2" cy="748.7" r="5.5" fill="#cf0a86"/>
<circle cx="1934.2" cy="666.3" r="5.5" fill="#059c3a"/>
<circle cx="1839.8" cy="749.7" r="5.5" fill="#cf0a86"/>
<circle cx="1957.7" cy="690.6" r="5.5" fill="#059c3a"/>
<circle cx="1964.3" cy="734.6" r="5.5" fill="#059c3a"/>
<circle cx="2006.8" cy="706.4" r="5.5" fill="#059c3a"/>
<circle cx="1927.6" cy="618.6" r="5.5" fill="#0c5bbf"/>
<circle cx="1965.1" cy="634.8" r="5.5" fill="#0c5bbf"/>
<circle cx="1926.6" cy="695.9" r="5.5" fill="#059c3a"/>
<circle cx="1859.4" cy="591.8" r="5.5" fill="#cf0a86"/>
<circle cx="1855.0" cy="664.9" r="5.5" fill="#cf0a86"/>
<circle cx="2013.1" cy="698.4" r="5.5" fill="#059c3a"/>
<circle cx="1872.5" cy="667.5" r="5.5" fill="#cf0a86"/>
<circle cx="1967.3" cy="703.6" r="5.5" fill="#059c3a"/>
<circle cx="1876.1" cy="719.5" r="5.5" fill="#cf0a86"/>
<circle cx="1850.7" cy="677.1" r="5.5" fill="#cf0a86"/>
<circle cx="1957.1" cy="644.5" r="5.5" fill="#059c3a"/>
<circle cx="1989.0" cy="712.2" r="5.5" fill="#059c3a"/>
<circle cx="1875.0" cy="726.3" r="5.5" fill="#cf0a86"/>
<circle cx="1859.6" cy="730.2" r="5.5" fill="#cf0a86"/>
<circle cx="2020.0" cy="672.3" r="5.5" fill="#059c3a"/>
<circle cx="1836.9" cy="711.2" r="5.5" fill="#cf0a86"/>
<circle cx="1930.5" cy="732.8" r="5.5" fill="#059c3a"/>
<circle cx="1851.3" cy="670.4" r="5.5" fill="#cf0a86"/>
<circle cx="1867.6" cy="746.1" r="5.5" fill="#cf0a86"/>
<circle cx="1838.1" cy="752.1" r="5.5" fill="#cf0a86"/>
<circle cx="1848.3" cy="712.4" r="5.5" fill="#cf0a86"/>
<circle cx="1873.2" cy="737.8" r="5.5" fill="#cf0a86"/>
<circle cx="1953.5" cy="729.2" r="5.5" fill="#059c3a"/>
<circle cx="1999.6" cy="682.4" r="5.5" fill="#059c3a"/>
<circle cx="1984.5" cy="630.5" r="5.5" fill="#059c3a"/>
<circle cx="1862.1" cy="737.1" r="5.5" fill="#cf0a86"/>
<circle cx="1971.9" cy="666.2" r="5.5" fill="#0c5bbf"/>
<circle cx="1849.0" cy="692.9" r="5.5" fill="#cf0a86"/>
<circle cx="1945.1" cy="651.7" r="5.5" fill="#0c5bbf"/>
<circle cx="1930.5" cy="760.6" r="5.5" fill="#059c3a"/>
<circle cx="1946.3" cy="646.9" r="5.5" fill="#0c5bbf"/>
<circle cx="2025.4" cy="604.1" r="5.5" fill="#059c3a"/>
<circle cx="1882.9" cy="705.4" r="5.5" fill="#cf0a86"/>
<circle cx="1862.0" cy="742.6" r="5.5" fill="#cf0a86"/>
<circle cx="1956.4" cy="614.7" r="5.5" fill="#0c5bbf"/>
<circle cx="1974.1" cy="743.7" r="5.5" fill="#0c5bbf"/>
<circle cx="1858.3" cy="673.3" r="5.5" fill="#cf0a86"/>
<circle cx="1846.9" cy="710.1" r="5.5" fill="#cf0a86"/>
<circle cx="1928.1" cy="714.6" r="5.5" fill="#0c5bbf"/>
<circle cx="1998.3" cy="660.2" r="5.5" fill="#059c3a"/>
<circle cx="1851.9" cy="747.3" r="5.5" fill="#cf0a86"/>
<circle cx="1859.5" cy="671.0" r="5.5" fill="#cf0a86"/>
<circle cx="1848.8" cy="715.5" r="5.5" fill="#cf0a86"/>
<circle cx="1987.4" cy="691.7" r="5.5" fill="#0c5bbf"/>
<circle cx="1857.3" cy="700.1" r="5.5" fill="#cf0a86"/>
<circle cx="2012.8" cy="660.7" r="5.5" fill="#0c5bbf"/>
<circle cx="1920.1" cy="698.9" r="5.5" fill="#0c5bbf"/>
<circle cx="1839.8" cy="715.8" r="5.5" fill="#cf0a86"/>
<circle cx="1942.6" cy="691.7" r="5.5" fill="#059c3a"/>
<circle cx="1874.5" cy="734.0" r="5.5" fill="#cf0a86"/>
<circle cx="1842.2" cy="688.0" r="5.5" fill="#cf0a86"/>
<circle cx="1948.1" cy="714.3" r="5.5" fill="#0c5bbf"/>
<circle cx="1972.2" cy="719.6" r="5.5" fill="#059c3a"/>
<circle cx="1968.5" cy="626.3" r="5.5" fill="#0c5bbf"/>
<circle cx="1982.5" cy="686.7" r="5.5" fill="#059c3a"/>
<circle cx="1876.1" cy="663.8" r="5.5" fill="#cf0a86"/>
<circle cx="1976.0" cy="638.4" r="5.5" fill="#0c5bbf"/>
<circle cx="1871.5" cy="717.3" r="5.5" fill="#cf0a86"/>
<circle cx="1957.9" cy="667.5" r="5.5" fill="#0c5bbf"/>
<circle cx="1966.1" cy="721.9" r="5.5" fill="#0c5bbf"/>
<circle cx="1978.9" cy="645.6" r="5.5" fill="#0c5bbf"/>
<circle cx="1845.6" cy="728.0" r="5.5" fill="#cf0a86"/>
<circle cx="1958.2" cy="670.0" r="5.5" fill="#0c5bbf"/>
<circle cx="1859.6" cy="707.5" r="5.5" fill="#cf0a86"/>
<circle cx="2011.6" cy="749.2" r="5.5" fill="#059c3a"/>
<circle cx="1937.2" cy="682.0" r="5.5" fill="#0c5bbf"/>
<circle cx="2006.3" cy="712.6" r="5.5" fill="#059c3a"/>
<circle cx="1944.8" cy="702.2" r="5.5" fill="#059c3a"/>
<circle cx="1852.7" cy="739.3" r="5.5" fill="#cf0a86"/>
<circle cx="1911.2" cy="706.9" r="5.5" fill="#059c3a"/>
<circle cx="1842.7" cy="672.3" r="5.5" fill="#cf0a86"/>
<circle cx="1844.7" cy="655.9" r="5.5" fill="#cf0a86"/>
<circle cx="1880.9" cy="633.6" r="5.5" fill="#cf0a86"/>
<circle cx="2035.8" cy="706.2" r="5.5" fill="#0c5bbf"/>
<circle cx="2004.3" cy="673.5" r="5.5" fill="#059c3a"/>
<circle cx="1934.6" cy="768.6" r="5.5" fill="#059c3a"/>
<circle cx="2021.2" cy="698.9" r="5.5" fill="#059c3a"/>
<circle cx="1959.7" cy="673.3" r="5.5" fill="#0c5bbf"/>
<circle cx="1914.8" cy="767.1" r="5.5" fill="#059c3a"/>
<circle cx="1983.8" cy="765.9" r="5.5" fill="#059c3a"/>
<circle cx="1861.6" cy="707.4" r="5.5" fill="#cf0a86"/>
<circle cx="1953.5" cy="689.2" r="5.5" fill="#059c3a"/>
<circle cx="1857.0" cy="673.9" r="5.5" fill="#cf0a86"/>
<circle cx="2052.7" cy="659.0" r="5.5" fill="#0c5bbf"/>
<circle cx="1855.3" cy="662.3" r="5.5" fill="#cf0a86"/>
<circle cx="2004.3" cy="741.2" r="5.5" fill="#0c5bbf"/>
<circle cx="1815.6" cy="747.1" r="5.5" fill="#cf0a86"/>
<circle cx="2045.4" cy="735.2" r="5.5" fill="#059c3a"/>
<circle cx="1841.9" cy="731.9" r="5.5" fill="#cf0a86"/>
<circle cx="2001.9" cy="653.7" r="5.5" fill="#059c3a"/>
<circle cx="2007.9" cy="737.6" r="5.5" fill="#059c3a"/>
<circle cx="1923.3" cy="768.6" r="5.5" fill="#0c5bbf"/>
<circle cx="1994.0" cy="706.4" r="5.5" fill="#059c3a"/>
<circle cx="1854.9" cy="722.4" r="5.5" fill="#cf0a86"/>
<circle cx="1864.7" cy="613.0" r="5.5" fill="#cf0a86"/>
<circle cx="1957.1" cy="758.2" r="5.5" fill="#059c3a"/>
<circle cx="1964.4" cy="691.0" r="5.5" fill="#0c5bbf"/>
<circle cx="1945.1" cy="665.1" r="5.5" fill="#0c5bbf"/>
<circle cx="1860.7" cy="676.1" r="5.5" fill="#cf0a86"/>
<circle cx="1844.2" cy="755.7" r="5.5" fill="#cf0a86"/>
<circle cx="1857.2" cy="758.6" r="5.5" fill="#cf0a86"/>
<circle cx="1918.4" cy="672.3" r="5.5" fill="#0c5bbf"/>
<circle cx="2029.2" cy="695.9" r="5.5" fill="#059c3a"/>
<circle cx="1946.3" cy="731.6" r="5.5" fill="#059c3a"/>
<circle cx="2000.8" cy="689.2" r="5.5" fill="#059c3a"/>
<circle cx="1923.3" cy="732.8" r="5.5" fill="#059c3a"/>
<circle cx="1862.9" cy="710.6" r="5.5" fill="#cf0a86"/>
<circle cx="1997.7" cy="674.9" r="5.5" fill="#059c3a"/>
<circle cx="1989.6" cy="807.8" r="5.5" fill="#0c5bbf"/>
<circle cx="2060.0" cy="666.3" r="5.5" fill="#0c5bbf"/>
<circle cx="1837.4" cy="721.9" r="5.5" fill="#cf0a86"/>
<circle cx="1958.5" cy="654.6" r="5.5" fill="#0c5bbf"/>
<circle cx="1952.9" cy="691.9" r="5.5" fill="#0c5bbf"/>
<circle cx="2003.1" cy="729.2" r="5.5" fill="#059c3a"/>
<circle cx="1994.8" cy="714.1" r="5.5" fill="#059c3a"/>
<circle cx="1832.6" cy="749.7" r="5.5" fill="#cf0a86"/>
<circle cx="1864.6" cy="680.0" r="5.5" fill="#cf0a86"/>
<circle cx="2022.5" cy="683.2" r="5.5" fill="#0c5bbf"/>
<circle cx="1870.8" cy="708.5" r="5.5" fill="#cf0a86"/>
<circle cx="1871.3" cy="721.9" r="5.5" fill="#cf0a86"/>
<circle cx="1861.6" cy="686.8" r="5.5" fill="#cf0a86"/>
<circle cx="1858.8" cy="739.2" r="5.5" fill="#cf0a86"/>
<circle cx="1966.8" cy="694.1" r="5.5" fill="#0c5bbf"/>
<circle cx="1872.5" cy="602.2" r="5.5" fill="#cf0a86"/>
<circle cx="1858.0" cy="715.8" r="5.5" fill="#cf0a86"/>
<circle cx="2004.3" cy="691.7" r="5.5" fill="#0c5bbf"/>
<circle cx="1858.0" cy="735.2" r="5.5" fill="#cf0a86"/>
<circle cx="1944.5" cy="714.7" r="5.5" fill="#059c3a"/>
<circle cx="1974.2" cy="642.4" r="5.5" fill="#0c5bbf"/>
<circle cx="2024.4" cy="699.1" r="5.5" fill="#059c3a"/>
<circle cx="1982.2" cy="706.5" r="5.5" fill="#0c5bbf"/>
<circle cx="2018.8" cy="718.3" r="5.5" fill="#059c3a"/>
<circle cx="1831.7" cy="735.2" r="5.5" fill="#cf0a86"/>
<circle cx="2010.3" cy="718.0" r="5.5" fill="#059c3a"/>
<circle cx="1969.1" cy="725.0" r="5.5" fill="#059c3a"/>
<circle cx="1888.2" cy="709.8" r="5.5" fill="#cf0a86"/>
<circle cx="1853.6" cy="736.9" r="5.5" fill="#cf0a86"/>
<circle cx="1977.7" cy="725.5" r="5.5" fill="#059c3a"/>
<circle cx="1967.6" cy="659.1" r="5.5" fill="#0c5bbf"/>
<circle cx="1980.1" cy="665.3" r="5.5" fill="#0c5bbf"/>
<circle cx="1991.0" cy="669.9" r="5.5" fill="#059c3a"/>
<circle cx="1960.5" cy="665.8" r="5.5" fill="#0c5bbf"/>
<circle cx="1856.8" cy="741.2" r="5.5" fill="#cf0a86"/>
<circle cx="1955.5" cy="634.8" r="5.5" fill="#0c5bbf"/>
<circle cx="1952.0" cy="688.3" r="5.5" fill="#0c5bbf"/>
<circle cx="1976.3" cy="583.3" r="5.5" fill="#0c5bbf"/>
<circle cx="1972.9" cy="708.6" r="5.5" fill="#0c5bbf"/>
<circle cx="1860.4" cy="748.5" r="5.5" fill="#cf0a86"/>
</g>
<rect x="1791.50" y="505.90" width="414.00" height="334.50" fill="none" stroke="#2b2b2b" stroke-width="1.05"/>
<text x="1830.40" y="861.00" font-size="14.40" font-weight="bold" fill="#000" text-anchor="middle">-5</text>
<text x="1944.10" y="861.00" font-size="14.40" font-weight="bold" fill="#000" text-anchor="middle">0</text>
<text x="2057.80" y="861.00" font-size="14.40" font-weight="bold" fill="#000" text-anchor="middle">5</text>
<text x="2171.50" y="861.00" font-size="14.40" font-weight="bold" fill="#000" text-anchor="middle">10</text>
<path d="M1830.40 840.40v4.8M1944.10 840.40v4.8M2057.80 840.40v4.8M2171.50 840.40v4.8" stroke="#222" stroke-width="1.1" fill="none"/>
<text x="1786.35" y="883.00" font-size="18.00" font-weight="bold" fill="#000" text-anchor="middle">PC1</text>
<text x="1334.94" y="500.40" font-size="18.00" font-weight="bold" fill="#000" text-anchor="middle" transform="rotate(-90 1334.94 500.40)">PC2</text>
<circle cx="2284.6" cy="468.4" r="5.5" fill="#cf0a86" fill-opacity=".7" stroke="#141414" stroke-opacity=".88" stroke-width="1.4"/>
<text x="2311.20" y="474.86" font-size="18.35" font-weight="bold" fill="#000" text-anchor="start">Apical</text>
<circle cx="2284.6" cy="500.5" r="5.5" fill="#059c3a" fill-opacity=".7" stroke="#141414" stroke-opacity=".88" stroke-width="1.4"/>
<text x="2311.20" y="506.96" font-size="18.35" font-weight="bold" fill="#000" text-anchor="start">Middle</text>
<circle cx="2284.6" cy="532.9" r="5.5" fill="#0c5bbf" fill-opacity=".7" stroke="#141414" stroke-opacity=".88" stroke-width="1.4"/>
<text x="2311.20" y="539.36" font-size="18.35" font-weight="bold" fill="#000" text-anchor="start">Basal</text>
<rect x="1368.70" y="1093.70" width="421.30" height="33.30" fill="#000"/>
<rect x="1800.40" y="1093.70" width="420.40" height="33.30" fill="#000"/>
<rect x="2220.80" y="1127.00" width="32.70" height="340.40" fill="#000"/>
<rect x="2220.80" y="1478.30" width="32.70" height="339.70" fill="#000"/>
<text x="1579.35" y="1116.09" font-size="16.30" font-weight="bold" fill="#fff" text-anchor="middle">14</text>
<text x="2010.60" y="1116.09" font-size="16.30" font-weight="bold" fill="#fff" text-anchor="middle">13</text>
<text x="2231.71" y="1296.40" font-size="16.30" font-weight="bold" fill="#fff" text-anchor="middle" transform="rotate(90 2231.71 1296.40)">2021</text>
<text x="2231.71" y="1647.35" font-size="16.30" font-weight="bold" fill="#fff" text-anchor="middle" transform="rotate(90 2231.71 1647.35)">2022</text>
<rect x="1368.70" y="1127.00" width="421.30" height="340.40" fill="#fff"/>
<path d="M1462.03 1127.00V1467.40M1564.78 1127.00V1467.40M1667.53 1127.00V1467.40M1770.28 1127.00V1467.40M1368.70 1438.33H1790.00M1368.70 1353.58H1790.00M1368.70 1268.83H1790.00M1368.70 1184.08H1790.00" stroke="#000" stroke-opacity=".11" stroke-width=".9" fill="none"/>
<path d="M1410.65 1127.00V1467.40M1513.40 1127.00V1467.40M1616.15 1127.00V1467.40M1718.90 1127.00V1467.40M1368.70 1395.95H1790.00M1368.70 1311.20H1790.00M1368.70 1226.45H1790.00M1368.70 1141.70H1790.00" stroke="#000" stroke-opacity=".25" stroke-width="1" fill="none"/>
<g stroke="#141414" stroke-opacity=".88" stroke-width="1.4" fill-opacity=".7">
<circle cx="1770.5" cy="1295.0" r="5.8" fill="#059c3a"/>
<circle cx="1573.3" cy="1303.4" r="5.8" fill="#059c3a"/>
<circle cx="1543.5" cy="1302.1" r="5.8" fill="#0c5bbf"/>
<circle cx="1545.3" cy="1311.6" r="5.8" fill="#059c3a"/>
<circle cx="1566.1" cy="1326.4" r="5.8" fill="#0c5bbf"/>
<circle cx="1533.8" cy="1299.3" r="5.8" fill="#0c5bbf"/>
<circle cx="1553.5" cy="1322.5" r="5.8" fill="#0c5bbf"/>
<circle cx="1428.1" cy="1296.5" r="5.8" fill="#cf0a86"/>
<circle cx="1406.4" cy="1280.4" r="5.8" fill="#cf0a86"/>
<circle cx="1622.9" cy="1285.3" r="5.8" fill="#059c3a"/>
<circle cx="1441.1" cy="1281.6" r="5.8" fill="#cf0a86"/>
<circle cx="1516.4" cy="1295.1" r="5.8" fill="#0c5bbf"/>
<circle cx="1454.8" cy="1311.9" r="5.8" fill="#cf0a86"/>
<circle cx="1528.0" cy="1287.9" r="5.8" fill="#0c5bbf"/>
<circle cx="1553.8" cy="1320.7" r="5.8" fill="#0c5bbf"/>
<circle cx="1530.6" cy="1307.5" r="5.8" fill="#0c5bbf"/>
<circle cx="1574.2" cy="1321.4" r="5.8" fill="#0c5bbf"/>
<circle cx="1406.4" cy="1308.3" r="5.8" fill="#cf0a86"/>
<circle cx="1577.9" cy="1314.1" r="5.8" fill="#0c5bbf"/>
<circle cx="1670.6" cy="1309.5" r="5.8" fill="#059c3a"/>
<circle cx="1551.6" cy="1293.8" r="5.8" fill="#059c3a"/>
<circle cx="1455.8" cy="1310.9" r="5.8" fill="#cf0a86"/>
<circle cx="1511.5" cy="1300.6" r="5.8" fill="#0c5bbf"/>
<circle cx="1561.2" cy="1314.3" r="5.8" fill="#059c3a"/>
<circle cx="1560.0" cy="1331.2" r="5.8" fill="#0c5bbf"/>
<circle cx="1503.1" cy="1308.0" r="5.8" fill="#0c5bbf"/>
<circle cx="1445.1" cy="1325.2" r="5.8" fill="#cf0a86"/>
<circle cx="1502.3" cy="1324.8" r="5.8" fill="#0c5bbf"/>
<circle cx="1447.6" cy="1298.6" r="5.8" fill="#cf0a86"/>
<circle cx="1441.2" cy="1290.0" r="5.8" fill="#cf0a86"/>
<circle cx="1539.1" cy="1331.8" r="5.8" fill="#0c5bbf"/>
<circle cx="1561.9" cy="1308.5" r="5.8" fill="#0c5bbf"/>
<circle cx="1438.2" cy="1309.6" r="5.8" fill="#cf0a86"/>
<circle cx="1442.7" cy="1305.8" r="5.8" fill="#cf0a86"/>
<circle cx="1536.6" cy="1323.5" r="5.8" fill="#0c5bbf"/>
<circle cx="1555.2" cy="1327.6" r="5.8" fill="#059c3a"/>
<circle cx="1580.6" cy="1291.3" r="5.8" fill="#0c5bbf"/>
<circle cx="1576.7" cy="1306.7" r="5.8" fill="#0c5bbf"/>
<circle cx="1540.4" cy="1295.2" r="5.8" fill="#0c5bbf"/>
<circle cx="1478.5" cy="1323.3" r="5.8" fill="#cf0a86"/>
<circle cx="1460.9" cy="1290.6" r="5.8" fill="#cf0a86"/>
<circle cx="1439.5" cy="1317.1" r="5.8" fill="#cf0a86"/>
<circle cx="1443.6" cy="1317.1" r="5.8" fill="#cf0a86"/>
<circle cx="1625.2" cy="1309.2" r="5.8" fill="#059c3a"/>
<circle cx="1487.2" cy="1302.0" r="5.8" fill="#0c5bbf"/>
<circle cx="1625.4" cy="1296.2" r="5.8" fill="#059c3a"/>
<circle cx="1551.6" cy="1312.2" r="5.8" fill="#059c3a"/>
<circle cx="1631.9" cy="1269.1" r="5.8" fill="#059c3a"/>
<circle cx="1408.9" cy="1281.4" r="5.8" fill="#cf0a86"/>
<circle cx="1465.2" cy="1328.3" r="5.8" fill="#0c5bbf"/>
<circle cx="1491.1" cy="1334.9" r="5.8" fill="#0c5bbf"/>
<circle cx="1584.3" cy="1287.0" r="5.8" fill="#059c3a"/>
<circle cx="1572.6" cy="1318.9" r="5.8" fill="#059c3a"/>
<circle cx="1600.2" cy="1303.1" r="5.8" fill="#059c3a"/>
<circle cx="1436.7" cy="1298.6" r="5.8" fill="#cf0a86"/>
<circle cx="1527.9" cy="1297.0" r="5.8" fill="#0c5bbf"/>
<circle cx="1593.9" cy="1275.6" r="5.8" fill="#0c5bbf"/>
<circle cx="1614.5" cy="1285.3" r="5.8" fill="#059c3a"/>
<circle cx="1608.8" cy="1291.8" r="5.8" fill="#059c3a"/>
<circle cx="1447.6" cy="1310.7" r="5.8" fill="#cf0a86"/>
<circle cx="1440.6" cy="1302.4" r="5.8" fill="#cf0a86"/>
<circle cx="1439.1" cy="1322.8" r="5.8" fill="#cf0a86"/>
<circle cx="1608.4" cy="1303.4" r="5.8" fill="#0c5bbf"/>
<circle cx="1592.4" cy="1285.4" r="5.8" fill="#059c3a"/>
<circle cx="1529.8" cy="1333.7" r="5.8" fill="#059c3a"/>
<circle cx="1489.9" cy="1317.9" r="5.8" fill="#0c5bbf"/>
<circle cx="1529.8" cy="1337.3" r="5.8" fill="#0c5bbf"/>
<circle cx="1506.4" cy="1307.6" r="5.8" fill="#0c5bbf"/>
<circle cx="1553.4" cy="1310.2" r="5.8" fill="#0c5bbf"/>
<circle cx="1498.4" cy="1330.0" r="5.8" fill="#0c5bbf"/>
<circle cx="1524.9" cy="1312.5" r="5.8" fill="#059c3a"/>
<circle cx="1562.5" cy="1304.6" r="5.8" fill="#0c5bbf"/>
<circle cx="1553.1" cy="1285.9" r="5.8" fill="#059c3a"/>
<circle cx="1573.7" cy="1303.5" r="5.8" fill="#059c3a"/>
<circle cx="1515.3" cy="1324.3" r="5.8" fill="#0c5bbf"/>
<circle cx="1518.6" cy="1307.7" r="5.8" fill="#059c3a"/>
<circle cx="1464.5" cy="1311.2" r="5.8" fill="#cf0a86"/>
<circle cx="1425.2" cy="1280.3" r="5.8" fill="#cf0a86"/>
<circle cx="1556.4" cy="1321.6" r="5.8" fill="#0c5bbf"/>
<circle cx="1456.5" cy="1301.8" r="5.8" fill="#cf0a86"/>
<circle cx="1511.7" cy="1286.0" r="5.8" fill="#0c5bbf"/>
<circle cx="1509.2" cy="1303.4" r="5.8" fill="#0c5bbf"/>
<circle cx="1431.2" cy="1291.7" r="5.8" fill="#cf0a86"/>
<circle cx="1610.8" cy="1310.7" r="5.8" fill="#059c3a"/>
<circle cx="1580.5" cy="1284.5" r="5.8" fill="#059c3a"/>
<circle cx="1525.0" cy="1326.4" r="5.8" fill="#0c5bbf"/>
<circle cx="1452.4" cy="1304.6" r="5.8" fill="#cf0a86"/>
<circle cx="1600.5" cy="1300.1" r="5.8" fill="#059c3a"/>
<circle cx="1558.1" cy="1270.8" r="5.8" fill="#059c3a"/>
<circle cx="1532.1" cy="1332.4" r="5.8" fill="#0c5bbf"/>
<circle cx="1664.1" cy="1275.6" r="5.8" fill="#059c3a"/>
<circle cx="1448.5" cy="1304.7" r="5.8" fill="#cf0a86"/>
<circle cx="1467.6" cy="1336.8" r="5.8" fill="#cf0a86"/>
<circle cx="1431.8" cy="1321.6" r="5.8" fill="#cf0a86"/>
<circle cx="1440.0" cy="1306.5" r="5.8" fill="#cf0a86"/>
<circle cx="1513.8" cy="1299.6" r="5.8" fill="#0c5bbf"/>
<circle cx="1439.3" cy="1291.6" r="5.8" fill="#cf0a86"/>
<circle cx="1517.0" cy="1277.3" r="5.8" fill="#0c5bbf"/>
<circle cx="1541.9" cy="1280.4" r="5.8" fill="#059c3a"/>
<circle cx="1561.8" cy="1325.4" r="5.8" fill="#0c5bbf"/>
<circle cx="1412.4" cy="1291.9" r="5.8" fill="#cf0a86"/>
<circle cx="1513.1" cy="1310.6" r="5.8" fill="#0c5bbf"/>
<circle cx="1495.5" cy="1306.2" r="5.8" fill="#0c5bbf"/>
<circle cx="1412.2" cy="1298.3" r="5.8" fill="#cf0a86"/>
<circle cx="1534.3" cy="1316.2" r="5.8" fill="#0c5bbf"/>
<circle cx="1591.4" cy="1288.7" r="5.8" fill="#059c3a"/>
<circle cx="1408.9" cy="1297.4" r="5.8" fill="#cf0a86"/>
<circle cx="1531.0" cy="1310.7" r="5.8" fill="#0c5bbf"/>
<circle cx="1568.4" cy="1309.0" r="5.8" fill="#0c5bbf"/>
<circle cx="1505.6" cy="1285.3" r="5.8" fill="#0c5bbf"/>
<circle cx="1505.6" cy="1304.1" r="5.8" fill="#0c5bbf"/>
<circle cx="1608.8" cy="1301.8" r="5.8" fill="#059c3a"/>
<circle cx="1448.9" cy="1307.4" r="5.8" fill="#cf0a86"/>
<circle cx="1483.1" cy="1342.6" r="5.8" fill="#0c5bbf"/>
<circle cx="1528.1" cy="1311.4" r="5.8" fill="#0c5bbf"/>
<circle cx="1513.5" cy="1324.9" r="5.8" fill="#0c5bbf"/>
<circle cx="1601.2" cy="1295.0" r="5.8" fill="#059c3a"/>
<circle cx="1534.7" cy="1309.9" r="5.8" fill="#0c5bbf"/>
<circle cx="1632.6" cy="1296.2" r="5.8" fill="#059c3a"/>
<circle cx="1650.7" cy="1286.0" r="5.8" fill="#059c3a"/>
<circle cx="1454.8" cy="1328.3" r="5.8" fill="#cf0a86"/>
<circle cx="1433.8" cy="1310.1" r="5.8" fill="#cf0a86"/>
<circle cx="1450.2" cy="1306.4" r="5.8" fill="#cf0a86"/>
<circle cx="1552.3" cy="1315.0" r="5.8" fill="#059c3a"/>
<circle cx="1453.1" cy="1309.0" r="5.8" fill="#cf0a86"/>
<circle cx="1541.9" cy="1333.7" r="5.8" fill="#0c5bbf"/>
<circle cx="1608.9" cy="1299.1" r="5.8" fill="#059c3a"/>
<circle cx="1429.1" cy="1292.5" r="5.8" fill="#cf0a86"/>
<circle cx="1529.8" cy="1296.1" r="5.8" fill="#059c3a"/>
<circle cx="1551.2" cy="1309.4" r="5.8" fill="#059c3a"/>
<circle cx="1577.2" cy="1296.4" r="5.8" fill="#059c3a"/>
<circle cx="1433.2" cy="1282.8" r="5.8" fill="#cf0a86"/>
<circle cx="1499.1" cy="1275.1" r="5.8" fill="#0c5bbf"/>
<circle cx="1441.3" cy="1296.2" r="5.8" fill="#cf0a86"/>
<circle cx="1445.4" cy="1311.1" r="5.8" fill="#cf0a86"/>
<circle cx="1489.4" cy="1364.4" r="5.8" fill="#0c5bbf"/>
<circle cx="1496.0" cy="1305.8" r="5.8" fill="#0c5bbf"/>
<circle cx="1599.7" cy="1240.3" r="5.8" fill="#0c5bbf"/>
<circle cx="1541.9" cy="1319.2" r="5.8" fill="#059c3a"/>
<circle cx="1431.9" cy="1297.8" r="5.8" fill="#cf0a86"/>
<circle cx="1517.7" cy="1296.2" r="5.8" fill="#0c5bbf"/>
<circle cx="1521.3" cy="1304.2" r="5.8" fill="#0c5bbf"/>
<circle cx="1493.9" cy="1304.8" r="5.8" fill="#0c5bbf"/>
<circle cx="1429.3" cy="1278.8" r="5.8" fill="#cf0a86"/>
<circle cx="1545.9" cy="1291.6" r="5.8" fill="#0c5bbf"/>
<circle cx="1617.2" cy="1299.3" r="5.8" fill="#059c3a"/>
<circle cx="1527.4" cy="1284.1" r="5.8" fill="#0c5bbf"/>
<circle cx="1597.6" cy="1298.8" r="5.8" fill="#059c3a"/>
<circle cx="1443.8" cy="1315.5" r="5.8" fill="#cf0a86"/>
<circle cx="1552.8" cy="1275.1" r="5.8" fill="#0c5bbf"/>
<circle cx="1527.5" cy="1310.3" r="5.8" fill="#0c5bbf"/>
<circle cx="1498.9" cy="1312.5" r="5.8" fill="#0c5bbf"/>
<circle cx="1418.5" cy="1298.6" r="5.8" fill="#cf0a86"/>
<circle cx="1423.4" cy="1305.8" r="5.8" fill="#cf0a86"/>
<circle cx="1431.9" cy="1292.6" r="5.8" fill="#cf0a86"/>
<circle cx="1416.1" cy="1283.2" r="5.8" fill="#cf0a86"/>
<circle cx="1554.0" cy="1333.7" r="5.8" fill="#059c3a"/>
<circle cx="1498.8" cy="1356.6" r="5.8" fill="#0c5bbf"/>
<circle cx="1627.8" cy="1288.9" r="5.8" fill="#059c3a"/>
<circle cx="1435.5" cy="1290.9" r="5.8" fill="#cf0a86"/>
<circle cx="1514.6" cy="1355.4" r="5.8" fill="#0c5bbf"/>
<circle cx="1592.7" cy="1282.9" r="5.8" fill="#059c3a"/>
<circle cx="1428.0" cy="1258.2" r="5.8" fill="#cf0a86"/>
<circle cx="1421.0" cy="1302.7" r="5.8" fill="#cf0a86"/>
<circle cx="1418.5" cy="1317.9" r="5.8" fill="#cf0a86"/>
<circle cx="1438.9" cy="1316.7" r="5.8" fill="#cf0a86"/>
<circle cx="1517.9" cy="1288.1" r="5.8" fill="#0c5bbf"/>
<circle cx="1497.9" cy="1271.3" r="5.8" fill="#0c5bbf"/>
<circle cx="1434.3" cy="1313.1" r="5.8" fill="#cf0a86"/>
<circle cx="1505.9" cy="1263.3" r="5.8" fill="#0c5bbf"/>
<circle cx="1487.8" cy="1308.5" r="5.8" fill="#0c5bbf"/>
<circle cx="1421.4" cy="1279.8" r="5.8" fill="#cf0a86"/>
<circle cx="1494.2" cy="1314.0" r="5.8" fill="#0c5bbf"/>
<circle cx="1564.1" cy="1305.7" r="5.8" fill="#0c5bbf"/>
<circle cx="1545.5" cy="1273.2" r="5.8" fill="#0c5bbf"/>
<circle cx="1409.2" cy="1285.9" r="5.8" fill="#cf0a86"/>
<circle cx="1581.8" cy="1281.7" r="5.8" fill="#0c5bbf"/>
<circle cx="1591.6" cy="1318.3" r="5.8" fill="#059c3a"/>
<circle cx="1640.6" cy="1316.7" r="5.8" fill="#059c3a"/>
<circle cx="1553.9" cy="1296.9" r="5.8" fill="#059c3a"/>
<circle cx="1587.9" cy="1297.4" r="5.8" fill="#059c3a"/>
<circle cx="1424.4" cy="1276.4" r="5.8" fill="#cf0a86"/>
<circle cx="1538.1" cy="1292.7" r="5.8" fill="#059c3a"/>
<circle cx="1441.4" cy="1287.1" r="5.8" fill="#cf0a86"/>
<circle cx="1578.3" cy="1305.0" r="5.8" fill="#059c3a"/>
<circle cx="1521.0" cy="1288.7" r="5.8" fill="#0c5bbf"/>
<circle cx="1648.3" cy="1311.9" r="5.8" fill="#059c3a"/>
<circle cx="1577.1" cy="1299.1" r="5.8" fill="#059c3a"/>
<circle cx="1425.0" cy="1289.4" r="5.8" fill="#cf0a86"/>
<circle cx="1624.1" cy="1309.5" r="5.8" fill="#059c3a"/>
<circle cx="1587.8" cy="1294.1" r="5.8" fill="#059c3a"/>
<circle cx="1533.5" cy="1321.5" r="5.8" fill="#0c5bbf"/>
<circle cx="1446.4" cy="1307.7" r="5.8" fill="#cf0a86"/>
<circle cx="1633.8" cy="1309.5" r="5.8" fill="#0c5bbf"/>
<circle cx="1486.3" cy="1302.2" r="5.8" fill="#cf0a86"/>
<circle cx="1450.0" cy="1285.3" r="5.8" fill="#cf0a86"/>
<circle cx="1430.6" cy="1292.5" r="5.8" fill="#cf0a86"/>
<circle cx="1512.1" cy="1313.1" r="5.8" fill="#0c5bbf"/>
<circle cx="1523.1" cy="1297.8" r="5.8" fill="#059c3a"/>
<circle cx="1539.6" cy="1311.1" r="5.8" fill="#0c5bbf"/>
<circle cx="1445.2" cy="1309.0" r="5.8" fill="#cf0a86"/>
<circle cx="1529.7" cy="1291.2" r="5.8" fill="#0c5bbf"/>
<circle cx="1536.1" cy="1315.2" r="5.8" fill="#0c5bbf"/>
<circle cx="1442.7" cy="1290.1" r="5.8" fill="#cf0a86"/>
<circle cx="1574.8" cy="1317.9" r="5.8" fill="#059c3a"/>
<circle cx="1446.7" cy="1316.8" r="5.8" fill="#cf0a86"/>
<circle cx="1564.6" cy="1307.0" r="5.8" fill="#059c3a"/>
<circle cx="1573.3" cy="1311.9" r="5.8" fill="#059c3a"/>
<circle cx="1451.2" cy="1290.1" r="5.8" fill="#cf0a86"/>
<circle cx="1586.5" cy="1304.0" r="5.8" fill="#059c3a"/>
<circle cx="1558.2" cy="1300.3" r="5.8" fill="#059c3a"/>
<circle cx="1499.6" cy="1322.8" r="5.8" fill="#0c5bbf"/>
<circle cx="1582.1" cy="1303.3" r="5.8" fill="#059c3a"/>
<circle cx="1550.6" cy="1295.3" r="5.8" fill="#0c5bbf"/>
<circle cx="1510.4" cy="1319.2" r="5.8" fill="#0c5bbf"/>
<circle cx="1420.2" cy="1313.6" r="5.8" fill="#cf0a86"/>
<circle cx="1451.2" cy="1305.0" r="5.8" fill="#cf0a86"/>
<circle cx="1427.0" cy="1314.3" r="5.8" fill="#cf0a86"/>
<circle cx="1504.4" cy="1330.0" r="5.8" fill="#0c5bbf"/>
<circle cx="1427.0" cy="1289.6" r="5.8" fill="#cf0a86"/>
<circle cx="1579.8" cy="1302.6" r="5.8" fill="#059c3a"/>
<circle cx="1519.3" cy="1311.0" r="5.8" fill="#0c5bbf"/>
<circle cx="1418.5" cy="1257.0" r="5.8" fill="#cf0a86"/>
<circle cx="1537.8" cy="1291.3" r="5.8" fill="#059c3a"/>
<circle cx="1560.0" cy="1327.3" r="5.8" fill="#0c5bbf"/>
<circle cx="1617.2" cy="1299.6" r="5.8" fill="#059c3a"/>
<circle cx="1588.0" cy="1290.4" r="5.8" fill="#059c3a"/>
<circle cx="1606.4" cy="1293.1" r="5.8" fill="#059c3a"/>
<circle cx="1413.7" cy="1308.3" r="5.8" fill="#cf0a86"/>
<circle cx="1491.2" cy="1301.0" r="5.8" fill="#0c5bbf"/>
<circle cx="1575.2" cy="1300.8" r="5.8" fill="#059c3a"/>
<circle cx="1616.9" cy="1304.6" r="5.8" fill="#059c3a"/>
<circle cx="1422.2" cy="1299.8" r="5.8" fill="#cf0a86"/>
<circle cx="1521.9" cy="1302.9" r="5.8" fill="#0c5bbf"/>
<circle cx="1403.3" cy="1275.1" r="5.8" fill="#cf0a86"/>
<circle cx="1432.7" cy="1305.7" r="5.8" fill="#cf0a86"/>
<circle cx="1570.5" cy="1301.6" r="5.8" fill="#059c3a"/>
<circle cx="1417.2" cy="1302.0" r="5.8" fill="#cf0a86"/>
<circle cx="1534.4" cy="1324.6" r="5.8" fill="#0c5bbf"/>
<circle cx="1587.9" cy="1320.4" r="5.8" fill="#0c5bbf"/>
<circle cx="1563.7" cy="1280.4" r="5.8" fill="#059c3a"/>
<circle cx="1513.0" cy="1293.2" r="5.8" fill="#0c5bbf"/>
<circle cx="1596.0" cy="1317.4" r="5.8" fill="#059c3a"/>
<circle cx="1463.3" cy="1308.3" r="5.8" fill="#cf0a86"/>
<circle cx="1431.8" cy="1285.3" r="5.8" fill="#cf0a86"/>
<circle cx="1412.5" cy="1270.8" r="5.8" fill="#cf0a86"/>
<circle cx="1574.6" cy="1309.8" r="5.8" fill="#059c3a"/>
<circle cx="1436.6" cy="1317.3" r="5.8" fill="#cf0a86"/>
<circle cx="1421.7" cy="1297.0" r="5.8" fill="#cf0a86"/>
<circle cx="1548.5" cy="1311.2" r="5.8" fill="#059c3a"/>
<circle cx="1572.1" cy="1285.3" r="5.8" fill="#059c3a"/>
<circle cx="1499.6" cy="1337.3" r="5.8" fill="#0c5bbf"/>
<circle cx="1424.6" cy="1276.8" r="5.8" fill="#cf0a86"/>
<circle cx="1440.4" cy="1320.3" r="5.8" fill="#cf0a86"/>
<circle cx="1575.5" cy="1310.0" r="5.8" fill="#0c5bbf"/>
<circle cx="1442.9" cy="1308.1" r="5.8" fill="#cf0a86"/>
<circle cx="1506.3" cy="1322.5" r="5.8" fill="#0c5bbf"/>
<circle cx="1447.7" cy="1301.6" r="5.8" fill="#cf0a86"/>
<circle cx="1436.8" cy="1290.2" r="5.8" fill="#cf0a86"/>
<circle cx="1578.9" cy="1285.1" r="5.8" fill="#059c3a"/>
<circle cx="1431.8" cy="1297.2" r="5.8" fill="#cf0a86"/>
<circle cx="1521.9" cy="1304.6" r="5.8" fill="#0c5bbf"/>
<circle cx="1503.2" cy="1322.8" r="5.8" fill="#059c3a"/>
<circle cx="1434.7" cy="1368.3" r="5.8" fill="#cf0a86"/>
<circle cx="1424.8" cy="1283.5" r="5.8" fill="#cf0a86"/>
<circle cx="1547.1" cy="1292.0" r="5.8" fill="#0c5bbf"/>
<circle cx="1582.2" cy="1299.8" r="5.8" fill="#059c3a"/>
<circle cx="1489.4" cy="1351.8" r="5.8" fill="#0c5bbf"/>
<circle cx="1583.9" cy="1307.7" r="5.8" fill="#059c3a"/>
<circle cx="1586.3" cy="1294.6" r="5.8" fill="#059c3a"/>
<circle cx="1582.4" cy="1301.5" r="5.8" fill="#059c3a"/>
<circle cx="1535.8" cy="1281.7" r="5.8" fill="#059c3a"/>
<circle cx="1395.1" cy="1295.0" r="5.8" fill="#cf0a86"/>
<circle cx="1488.6" cy="1310.9" r="5.8" fill="#0c5bbf"/>
<circle cx="1570.9" cy="1292.5" r="5.8" fill="#059c3a"/>
<circle cx="1557.6" cy="1311.9" r="5.8" fill="#059c3a"/>
<circle cx="1536.0" cy="1314.7" r="5.8" fill="#059c3a"/>
<circle cx="1452.8" cy="1300.7" r="5.8" fill="#cf0a86"/>
<circle cx="1428.2" cy="1299.8" r="5.8" fill="#cf0a86"/>
<circle cx="1431.9" cy="1319.2" r="5.8" fill="#cf0a86"/>
<circle cx="1601.2" cy="1280.4" r="5.8" fill="#0c5bbf"/>
<circle cx="1456.0" cy="1297.4" r="5.8" fill="#cf0a86"/>
<circle cx="1552.8" cy="1312.1" r="5.8" fill="#059c3a"/>
<circle cx="1436.9" cy="1303.8" r="5.8" fill="#cf0a86"/>
<circle cx="1427.6" cy="1310.6" r="5.8" fill="#cf0a86"/>
<circle cx="1581.9" cy="1312.4" r="5.8" fill="#059c3a"/>
<circle cx="1596.3" cy="1309.0" r="5.8" fill="#0c5bbf"/>
<circle cx="1548.5" cy="1307.3" r="5.8" fill="#0c5bbf"/>
<circle cx="1410.1" cy="1267.1" r="5.8" fill="#cf0a86"/>
<circle cx="1575.2" cy="1300.9" r="5.8" fill="#059c3a"/>
<circle cx="1437.9" cy="1327.6" r="5.8" fill="#cf0a86"/>
<circle cx="1554.0" cy="1336.1" r="5.8" fill="#0c5bbf"/>
<circle cx="1504.4" cy="1350.6" r="5.8" fill="#0c5bbf"/>
<circle cx="1535.8" cy="1295.0" r="5.8" fill="#059c3a"/>
<circle cx="1489.9" cy="1328.8" r="5.8" fill="#0c5bbf"/>
<circle cx="1527.5" cy="1303.4" r="5.8" fill="#059c3a"/>
<circle cx="1600.0" cy="1302.2" r="5.8" fill="#059c3a"/>
<circle cx="1563.0" cy="1325.8" r="5.8" fill="#0c5bbf"/>
<circle cx="1497.1" cy="1288.9" r="5.8" fill="#0c5bbf"/>
<circle cx="1565.1" cy="1315.9" r="5.8" fill="#059c3a"/>
<circle cx="1514.1" cy="1344.1" r="5.8" fill="#0c5bbf"/>
<circle cx="1590.8" cy="1306.6" r="5.8" fill="#059c3a"/>
<circle cx="1439.2" cy="1308.9" r="5.8" fill="#cf0a86"/>
<circle cx="1438.9" cy="1300.7" r="5.8" fill="#cf0a86"/>
<circle cx="1564.5" cy="1293.2" r="5.8" fill="#059c3a"/>
<circle cx="1431.0" cy="1290.4" r="5.8" fill="#cf0a86"/>
<circle cx="1500.8" cy="1298.6" r="5.8" fill="#0c5bbf"/>
<circle cx="1543.1" cy="1302.2" r="5.8" fill="#0c5bbf"/>
<circle cx="1435.9" cy="1310.8" r="5.8" fill="#cf0a86"/>
<circle cx="1495.9" cy="1316.7" r="5.8" fill="#0c5bbf"/>
<circle cx="1443.9" cy="1284.1" r="5.8" fill="#cf0a86"/>
<circle cx="1584.2" cy="1309.5" r="5.8" fill="#0c5bbf"/>
<circle cx="1416.1" cy="1287.7" r="5.8" fill="#cf0a86"/>
<circle cx="1543.1" cy="1285.3" r="5.8" fill="#0c5bbf"/>
<circle cx="1608.3" cy="1309.2" r="5.8" fill="#059c3a"/>
<circle cx="1420.5" cy="1306.9" r="5.8" fill="#cf0a86"/>
<circle cx="1415.0" cy="1289.3" r="5.8" fill="#cf0a86"/>
<circle cx="1538.8" cy="1310.4" r="5.8" fill="#0c5bbf"/>
<circle cx="1566.2" cy="1294.6" r="5.8" fill="#059c3a"/>
<circle cx="1515.6" cy="1301.8" r="5.8" fill="#059c3a"/>
<circle cx="1557.8" cy="1286.5" r="5.8" fill="#059c3a"/>
<circle cx="1555.7" cy="1299.4" r="5.8" fill="#059c3a"/>
<circle cx="1460.9" cy="1303.4" r="5.8" fill="#cf0a86"/>
<circle cx="1413.7" cy="1278.0" r="5.8" fill="#cf0a86"/>
<circle cx="1689.0" cy="1283.8" r="5.8" fill="#059c3a"/>
<circle cx="1400.4" cy="1296.9" r="5.8" fill="#cf0a86"/>
<circle cx="1429.5" cy="1282.9" r="5.8" fill="#cf0a86"/>
<circle cx="1610.8" cy="1279.2" r="5.8" fill="#0c5bbf"/>
<circle cx="1496.1" cy="1318.3" r="5.8" fill="#0c5bbf"/>
<circle cx="1405.3" cy="1292.1" r="5.8" fill="#cf0a86"/>
<circle cx="1419.6" cy="1288.9" r="5.8" fill="#cf0a86"/>
<circle cx="1554.9" cy="1297.3" r="5.8" fill="#059c3a"/>
<circle cx="1490.4" cy="1291.3" r="5.8" fill="#0c5bbf"/>
<circle cx="1548.1" cy="1320.2" r="5.8" fill="#0c5bbf"/>
<circle cx="1417.7" cy="1305.5" r="5.8" fill="#cf0a86"/>
<circle cx="1555.2" cy="1299.8" r="5.8" fill="#0c5bbf"/>
<circle cx="1431.7" cy="1279.5" r="5.8" fill="#cf0a86"/>
<circle cx="1543.3" cy="1308.0" r="5.8" fill="#059c3a"/>
<circle cx="1544.3" cy="1327.9" r="5.8" fill="#0c5bbf"/>
<circle cx="1630.2" cy="1308.3" r="5.8" fill="#059c3a"/>
<circle cx="1580.6" cy="1316.7" r="5.8" fill="#059c3a"/>
<circle cx="1645.4" cy="1296.2" r="5.8" fill="#059c3a"/>
<circle cx="1438.0" cy="1293.3" r="5.8" fill="#cf0a86"/>
<circle cx="1559.3" cy="1296.7" r="5.8" fill="#0c5bbf"/>
<circle cx="1604.5" cy="1290.3" r="5.8" fill="#059c3a"/>
<circle cx="1600.0" cy="1322.8" r="5.8" fill="#059c3a"/>
<circle cx="1580.7" cy="1314.1" r="5.8" fill="#059c3a"/>
<circle cx="1569.7" cy="1279.2" r="5.8" fill="#0c5bbf"/>
<circle cx="1524.1" cy="1306.4" r="5.8" fill="#0c5bbf"/>
<circle cx="1513.7" cy="1291.4" r="5.8" fill="#0c5bbf"/>
<circle cx="1433.0" cy="1304.6" r="5.8" fill="#cf0a86"/>
<circle cx="1601.9" cy="1284.1" r="5.8" fill="#059c3a"/>
<circle cx="1529.3" cy="1292.5" r="5.8" fill="#059c3a"/>
<circle cx="1527.8" cy="1292.6" r="5.8" fill="#059c3a"/>
<circle cx="1407.6" cy="1288.9" r="5.8" fill="#cf0a86"/>
<circle cx="1436.2" cy="1337.3" r="5.8" fill="#cf0a86"/>
<circle cx="1444.5" cy="1299.9" r="5.8" fill="#cf0a86"/>
<circle cx="1486.3" cy="1304.2" r="5.8" fill="#0c5bbf"/>
<circle cx="1548.4" cy="1304.5" r="5.8" fill="#059c3a"/>
<circle cx="1541.9" cy="1304.2" r="5.8" fill="#059c3a"/>
<circle cx="1563.1" cy="1313.8" r="5.8" fill="#059c3a"/>
<circle cx="1544.8" cy="1312.3" r="5.8" fill="#059c3a"/>
<circle cx="1549.6" cy="1263.3" r="5.8" fill="#059c3a"/>
<circle cx="1498.2" cy="1296.3" r="5.8" fill="#0c5bbf"/>
<circle cx="1543.4" cy="1323.0" r="5.8" fill="#0c5bbf"/>
<circle cx="1423.4" cy="1268.4" r="5.8" fill="#cf0a86"/>
<circle cx="1642.3" cy="1303.9" r="5.8" fill="#0c5bbf"/>
<circle cx="1665.3" cy="1291.3" r="5.8" fill="#059c3a"/>
<circle cx="1518.9" cy="1322.8" r="5.8" fill="#0c5bbf"/>
<circle cx="1540.2" cy="1329.7" r="5.8" fill="#0c5bbf"/>
<circle cx="1519.2" cy="1316.8" r="5.8" fill="#0c5bbf"/>
<circle cx="1446.3" cy="1293.5" r="5.8" fill="#cf0a86"/>
<circle cx="1533.4" cy="1325.2" r="5.8" fill="#0c5bbf"/>
<circle cx="1554.7" cy="1316.4" r="5.8" fill="#0c5bbf"/>
<circle cx="1449.0" cy="1288.8" r="5.8" fill="#cf0a86"/>
<circle cx="1546.5" cy="1297.8" r="5.8" fill="#059c3a"/>
<circle cx="1567.4" cy="1304.0" r="5.8" fill="#0c5bbf"/>
<circle cx="1591.2" cy="1310.1" r="5.8" fill="#059c3a"/>
<circle cx="1585.0" cy="1340.9" r="5.8" fill="#0c5bbf"/>
<circle cx="1602.0" cy="1292.9" r="5.8" fill="#059c3a"/>
<circle cx="1422.2" cy="1288.9" r="5.8" fill="#cf0a86"/>
<circle cx="1517.4" cy="1309.0" r="5.8" fill="#0c5bbf"/>
<circle cx="1560.8" cy="1285.3" r="5.8" fill="#059c3a"/>
<circle cx="1473.7" cy="1334.9" r="5.8" fill="#0c5bbf"/>
<circle cx="1564.0" cy="1302.4" r="5.8" fill="#059c3a"/>
<circle cx="1599.8" cy="1303.8" r="5.8" fill="#059c3a"/>
<circle cx="1493.5" cy="1305.8" r="5.8" fill="#0c5bbf"/>
<circle cx="1418.4" cy="1280.9" r="5.8" fill="#cf0a86"/>
<circle cx="1528.7" cy="1297.5" r="5.8" fill="#0c5bbf"/>
<circle cx="1551.4" cy="1313.9" r="5.8" fill="#0c5bbf"/>
<circle cx="1555.9" cy="1299.5" r="5.8" fill="#059c3a"/>
<circle cx="1561.2" cy="1305.8" r="5.8" fill="#059c3a"/>
<circle cx="1485.5" cy="1303.3" r="5.8" fill="#0c5bbf"/>
<circle cx="1516.4" cy="1319.1" r="5.8" fill="#0c5bbf"/>
<circle cx="1557.8" cy="1288.6" r="5.8" fill="#059c3a"/>
</g>
<rect x="1368.70" y="1127.00" width="421.30" height="340.40" fill="none" stroke="#2b2b2b" stroke-width="1.05"/>
<text x="1359.50" y="1401.12" font-size="14.70" font-weight="bold" fill="#000" text-anchor="end">-3</text>
<text x="1359.50" y="1316.37" font-size="14.70" font-weight="bold" fill="#000" text-anchor="end">0</text>
<text x="1359.50" y="1231.62" font-size="14.70" font-weight="bold" fill="#000" text-anchor="end">3</text>
<text x="1359.50" y="1146.87" font-size="14.70" font-weight="bold" fill="#000" text-anchor="end">6</text>
<path d="M1368.70 1395.95h-4.8M1368.70 1311.20h-4.8M1368.70 1226.45h-4.8M1368.70 1141.70h-4.8" stroke="#222" stroke-width="1.1" fill="none"/>
<rect x="1368.70" y="1478.30" width="421.30" height="339.70" fill="#fff"/>
<path d="M1462.03 1478.30V1818.00M1564.78 1478.30V1818.00M1667.53 1478.30V1818.00M1770.28 1478.30V1818.00M1368.70 1790.33H1790.00M1368.70 1705.58H1790.00M1368.70 1620.83H1790.00M1368.70 1536.08H1790.00" stroke="#000" stroke-opacity=".11" stroke-width=".9" fill="none"/>
<path d="M1410.65 1478.30V1818.00M1513.40 1478.30V1818.00M1616.15 1478.30V1818.00M1718.90 1478.30V1818.00M1368.70 1747.95H1790.00M1368.70 1663.20H1790.00M1368.70 1578.45H1790.00M1368.70 1493.70H1790.00" stroke="#000" stroke-opacity=".25" stroke-width="1" fill="none"/>
<g stroke="#141414" stroke-opacity=".88" stroke-width="1.4" fill-opacity=".7">
<circle cx="1500.8" cy="1660.0" r="5.8" fill="#0c5bbf"/>
<circle cx="1533.9" cy="1665.9" r="5.8" fill="#0c5bbf"/>
<circle cx="1543.5" cy="1692.9" r="5.8" fill="#0c5bbf"/>
<circle cx="1572.7" cy="1636.9" r="5.8" fill="#059c3a"/>
<circle cx="1424.0" cy="1681.4" r="5.8" fill="#cf0a86"/>
<circle cx="1435.9" cy="1653.2" r="5.8" fill="#cf0a86"/>
<circle cx="1409.3" cy="1712.5" r="5.8" fill="#cf0a86"/>
<circle cx="1558.3" cy="1687.4" r="5.8" fill="#0c5bbf"/>
<circle cx="1563.7" cy="1687.4" r="5.8" fill="#0c5bbf"/>
<circle cx="1549.2" cy="1688.6" r="5.8" fill="#0c5bbf"/>
<circle cx="1411.8" cy="1662.9" r="5.8" fill="#cf0a86"/>
<circle cx="1569.4" cy="1665.3" r="5.8" fill="#059c3a"/>
<circle cx="1525.0" cy="1706.7" r="5.8" fill="#0c5bbf"/>
<circle cx="1568.5" cy="1640.2" r="5.8" fill="#059c3a"/>
<circle cx="1551.4" cy="1667.1" r="5.8" fill="#0c5bbf"/>
<circle cx="1613.3" cy="1685.0" r="5.8" fill="#0c5bbf"/>
<circle cx="1548.5" cy="1713.0" r="5.8" fill="#0c5bbf"/>
<circle cx="1434.9" cy="1676.5" r="5.8" fill="#cf0a86"/>
<circle cx="1577.7" cy="1605.6" r="5.8" fill="#059c3a"/>
<circle cx="1588.7" cy="1658.2" r="5.8" fill="#059c3a"/>
<circle cx="1410.1" cy="1639.0" r="5.8" fill="#cf0a86"/>
<circle cx="1577.0" cy="1680.1" r="5.8" fill="#0c5bbf"/>
<circle cx="1566.5" cy="1666.6" r="5.8" fill="#059c3a"/>
<circle cx="1425.8" cy="1682.5" r="5.8" fill="#cf0a86"/>
<circle cx="1567.3" cy="1665.6" r="5.8" fill="#0c5bbf"/>
<circle cx="1514.1" cy="1692.2" r="5.8" fill="#0c5bbf"/>
<circle cx="1552.8" cy="1640.2" r="5.8" fill="#059c3a"/>
<circle cx="1537.7" cy="1681.7" r="5.8" fill="#0c5bbf"/>
<circle cx="1600.0" cy="1689.8" r="5.8" fill="#0c5bbf"/>
<circle cx="1456.7" cy="1673.6" r="5.8" fill="#059c3a"/>
<circle cx="1413.2" cy="1650.8" r="5.8" fill="#cf0a86"/>
<circle cx="1603.6" cy="1667.5" r="5.8" fill="#0c5bbf"/>
<circle cx="1389.7" cy="1623.5" r="5.8" fill="#cf0a86"/>
<circle cx="1435.1" cy="1659.0" r="5.8" fill="#cf0a86"/>
<circle cx="1571.4" cy="1654.0" r="5.8" fill="#059c3a"/>
<circle cx="1428.8" cy="1661.2" r="5.8" fill="#cf0a86"/>
<circle cx="1425.6" cy="1666.7" r="5.8" fill="#cf0a86"/>
<circle cx="1416.4" cy="1653.6" r="5.8" fill="#cf0a86"/>
<circle cx="1570.0" cy="1598.6" r="5.8" fill="#059c3a"/>
<circle cx="1417.3" cy="1664.4" r="5.8" fill="#cf0a86"/>
<circle cx="1408.9" cy="1665.6" r="5.8" fill="#cf0a86"/>
<circle cx="1514.1" cy="1658.4" r="5.8" fill="#0c5bbf"/>
<circle cx="1567.3" cy="1655.0" r="5.8" fill="#059c3a"/>
<circle cx="1594.6" cy="1649.9" r="5.8" fill="#059c3a"/>
<circle cx="1581.8" cy="1662.0" r="5.8" fill="#059c3a"/>
<circle cx="1560.6" cy="1663.8" r="5.8" fill="#059c3a"/>
<circle cx="1420.9" cy="1652.3" r="5.8" fill="#cf0a86"/>
<circle cx="1527.4" cy="1699.5" r="5.8" fill="#0c5bbf"/>
<circle cx="1388.1" cy="1651.1" r="5.8" fill="#cf0a86"/>
<circle cx="1596.3" cy="1683.8" r="5.8" fill="#0c5bbf"/>
<circle cx="1566.1" cy="1651.1" r="5.8" fill="#059c3a"/>
<circle cx="1587.1" cy="1596.7" r="5.8" fill="#059c3a"/>
<circle cx="1566.3" cy="1641.6" r="5.8" fill="#059c3a"/>
<circle cx="1532.2" cy="1687.4" r="5.8" fill="#0c5bbf"/>
<circle cx="1410.1" cy="1653.1" r="5.8" fill="#cf0a86"/>
<circle cx="1564.2" cy="1662.8" r="5.8" fill="#059c3a"/>
<circle cx="1584.2" cy="1655.9" r="5.8" fill="#059c3a"/>
<circle cx="1595.4" cy="1660.3" r="5.8" fill="#059c3a"/>
<circle cx="1555.2" cy="1668.0" r="5.8" fill="#059c3a"/>
<circle cx="1459.2" cy="1710.8" r="5.8" fill="#0c5bbf"/>
<circle cx="1626.6" cy="1641.4" r="5.8" fill="#059c3a"/>
<circle cx="1575.4" cy="1651.6" r="5.8" fill="#059c3a"/>
<circle cx="1579.4" cy="1635.4" r="5.8" fill="#059c3a"/>
<circle cx="1550.4" cy="1625.9" r="5.8" fill="#059c3a"/>
<circle cx="1403.9" cy="1659.4" r="5.8" fill="#cf0a86"/>
<circle cx="1549.7" cy="1648.6" r="5.8" fill="#059c3a"/>
<circle cx="1498.4" cy="1659.1" r="5.8" fill="#0c5bbf"/>
<circle cx="1553.5" cy="1721.2" r="5.8" fill="#0c5bbf"/>
<circle cx="1586.9" cy="1651.7" r="5.8" fill="#059c3a"/>
<circle cx="1513.8" cy="1700.1" r="5.8" fill="#0c5bbf"/>
<circle cx="1594.6" cy="1711.6" r="5.8" fill="#0c5bbf"/>
<circle cx="1389.5" cy="1647.5" r="5.8" fill="#cf0a86"/>
<circle cx="1532.2" cy="1658.4" r="5.8" fill="#0c5bbf"/>
<circle cx="1519.9" cy="1700.6" r="5.8" fill="#0c5bbf"/>
<circle cx="1607.2" cy="1660.3" r="5.8" fill="#059c3a"/>
<circle cx="1421.2" cy="1660.6" r="5.8" fill="#cf0a86"/>
<circle cx="1566.1" cy="1675.3" r="5.8" fill="#0c5bbf"/>
<circle cx="1422.0" cy="1681.3" r="5.8" fill="#cf0a86"/>
<circle cx="1433.0" cy="1680.1" r="5.8" fill="#cf0a86"/>
<circle cx="1585.4" cy="1687.4" r="5.8" fill="#0c5bbf"/>
<circle cx="1420.4" cy="1662.3" r="5.8" fill="#cf0a86"/>
<circle cx="1550.4" cy="1731.6" r="5.8" fill="#0c5bbf"/>
<circle cx="1422.2" cy="1643.8" r="5.8" fill="#cf0a86"/>
<circle cx="1550.4" cy="1711.6" r="5.8" fill="#0c5bbf"/>
<circle cx="1528.1" cy="1699.2" r="5.8" fill="#0c5bbf"/>
<circle cx="1428.2" cy="1674.1" r="5.8" fill="#cf0a86"/>
<circle cx="1516.1" cy="1697.5" r="5.8" fill="#0c5bbf"/>
<circle cx="1553.0" cy="1644.0" r="5.8" fill="#059c3a"/>
<circle cx="1633.1" cy="1674.8" r="5.8" fill="#059c3a"/>
<circle cx="1405.7" cy="1665.4" r="5.8" fill="#cf0a86"/>
<circle cx="1545.5" cy="1699.5" r="5.8" fill="#0c5bbf"/>
<circle cx="1534.4" cy="1666.8" r="5.8" fill="#0c5bbf"/>
<circle cx="1541.9" cy="1645.1" r="5.8" fill="#059c3a"/>
<circle cx="1406.7" cy="1669.6" r="5.8" fill="#cf0a86"/>
<circle cx="1529.9" cy="1671.7" r="5.8" fill="#0c5bbf"/>
<circle cx="1570.4" cy="1694.6" r="5.8" fill="#0c5bbf"/>
<circle cx="1407.6" cy="1651.1" r="5.8" fill="#cf0a86"/>
<circle cx="1421.9" cy="1667.0" r="5.8" fill="#cf0a86"/>
<circle cx="1580.6" cy="1692.2" r="5.8" fill="#0c5bbf"/>
<circle cx="1559.0" cy="1659.6" r="5.8" fill="#059c3a"/>
<circle cx="1417.9" cy="1663.5" r="5.8" fill="#cf0a86"/>
<circle cx="1425.8" cy="1665.6" r="5.8" fill="#cf0a86"/>
<circle cx="1655.1" cy="1654.5" r="5.8" fill="#059c3a"/>
<circle cx="1558.5" cy="1680.5" r="5.8" fill="#0c5bbf"/>
<circle cx="1521.3" cy="1693.4" r="5.8" fill="#0c5bbf"/>
<circle cx="1437.3" cy="1662.8" r="5.8" fill="#cf0a86"/>
<circle cx="1629.0" cy="1642.6" r="5.8" fill="#059c3a"/>
<circle cx="1417.4" cy="1667.0" r="5.8" fill="#cf0a86"/>
<circle cx="1551.0" cy="1698.8" r="5.8" fill="#0c5bbf"/>
<circle cx="1543.1" cy="1723.7" r="5.8" fill="#0c5bbf"/>
<circle cx="1530.9" cy="1681.7" r="5.8" fill="#0c5bbf"/>
<circle cx="1591.5" cy="1670.4" r="5.8" fill="#059c3a"/>
<circle cx="1581.8" cy="1660.2" r="5.8" fill="#059c3a"/>
<circle cx="1573.5" cy="1658.4" r="5.8" fill="#059c3a"/>
<circle cx="1523.8" cy="1672.9" r="5.8" fill="#0c5bbf"/>
<circle cx="1562.0" cy="1635.7" r="5.8" fill="#059c3a"/>
<circle cx="1422.4" cy="1686.0" r="5.8" fill="#cf0a86"/>
<circle cx="1536.8" cy="1702.4" r="5.8" fill="#0c5bbf"/>
<circle cx="1398.0" cy="1664.4" r="5.8" fill="#cf0a86"/>
<circle cx="1526.5" cy="1668.0" r="5.8" fill="#0c5bbf"/>
<circle cx="1583.5" cy="1654.6" r="5.8" fill="#059c3a"/>
<circle cx="1578.9" cy="1626.9" r="5.8" fill="#059c3a"/>
<circle cx="1554.0" cy="1700.7" r="5.8" fill="#0c5bbf"/>
<circle cx="1539.5" cy="1728.0" r="5.8" fill="#0c5bbf"/>
<circle cx="1422.1" cy="1685.2" r="5.8" fill="#cf0a86"/>
<circle cx="1439.6" cy="1665.9" r="5.8" fill="#cf0a86"/>
<circle cx="1537.1" cy="1705.2" r="5.8" fill="#0c5bbf"/>
<circle cx="1520.1" cy="1687.7" r="5.8" fill="#0c5bbf"/>
<circle cx="1440.3" cy="1656.4" r="5.8" fill="#cf0a86"/>
<circle cx="1596.7" cy="1648.2" r="5.8" fill="#059c3a"/>
<circle cx="1515.5" cy="1673.5" r="5.8" fill="#0c5bbf"/>
<circle cx="1558.3" cy="1677.4" r="5.8" fill="#0c5bbf"/>
<circle cx="1409.6" cy="1652.9" r="5.8" fill="#cf0a86"/>
<circle cx="1540.7" cy="1689.8" r="5.8" fill="#0c5bbf"/>
<circle cx="1560.0" cy="1646.3" r="5.8" fill="#059c3a"/>
<circle cx="1624.1" cy="1624.5" r="5.8" fill="#059c3a"/>
<circle cx="1545.5" cy="1707.9" r="5.8" fill="#0c5bbf"/>
<circle cx="1425.3" cy="1647.9" r="5.8" fill="#cf0a86"/>
<circle cx="1419.7" cy="1681.3" r="5.8" fill="#cf0a86"/>
<circle cx="1597.5" cy="1686.9" r="5.8" fill="#0c5bbf"/>
<circle cx="1406.4" cy="1672.9" r="5.8" fill="#cf0a86"/>
<circle cx="1543.8" cy="1714.0" r="5.8" fill="#0c5bbf"/>
<circle cx="1433.1" cy="1680.7" r="5.8" fill="#cf0a86"/>
<circle cx="1597.8" cy="1648.5" r="5.8" fill="#059c3a"/>
<circle cx="1429.6" cy="1649.8" r="5.8" fill="#cf0a86"/>
<circle cx="1412.5" cy="1678.9" r="5.8" fill="#cf0a86"/>
<circle cx="1524.5" cy="1714.0" r="5.8" fill="#0c5bbf"/>
<circle cx="1574.6" cy="1686.2" r="5.8" fill="#0c5bbf"/>
<circle cx="1427.9" cy="1682.2" r="5.8" fill="#cf0a86"/>
<circle cx="1406.1" cy="1655.6" r="5.8" fill="#cf0a86"/>
<circle cx="1558.8" cy="1662.0" r="5.8" fill="#059c3a"/>
<circle cx="1580.6" cy="1647.5" r="5.8" fill="#059c3a"/>
<circle cx="1533.2" cy="1694.7" r="5.8" fill="#0c5bbf"/>
<circle cx="1529.8" cy="1674.1" r="5.8" fill="#0c5bbf"/>
<circle cx="1420.9" cy="1672.9" r="5.8" fill="#cf0a86"/>
<circle cx="1413.7" cy="1653.5" r="5.8" fill="#cf0a86"/>
<circle cx="1394.6" cy="1637.3" r="5.8" fill="#cf0a86"/>
<circle cx="1585.9" cy="1652.0" r="5.8" fill="#059c3a"/>
<circle cx="1506.8" cy="1704.3" r="5.8" fill="#0c5bbf"/>
<circle cx="1581.8" cy="1648.7" r="5.8" fill="#059c3a"/>
<circle cx="1556.0" cy="1687.1" r="5.8" fill="#0c5bbf"/>
<circle cx="1529.0" cy="1700.6" r="5.8" fill="#0c5bbf"/>
<circle cx="1679.8" cy="1639.5" r="5.8" fill="#059c3a"/>
<circle cx="1566.1" cy="1639.0" r="5.8" fill="#059c3a"/>
<circle cx="1536.4" cy="1686.8" r="5.8" fill="#0c5bbf"/>
<circle cx="1552.8" cy="1643.3" r="5.8" fill="#059c3a"/>
<circle cx="1538.3" cy="1678.9" r="5.8" fill="#0c5bbf"/>
<circle cx="1570.9" cy="1660.8" r="5.8" fill="#059c3a"/>
<circle cx="1530.7" cy="1692.7" r="5.8" fill="#0c5bbf"/>
<circle cx="1604.3" cy="1649.4" r="5.8" fill="#059c3a"/>
<circle cx="1405.2" cy="1680.1" r="5.8" fill="#cf0a86"/>
<circle cx="1595.9" cy="1640.6" r="5.8" fill="#059c3a"/>
<circle cx="1465.7" cy="1726.1" r="5.8" fill="#0c5bbf"/>
<circle cx="1563.2" cy="1627.6" r="5.8" fill="#059c3a"/>
<circle cx="1537.2" cy="1688.6" r="5.8" fill="#0c5bbf"/>
<circle cx="1541.0" cy="1684.6" r="5.8" fill="#0c5bbf"/>
<circle cx="1616.4" cy="1649.9" r="5.8" fill="#059c3a"/>
<circle cx="1516.5" cy="1675.3" r="5.8" fill="#0c5bbf"/>
<circle cx="1416.1" cy="1682.5" r="5.8" fill="#cf0a86"/>
<circle cx="1677.8" cy="1617.7" r="5.8" fill="#059c3a"/>
<circle cx="1409.5" cy="1667.7" r="5.8" fill="#cf0a86"/>
<circle cx="1510.4" cy="1680.1" r="5.8" fill="#0c5bbf"/>
<circle cx="1543.1" cy="1666.8" r="5.8" fill="#0c5bbf"/>
<circle cx="1451.2" cy="1672.1" r="5.8" fill="#cf0a86"/>
<circle cx="1552.8" cy="1655.9" r="5.8" fill="#059c3a"/>
<circle cx="1388.5" cy="1644.3" r="5.8" fill="#cf0a86"/>
<circle cx="1593.9" cy="1664.4" r="5.8" fill="#059c3a"/>
<circle cx="1439.1" cy="1655.5" r="5.8" fill="#cf0a86"/>
<circle cx="1435.5" cy="1651.1" r="5.8" fill="#cf0a86"/>
<circle cx="1598.0" cy="1653.4" r="5.8" fill="#059c3a"/>
<circle cx="1438.7" cy="1662.9" r="5.8" fill="#cf0a86"/>
<circle cx="1422.5" cy="1677.0" r="5.8" fill="#cf0a86"/>
<circle cx="1583.2" cy="1649.9" r="5.8" fill="#059c3a"/>
<circle cx="1423.9" cy="1667.2" r="5.8" fill="#cf0a86"/>
<circle cx="1624.1" cy="1653.0" r="5.8" fill="#059c3a"/>
<circle cx="1541.9" cy="1681.3" r="5.8" fill="#0c5bbf"/>
<circle cx="1429.4" cy="1655.9" r="5.8" fill="#cf0a86"/>
<circle cx="1576.6" cy="1654.8" r="5.8" fill="#059c3a"/>
<circle cx="1552.8" cy="1710.4" r="5.8" fill="#0c5bbf"/>
<circle cx="1427.7" cy="1683.8" r="5.8" fill="#cf0a86"/>
<circle cx="1406.4" cy="1657.1" r="5.8" fill="#cf0a86"/>
<circle cx="1540.7" cy="1631.7" r="5.8" fill="#059c3a"/>
<circle cx="1532.2" cy="1653.5" r="5.8" fill="#059c3a"/>
<circle cx="1579.2" cy="1640.1" r="5.8" fill="#059c3a"/>
<circle cx="1592.7" cy="1672.9" r="5.8" fill="#059c3a"/>
<circle cx="1424.0" cy="1666.4" r="5.8" fill="#cf0a86"/>
<circle cx="1420.9" cy="1663.6" r="5.8" fill="#cf0a86"/>
<circle cx="1420.2" cy="1666.2" r="5.8" fill="#cf0a86"/>
<circle cx="1567.4" cy="1660.3" r="5.8" fill="#059c3a"/>
<circle cx="1571.6" cy="1615.3" r="5.8" fill="#059c3a"/>
<circle cx="1434.3" cy="1668.0" r="5.8" fill="#cf0a86"/>
<circle cx="1387.1" cy="1671.7" r="5.8" fill="#cf0a86"/>
<circle cx="1593.9" cy="1634.6" r="5.8" fill="#059c3a"/>
<circle cx="1441.0" cy="1634.2" r="5.8" fill="#cf0a86"/>
<circle cx="1428.0" cy="1677.2" r="5.8" fill="#cf0a86"/>
<circle cx="1474.6" cy="1657.9" r="5.8" fill="#059c3a"/>
<circle cx="1504.4" cy="1663.2" r="5.8" fill="#0c5bbf"/>
<circle cx="1415.6" cy="1667.1" r="5.8" fill="#cf0a86"/>
<circle cx="1539.5" cy="1654.7" r="5.8" fill="#0c5bbf"/>
<circle cx="1577.9" cy="1635.5" r="5.8" fill="#059c3a"/>
<circle cx="1619.8" cy="1637.8" r="5.8" fill="#059c3a"/>
<circle cx="1566.7" cy="1634.7" r="5.8" fill="#059c3a"/>
<circle cx="1435.5" cy="1671.7" r="5.8" fill="#cf0a86"/>
<circle cx="1538.8" cy="1643.1" r="5.8" fill="#059c3a"/>
<circle cx="1537.3" cy="1677.9" r="5.8" fill="#0c5bbf"/>
<circle cx="1544.0" cy="1647.2" r="5.8" fill="#059c3a"/>
<circle cx="1547.9" cy="1676.5" r="5.8" fill="#0c5bbf"/>
<circle cx="1416.1" cy="1640.2" r="5.8" fill="#cf0a86"/>
<circle cx="1592.7" cy="1640.2" r="5.8" fill="#059c3a"/>
<circle cx="1548.5" cy="1659.9" r="5.8" fill="#059c3a"/>
<circle cx="1517.0" cy="1649.4" r="5.8" fill="#0c5bbf"/>
<circle cx="1523.8" cy="1659.6" r="5.8" fill="#0c5bbf"/>
<circle cx="1533.4" cy="1701.9" r="5.8" fill="#0c5bbf"/>
<circle cx="1563.7" cy="1638.7" r="5.8" fill="#059c3a"/>
<circle cx="1413.7" cy="1674.1" r="5.8" fill="#cf0a86"/>
<circle cx="1576.8" cy="1658.2" r="5.8" fill="#059c3a"/>
<circle cx="1521.4" cy="1669.5" r="5.8" fill="#0c5bbf"/>
</g>
<rect x="1368.70" y="1478.30" width="421.30" height="339.70" fill="none" stroke="#2b2b2b" stroke-width="1.05"/>
<text x="1359.50" y="1753.12" font-size="14.70" font-weight="bold" fill="#000" text-anchor="end">-3</text>
<text x="1359.50" y="1668.37" font-size="14.70" font-weight="bold" fill="#000" text-anchor="end">0</text>
<text x="1359.50" y="1583.62" font-size="14.70" font-weight="bold" fill="#000" text-anchor="end">3</text>
<text x="1359.50" y="1498.87" font-size="14.70" font-weight="bold" fill="#000" text-anchor="end">6</text>
<text x="1410.65" y="1839.50" font-size="14.70" font-weight="bold" fill="#000" text-anchor="middle">-5</text>
<text x="1513.40" y="1839.50" font-size="14.70" font-weight="bold" fill="#000" text-anchor="middle">0</text>
<text x="1616.15" y="1839.50" font-size="14.70" font-weight="bold" fill="#000" text-anchor="middle">5</text>
<text x="1718.90" y="1839.50" font-size="14.70" font-weight="bold" fill="#000" text-anchor="middle">10</text>
<path d="M1368.70 1747.95h-4.8M1368.70 1663.20h-4.8M1368.70 1578.45h-4.8M1368.70 1493.70h-4.8M1410.65 1818.00v4.8M1513.40 1818.00v4.8M1616.15 1818.00v4.8M1718.90 1818.00v4.8" stroke="#222" stroke-width="1.1" fill="none"/>
<rect x="1800.40" y="1127.00" width="420.40" height="340.40" fill="#fff"/>
<path d="M1893.72 1127.00V1467.40M1996.47 1127.00V1467.40M2099.22 1127.00V1467.40M2201.97 1127.00V1467.40M1800.40 1438.33H2220.80M1800.40 1353.58H2220.80M1800.40 1268.83H2220.80M1800.40 1184.08H2220.80" stroke="#000" stroke-opacity=".11" stroke-width=".9" fill="none"/>
<path d="M1842.35 1127.00V1467.40M1945.10 1127.00V1467.40M2047.85 1127.00V1467.40M2150.60 1127.00V1467.40M1800.40 1395.95H2220.80M1800.40 1311.20H2220.80M1800.40 1226.45H2220.80M1800.40 1141.70H2220.80" stroke="#000" stroke-opacity=".25" stroke-width="1" fill="none"/>
<g stroke="#141414" stroke-opacity=".88" stroke-width="1.4" fill-opacity=".7">
<circle cx="1852.0" cy="1310.9" r="5.8" fill="#cf0a86"/>
<circle cx="1981.7" cy="1299.7" r="5.8" fill="#059c3a"/>
<circle cx="1855.0" cy="1280.4" r="5.8" fill="#cf0a86"/>
<circle cx="2057.0" cy="1287.0" r="5.8" fill="#059c3a"/>
<circle cx="1881.3" cy="1306.9" r="5.8" fill="#cf0a86"/>
<circle cx="1870.3" cy="1323.2" r="5.8" fill="#cf0a86"/>
<circle cx="2063.5" cy="1304.6" r="5.8" fill="#0c5bbf"/>
<circle cx="2002.5" cy="1285.3" r="5.8" fill="#059c3a"/>
<circle cx="1966.3" cy="1316.7" r="5.8" fill="#0c5bbf"/>
<circle cx="1869.5" cy="1288.9" r="5.8" fill="#cf0a86"/>
<circle cx="1996.5" cy="1280.4" r="5.8" fill="#0c5bbf"/>
<circle cx="2021.9" cy="1311.9" r="5.8" fill="#059c3a"/>
<circle cx="1892.7" cy="1324.1" r="5.8" fill="#cf0a86"/>
<circle cx="1936.0" cy="1324.0" r="5.8" fill="#0c5bbf"/>
<circle cx="1982.3" cy="1314.3" r="5.8" fill="#0c5bbf"/>
<circle cx="2029.0" cy="1302.6" r="5.8" fill="#059c3a"/>
<circle cx="1929.5" cy="1310.7" r="5.8" fill="#0c5bbf"/>
<circle cx="1925.3" cy="1299.5" r="5.8" fill="#0c5bbf"/>
<circle cx="1964.4" cy="1306.7" r="5.8" fill="#0c5bbf"/>
<circle cx="1945.7" cy="1321.6" r="5.8" fill="#0c5bbf"/>
<circle cx="1846.5" cy="1317.2" r="5.8" fill="#cf0a86"/>
<circle cx="1995.0" cy="1300.3" r="5.8" fill="#059c3a"/>
<circle cx="1862.7" cy="1297.6" r="5.8" fill="#cf0a86"/>
<circle cx="1927.6" cy="1332.5" r="5.8" fill="#0c5bbf"/>
<circle cx="1968.5" cy="1304.7" r="5.8" fill="#0c5bbf"/>
<circle cx="1971.1" cy="1287.7" r="5.8" fill="#0c5bbf"/>
<circle cx="1973.8" cy="1324.6" r="5.8" fill="#0c5bbf"/>
<circle cx="1920.5" cy="1313.8" r="5.8" fill="#0c5bbf"/>
<circle cx="1880.4" cy="1328.8" r="5.8" fill="#cf0a86"/>
<circle cx="2013.1" cy="1291.5" r="5.8" fill="#059c3a"/>
<circle cx="1858.6" cy="1308.3" r="5.8" fill="#cf0a86"/>
<circle cx="1879.2" cy="1337.3" r="5.8" fill="#cf0a86"/>
<circle cx="1887.7" cy="1320.1" r="5.8" fill="#cf0a86"/>
<circle cx="1865.6" cy="1302.0" r="5.8" fill="#cf0a86"/>
<circle cx="1864.6" cy="1313.8" r="5.8" fill="#cf0a86"/>
<circle cx="2003.8" cy="1291.1" r="5.8" fill="#059c3a"/>
<circle cx="2022.5" cy="1314.5" r="5.8" fill="#059c3a"/>
<circle cx="2021.8" cy="1312.5" r="5.8" fill="#059c3a"/>
<circle cx="1928.9" cy="1301.3" r="5.8" fill="#0c5bbf"/>
<circle cx="1973.5" cy="1319.7" r="5.8" fill="#059c3a"/>
<circle cx="1956.1" cy="1333.7" r="5.8" fill="#0c5bbf"/>
<circle cx="1868.9" cy="1289.6" r="5.8" fill="#cf0a86"/>
<circle cx="1878.0" cy="1292.5" r="5.8" fill="#cf0a86"/>
<circle cx="1928.0" cy="1295.0" r="5.8" fill="#0c5bbf"/>
<circle cx="1888.9" cy="1327.6" r="5.8" fill="#cf0a86"/>
<circle cx="1865.9" cy="1391.7" r="5.8" fill="#cf0a86"/>
<circle cx="1967.5" cy="1303.4" r="5.8" fill="#059c3a"/>
<circle cx="1973.5" cy="1297.4" r="5.8" fill="#059c3a"/>
<circle cx="1844.6" cy="1298.6" r="5.8" fill="#cf0a86"/>
<circle cx="1871.9" cy="1316.7" r="5.8" fill="#cf0a86"/>
<circle cx="1974.7" cy="1343.3" r="5.8" fill="#0c5bbf"/>
<circle cx="1966.1" cy="1308.9" r="5.8" fill="#0c5bbf"/>
<circle cx="2098.1" cy="1307.8" r="5.8" fill="#059c3a"/>
<circle cx="1967.6" cy="1301.6" r="5.8" fill="#0c5bbf"/>
<circle cx="1962.4" cy="1317.7" r="5.8" fill="#0c5bbf"/>
<circle cx="1950.5" cy="1297.4" r="5.8" fill="#0c5bbf"/>
<circle cx="1876.8" cy="1351.8" r="5.8" fill="#cf0a86"/>
<circle cx="1855.0" cy="1316.7" r="5.8" fill="#cf0a86"/>
<circle cx="1995.3" cy="1303.4" r="5.8" fill="#059c3a"/>
<circle cx="1888.9" cy="1345.8" r="5.8" fill="#cf0a86"/>
<circle cx="1926.3" cy="1324.0" r="5.8" fill="#0c5bbf"/>
<circle cx="1984.0" cy="1293.5" r="5.8" fill="#059c3a"/>
<circle cx="1876.1" cy="1295.6" r="5.8" fill="#cf0a86"/>
<circle cx="1981.7" cy="1307.3" r="5.8" fill="#0c5bbf"/>
<circle cx="1946.1" cy="1323.4" r="5.8" fill="#0c5bbf"/>
<circle cx="1870.7" cy="1337.8" r="5.8" fill="#cf0a86"/>
<circle cx="1884.0" cy="1298.6" r="5.8" fill="#cf0a86"/>
<circle cx="1980.6" cy="1298.1" r="5.8" fill="#059c3a"/>
<circle cx="1958.8" cy="1312.3" r="5.8" fill="#059c3a"/>
<circle cx="2012.2" cy="1304.6" r="5.8" fill="#059c3a"/>
<circle cx="1863.2" cy="1326.2" r="5.8" fill="#cf0a86"/>
<circle cx="1861.8" cy="1276.3" r="5.8" fill="#cf0a86"/>
<circle cx="2034.0" cy="1321.6" r="5.8" fill="#059c3a"/>
<circle cx="1995.6" cy="1291.2" r="5.8" fill="#059c3a"/>
<circle cx="1965.5" cy="1342.1" r="5.8" fill="#0c5bbf"/>
<circle cx="1884.8" cy="1298.9" r="5.8" fill="#cf0a86"/>
<circle cx="1969.5" cy="1320.3" r="5.8" fill="#059c3a"/>
<circle cx="1987.4" cy="1312.2" r="5.8" fill="#059c3a"/>
<circle cx="2026.7" cy="1324.0" r="5.8" fill="#0c5bbf"/>
<circle cx="1871.9" cy="1325.2" r="5.8" fill="#cf0a86"/>
<circle cx="1884.2" cy="1305.3" r="5.8" fill="#cf0a86"/>
<circle cx="2012.4" cy="1296.1" r="5.8" fill="#059c3a"/>
<circle cx="1885.4" cy="1317.7" r="5.8" fill="#cf0a86"/>
<circle cx="2012.9" cy="1316.8" r="5.8" fill="#059c3a"/>
<circle cx="1988.0" cy="1334.9" r="5.8" fill="#059c3a"/>
<circle cx="1982.7" cy="1278.0" r="5.8" fill="#0c5bbf"/>
<circle cx="2004.2" cy="1295.4" r="5.8" fill="#059c3a"/>
<circle cx="1933.6" cy="1355.4" r="5.8" fill="#0c5bbf"/>
<circle cx="1973.5" cy="1310.7" r="5.8" fill="#059c3a"/>
<circle cx="1995.0" cy="1305.8" r="5.8" fill="#059c3a"/>
<circle cx="1930.3" cy="1312.3" r="5.8" fill="#0c5bbf"/>
<circle cx="1855.2" cy="1297.4" r="5.8" fill="#cf0a86"/>
<circle cx="1884.0" cy="1307.1" r="5.8" fill="#cf0a86"/>
<circle cx="1856.4" cy="1338.5" r="5.8" fill="#cf0a86"/>
<circle cx="1892.6" cy="1323.8" r="5.8" fill="#cf0a86"/>
<circle cx="1931.2" cy="1291.3" r="5.8" fill="#0c5bbf"/>
<circle cx="1979.4" cy="1323.3" r="5.8" fill="#0c5bbf"/>
<circle cx="2053.3" cy="1305.8" r="5.8" fill="#059c3a"/>
<circle cx="1894.2" cy="1310.0" r="5.8" fill="#cf0a86"/>
<circle cx="1954.2" cy="1311.9" r="5.8" fill="#0c5bbf"/>
<circle cx="1856.3" cy="1299.4" r="5.8" fill="#cf0a86"/>
<circle cx="1992.9" cy="1267.1" r="5.8" fill="#0c5bbf"/>
<circle cx="1915.9" cy="1297.4" r="5.8" fill="#0c5bbf"/>
<circle cx="1914.3" cy="1317.9" r="5.8" fill="#cf0a86"/>
<circle cx="2054.6" cy="1317.2" r="5.8" fill="#059c3a"/>
<circle cx="2026.3" cy="1359.6" r="5.8" fill="#059c3a"/>
<circle cx="2001.3" cy="1323.6" r="5.8" fill="#059c3a"/>
<circle cx="2020.7" cy="1295.8" r="5.8" fill="#059c3a"/>
<circle cx="1872.1" cy="1300.9" r="5.8" fill="#cf0a86"/>
<circle cx="1885.3" cy="1322.2" r="5.8" fill="#cf0a86"/>
<circle cx="1892.5" cy="1327.2" r="5.8" fill="#cf0a86"/>
<circle cx="1938.7" cy="1330.6" r="5.8" fill="#0c5bbf"/>
<circle cx="1919.6" cy="1311.7" r="5.8" fill="#0c5bbf"/>
<circle cx="2019.7" cy="1296.5" r="5.8" fill="#059c3a"/>
<circle cx="1875.5" cy="1309.5" r="5.8" fill="#cf0a86"/>
<circle cx="1968.6" cy="1316.3" r="5.8" fill="#059c3a"/>
<circle cx="1954.2" cy="1306.8" r="5.8" fill="#0c5bbf"/>
<circle cx="1847.2" cy="1277.5" r="5.8" fill="#cf0a86"/>
<circle cx="1961.4" cy="1293.8" r="5.8" fill="#059c3a"/>
<circle cx="1985.4" cy="1306.5" r="5.8" fill="#0c5bbf"/>
<circle cx="2000.1" cy="1327.6" r="5.8" fill="#059c3a"/>
<circle cx="1852.6" cy="1287.7" r="5.8" fill="#cf0a86"/>
<circle cx="1859.8" cy="1320.8" r="5.8" fill="#cf0a86"/>
<circle cx="1896.6" cy="1324.8" r="5.8" fill="#cf0a86"/>
<circle cx="1905.8" cy="1321.6" r="5.8" fill="#cf0a86"/>
<circle cx="1934.2" cy="1300.2" r="5.8" fill="#0c5bbf"/>
<circle cx="1869.5" cy="1350.6" r="5.8" fill="#cf0a86"/>
<circle cx="1868.8" cy="1310.3" r="5.8" fill="#cf0a86"/>
<circle cx="2013.4" cy="1289.5" r="5.8" fill="#059c3a"/>
<circle cx="1847.5" cy="1294.8" r="5.8" fill="#cf0a86"/>
<circle cx="1886.4" cy="1336.1" r="5.8" fill="#cf0a86"/>
<circle cx="1853.3" cy="1302.5" r="5.8" fill="#cf0a86"/>
<circle cx="1927.6" cy="1303.4" r="5.8" fill="#0c5bbf"/>
<circle cx="1936.2" cy="1329.3" r="5.8" fill="#0c5bbf"/>
<circle cx="2022.8" cy="1296.8" r="5.8" fill="#059c3a"/>
<circle cx="1892.5" cy="1328.3" r="5.8" fill="#0c5bbf"/>
<circle cx="1968.0" cy="1318.8" r="5.8" fill="#059c3a"/>
<circle cx="2036.4" cy="1282.9" r="5.8" fill="#059c3a"/>
<circle cx="1853.2" cy="1304.7" r="5.8" fill="#cf0a86"/>
<circle cx="2008.3" cy="1299.2" r="5.8" fill="#059c3a"/>
<circle cx="2002.2" cy="1287.9" r="5.8" fill="#059c3a"/>
<circle cx="1843.4" cy="1297.4" r="5.8" fill="#cf0a86"/>
<circle cx="1922.5" cy="1313.3" r="5.8" fill="#0c5bbf"/>
<circle cx="1975.2" cy="1299.6" r="5.8" fill="#059c3a"/>
<circle cx="2008.6" cy="1324.0" r="5.8" fill="#0c5bbf"/>
<circle cx="1958.3" cy="1276.3" r="5.8" fill="#0c5bbf"/>
<circle cx="2015.8" cy="1303.1" r="5.8" fill="#059c3a"/>
<circle cx="1960.1" cy="1329.9" r="5.8" fill="#0c5bbf"/>
<circle cx="1987.7" cy="1310.9" r="5.8" fill="#059c3a"/>
<circle cx="1952.0" cy="1317.2" r="5.8" fill="#0c5bbf"/>
<circle cx="1857.4" cy="1295.0" r="5.8" fill="#cf0a86"/>
<circle cx="1977.8" cy="1302.0" r="5.8" fill="#0c5bbf"/>
<circle cx="2015.8" cy="1281.2" r="5.8" fill="#0c5bbf"/>
<circle cx="1945.1" cy="1321.4" r="5.8" fill="#0c5bbf"/>
<circle cx="1965.1" cy="1324.0" r="5.8" fill="#0c5bbf"/>
<circle cx="1979.9" cy="1317.7" r="5.8" fill="#059c3a"/>
<circle cx="1919.8" cy="1333.7" r="5.8" fill="#cf0a86"/>
<circle cx="1967.1" cy="1307.9" r="5.8" fill="#0c5bbf"/>
<circle cx="1898.0" cy="1284.1" r="5.8" fill="#cf0a86"/>
<circle cx="1877.2" cy="1313.3" r="5.8" fill="#cf0a86"/>
<circle cx="1955.3" cy="1309.1" r="5.8" fill="#0c5bbf"/>
<circle cx="1880.5" cy="1305.4" r="5.8" fill="#cf0a86"/>
<circle cx="1887.6" cy="1353.0" r="5.8" fill="#cf0a86"/>
<circle cx="1953.4" cy="1322.8" r="5.8" fill="#0c5bbf"/>
<circle cx="1896.4" cy="1303.5" r="5.8" fill="#cf0a86"/>
<circle cx="1877.7" cy="1375.3" r="5.8" fill="#cf0a86"/>
<circle cx="1978.5" cy="1321.0" r="5.8" fill="#0c5bbf"/>
<circle cx="1943.9" cy="1307.7" r="5.8" fill="#0c5bbf"/>
<circle cx="1999.6" cy="1313.9" r="5.8" fill="#0c5bbf"/>
<circle cx="2010.4" cy="1310.4" r="5.8" fill="#059c3a"/>
<circle cx="1891.1" cy="1303.7" r="5.8" fill="#cf0a86"/>
<circle cx="1980.8" cy="1305.8" r="5.8" fill="#059c3a"/>
<circle cx="1843.4" cy="1300.9" r="5.8" fill="#cf0a86"/>
<circle cx="1963.7" cy="1311.1" r="5.8" fill="#059c3a"/>
<circle cx="1902.2" cy="1314.3" r="5.8" fill="#cf0a86"/>
<circle cx="1940.9" cy="1311.9" r="5.8" fill="#0c5bbf"/>
<circle cx="2054.6" cy="1319.2" r="5.8" fill="#0c5bbf"/>
<circle cx="1861.0" cy="1285.3" r="5.8" fill="#cf0a86"/>
<circle cx="1888.1" cy="1308.9" r="5.8" fill="#cf0a86"/>
<circle cx="1975.8" cy="1298.6" r="5.8" fill="#059c3a"/>
<circle cx="2014.7" cy="1292.1" r="5.8" fill="#059c3a"/>
<circle cx="1965.1" cy="1348.9" r="5.8" fill="#0c5bbf"/>
<circle cx="1953.8" cy="1332.0" r="5.8" fill="#0c5bbf"/>
<circle cx="1848.9" cy="1297.4" r="5.8" fill="#cf0a86"/>
<circle cx="1968.7" cy="1299.4" r="5.8" fill="#0c5bbf"/>
<circle cx="2016.9" cy="1298.9" r="5.8" fill="#059c3a"/>
<circle cx="1939.7" cy="1298.6" r="5.8" fill="#0c5bbf"/>
<circle cx="1939.4" cy="1310.7" r="5.8" fill="#0c5bbf"/>
<circle cx="2025.8" cy="1302.6" r="5.8" fill="#059c3a"/>
<circle cx="1998.9" cy="1304.6" r="5.8" fill="#0c5bbf"/>
<circle cx="1837.3" cy="1273.9" r="5.8" fill="#cf0a86"/>
<circle cx="1957.7" cy="1306.7" r="5.8" fill="#059c3a"/>
<circle cx="2018.2" cy="1316.4" r="5.8" fill="#059c3a"/>
<circle cx="1890.7" cy="1293.9" r="5.8" fill="#cf0a86"/>
<circle cx="1874.3" cy="1299.8" r="5.8" fill="#cf0a86"/>
<circle cx="1961.2" cy="1311.3" r="5.8" fill="#0c5bbf"/>
<circle cx="1988.0" cy="1294.7" r="5.8" fill="#059c3a"/>
<circle cx="1878.7" cy="1279.2" r="5.8" fill="#cf0a86"/>
<circle cx="1953.3" cy="1305.8" r="5.8" fill="#0c5bbf"/>
<circle cx="1892.5" cy="1296.2" r="5.8" fill="#cf0a86"/>
<circle cx="1968.7" cy="1330.0" r="5.8" fill="#0c5bbf"/>
<circle cx="2021.5" cy="1302.7" r="5.8" fill="#059c3a"/>
<circle cx="1979.6" cy="1332.5" r="5.8" fill="#059c3a"/>
<circle cx="2020.5" cy="1302.4" r="5.8" fill="#059c3a"/>
<circle cx="2034.0" cy="1309.5" r="5.8" fill="#059c3a"/>
<circle cx="2010.9" cy="1291.0" r="5.8" fill="#059c3a"/>
<circle cx="1963.5" cy="1310.7" r="5.8" fill="#0c5bbf"/>
<circle cx="1989.2" cy="1350.6" r="5.8" fill="#0c5bbf"/>
<circle cx="2005.0" cy="1293.8" r="5.8" fill="#059c3a"/>
<circle cx="1990.4" cy="1326.4" r="5.8" fill="#0c5bbf"/>
<circle cx="1937.4" cy="1304.3" r="5.8" fill="#0c5bbf"/>
<circle cx="1954.9" cy="1355.4" r="5.8" fill="#0c5bbf"/>
<circle cx="2028.4" cy="1299.7" r="5.8" fill="#059c3a"/>
<circle cx="1865.9" cy="1297.4" r="5.8" fill="#cf0a86"/>
<circle cx="1899.3" cy="1320.2" r="5.8" fill="#cf0a86"/>
<circle cx="1969.6" cy="1315.3" r="5.8" fill="#0c5bbf"/>
<circle cx="1959.8" cy="1327.7" r="5.8" fill="#0c5bbf"/>
<circle cx="1953.4" cy="1267.1" r="5.8" fill="#0c5bbf"/>
<circle cx="1849.9" cy="1306.9" r="5.8" fill="#cf0a86"/>
<circle cx="1892.8" cy="1323.9" r="5.8" fill="#cf0a86"/>
<circle cx="2012.7" cy="1322.5" r="5.8" fill="#059c3a"/>
<circle cx="1996.4" cy="1301.8" r="5.8" fill="#0c5bbf"/>
<circle cx="2002.4" cy="1313.7" r="5.8" fill="#059c3a"/>
<circle cx="1953.7" cy="1232.6" r="5.8" fill="#0c5bbf"/>
<circle cx="1886.8" cy="1302.9" r="5.8" fill="#cf0a86"/>
<circle cx="2030.8" cy="1300.6" r="5.8" fill="#059c3a"/>
<circle cx="1885.2" cy="1317.5" r="5.8" fill="#cf0a86"/>
<circle cx="1844.8" cy="1285.3" r="5.8" fill="#cf0a86"/>
<circle cx="2038.8" cy="1299.8" r="5.8" fill="#059c3a"/>
<circle cx="2029.5" cy="1310.3" r="5.8" fill="#059c3a"/>
<circle cx="1955.4" cy="1320.4" r="5.8" fill="#0c5bbf"/>
<circle cx="2012.7" cy="1275.6" r="5.8" fill="#059c3a"/>
<circle cx="1873.1" cy="1311.9" r="5.8" fill="#cf0a86"/>
<circle cx="1877.4" cy="1313.6" r="5.8" fill="#cf0a86"/>
<circle cx="1869.1" cy="1308.3" r="5.8" fill="#cf0a86"/>
<circle cx="2028.7" cy="1311.9" r="5.8" fill="#059c3a"/>
<circle cx="1920.3" cy="1313.1" r="5.8" fill="#cf0a86"/>
<circle cx="1986.4" cy="1314.9" r="5.8" fill="#0c5bbf"/>
<circle cx="1866.6" cy="1314.0" r="5.8" fill="#cf0a86"/>
<circle cx="1956.6" cy="1315.9" r="5.8" fill="#0c5bbf"/>
<circle cx="1990.0" cy="1310.9" r="5.8" fill="#059c3a"/>
<circle cx="1985.5" cy="1321.4" r="5.8" fill="#0c5bbf"/>
<circle cx="1884.5" cy="1309.1" r="5.8" fill="#cf0a86"/>
<circle cx="1964.8" cy="1311.6" r="5.8" fill="#0c5bbf"/>
<circle cx="2012.2" cy="1298.6" r="5.8" fill="#059c3a"/>
<circle cx="1867.2" cy="1315.8" r="5.8" fill="#cf0a86"/>
<circle cx="2009.5" cy="1305.4" r="5.8" fill="#059c3a"/>
<circle cx="1847.2" cy="1354.7" r="5.8" fill="#cf0a86"/>
<circle cx="1949.3" cy="1284.1" r="5.8" fill="#0c5bbf"/>
<circle cx="2031.6" cy="1286.5" r="5.8" fill="#0c5bbf"/>
<circle cx="1951.8" cy="1305.8" r="5.8" fill="#0c5bbf"/>
<circle cx="2004.7" cy="1319.6" r="5.8" fill="#059c3a"/>
<circle cx="1868.0" cy="1288.4" r="5.8" fill="#cf0a86"/>
<circle cx="1913.8" cy="1342.1" r="5.8" fill="#0c5bbf"/>
<circle cx="1888.0" cy="1292.4" r="5.8" fill="#cf0a86"/>
<circle cx="1842.9" cy="1278.0" r="5.8" fill="#cf0a86"/>
<circle cx="1888.9" cy="1314.3" r="5.8" fill="#cf0a86"/>
<circle cx="1978.7" cy="1330.3" r="5.8" fill="#0c5bbf"/>
<circle cx="1880.4" cy="1317.9" r="5.8" fill="#cf0a86"/>
<circle cx="1883.9" cy="1293.0" r="5.8" fill="#cf0a86"/>
<circle cx="2045.4" cy="1282.4" r="5.8" fill="#0c5bbf"/>
<circle cx="1990.4" cy="1297.4" r="5.8" fill="#059c3a"/>
<circle cx="2001.6" cy="1300.4" r="5.8" fill="#059c3a"/>
<circle cx="1963.6" cy="1330.0" r="5.8" fill="#0c5bbf"/>
<circle cx="1949.3" cy="1302.2" r="5.8" fill="#059c3a"/>
<circle cx="2020.9" cy="1306.2" r="5.8" fill="#059c3a"/>
<circle cx="1874.2" cy="1294.0" r="5.8" fill="#cf0a86"/>
<circle cx="1870.1" cy="1291.8" r="5.8" fill="#cf0a86"/>
<circle cx="1949.8" cy="1310.1" r="5.8" fill="#0c5bbf"/>
<circle cx="1964.3" cy="1320.0" r="5.8" fill="#0c5bbf"/>
<circle cx="1886.3" cy="1298.0" r="5.8" fill="#cf0a86"/>
<circle cx="1879.2" cy="1317.5" r="5.8" fill="#cf0a86"/>
<circle cx="1994.8" cy="1323.2" r="5.8" fill="#059c3a"/>
<circle cx="1982.5" cy="1291.5" r="5.8" fill="#059c3a"/>
<circle cx="1992.4" cy="1268.4" r="5.8" fill="#059c3a"/>
<circle cx="2029.2" cy="1322.8" r="5.8" fill="#059c3a"/>
<circle cx="2014.6" cy="1310.7" r="5.8" fill="#059c3a"/>
<circle cx="1976.7" cy="1291.5" r="5.8" fill="#059c3a"/>
<circle cx="1887.6" cy="1361.5" r="5.8" fill="#cf0a86"/>
<circle cx="1894.4" cy="1310.3" r="5.8" fill="#cf0a86"/>
<circle cx="1893.7" cy="1337.3" r="5.8" fill="#cf0a86"/>
<circle cx="1964.3" cy="1303.7" r="5.8" fill="#059c3a"/>
<circle cx="1896.1" cy="1319.2" r="5.8" fill="#cf0a86"/>
<circle cx="1914.3" cy="1316.7" r="5.8" fill="#0c5bbf"/>
<circle cx="2088.4" cy="1311.4" r="5.8" fill="#0c5bbf"/>
<circle cx="1975.3" cy="1317.3" r="5.8" fill="#059c3a"/>
<circle cx="1851.4" cy="1306.6" r="5.8" fill="#cf0a86"/>
<circle cx="2020.2" cy="1348.2" r="5.8" fill="#0c5bbf"/>
<circle cx="1974.8" cy="1313.6" r="5.8" fill="#059c3a"/>
<circle cx="1898.5" cy="1303.4" r="5.8" fill="#cf0a86"/>
<circle cx="1881.6" cy="1280.0" r="5.8" fill="#cf0a86"/>
<circle cx="2012.5" cy="1291.2" r="5.8" fill="#059c3a"/>
<circle cx="2014.6" cy="1322.8" r="5.8" fill="#0c5bbf"/>
<circle cx="1984.4" cy="1282.9" r="5.8" fill="#059c3a"/>
<circle cx="1921.5" cy="1342.1" r="5.8" fill="#0c5bbf"/>
<circle cx="1936.3" cy="1311.4" r="5.8" fill="#0c5bbf"/>
<circle cx="1861.4" cy="1323.4" r="5.8" fill="#cf0a86"/>
<circle cx="1996.9" cy="1312.9" r="5.8" fill="#059c3a"/>
<circle cx="1990.0" cy="1304.5" r="5.8" fill="#059c3a"/>
<circle cx="1904.6" cy="1334.9" r="5.8" fill="#0c5bbf"/>
<circle cx="1863.5" cy="1326.4" r="5.8" fill="#cf0a86"/>
<circle cx="1866.5" cy="1300.5" r="5.8" fill="#cf0a86"/>
<circle cx="1957.2" cy="1308.1" r="5.8" fill="#0c5bbf"/>
<circle cx="1959.1" cy="1297.8" r="5.8" fill="#0c5bbf"/>
<circle cx="1961.5" cy="1331.8" r="5.8" fill="#0c5bbf"/>
<circle cx="1995.2" cy="1316.0" r="5.8" fill="#059c3a"/>
<circle cx="2044.9" cy="1304.6" r="5.8" fill="#059c3a"/>
<circle cx="1850.1" cy="1309.5" r="5.8" fill="#cf0a86"/>
<circle cx="1878.8" cy="1297.7" r="5.8" fill="#cf0a86"/>
<circle cx="1984.4" cy="1310.7" r="5.8" fill="#059c3a"/>
<circle cx="1878.3" cy="1307.1" r="5.8" fill="#cf0a86"/>
<circle cx="1924.4" cy="1305.9" r="5.8" fill="#0c5bbf"/>
<circle cx="1869.7" cy="1308.5" r="5.8" fill="#cf0a86"/>
<circle cx="1960.2" cy="1288.9" r="5.8" fill="#0c5bbf"/>
<circle cx="1906.5" cy="1359.1" r="5.8" fill="#cf0a86"/>
<circle cx="2045.6" cy="1317.9" r="5.8" fill="#0c5bbf"/>
<circle cx="1967.8" cy="1309.8" r="5.8" fill="#0c5bbf"/>
<circle cx="1879.8" cy="1303.0" r="5.8" fill="#cf0a86"/>
<circle cx="1897.9" cy="1308.1" r="5.8" fill="#cf0a86"/>
<circle cx="1861.4" cy="1298.1" r="5.8" fill="#cf0a86"/>
<circle cx="1902.2" cy="1322.7" r="5.8" fill="#cf0a86"/>
<circle cx="2093.3" cy="1294.5" r="5.8" fill="#0c5bbf"/>
<circle cx="1856.9" cy="1360.3" r="5.8" fill="#cf0a86"/>
<circle cx="1844.6" cy="1302.5" r="5.8" fill="#cf0a86"/>
<circle cx="1866.3" cy="1314.4" r="5.8" fill="#cf0a86"/>
<circle cx="1893.2" cy="1320.4" r="5.8" fill="#cf0a86"/>
<circle cx="2005.2" cy="1304.2" r="5.8" fill="#059c3a"/>
<circle cx="1922.7" cy="1282.9" r="5.8" fill="#0c5bbf"/>
<circle cx="1935.4" cy="1303.3" r="5.8" fill="#0c5bbf"/>
<circle cx="1925.1" cy="1370.0" r="5.8" fill="#0c5bbf"/>
<circle cx="2033.5" cy="1330.5" r="5.8" fill="#0c5bbf"/>
<circle cx="2057.7" cy="1345.0" r="5.8" fill="#059c3a"/>
<circle cx="2017.6" cy="1313.8" r="5.8" fill="#059c3a"/>
<circle cx="1861.9" cy="1296.6" r="5.8" fill="#cf0a86"/>
<circle cx="1911.8" cy="1351.3" r="5.8" fill="#0c5bbf"/>
<circle cx="2029.8" cy="1305.6" r="5.8" fill="#059c3a"/>
<circle cx="1893.7" cy="1310.7" r="5.8" fill="#cf0a86"/>
<circle cx="1906.0" cy="1377.7" r="5.8" fill="#0c5bbf"/>
<circle cx="1982.0" cy="1322.8" r="5.8" fill="#059c3a"/>
<circle cx="1964.8" cy="1315.9" r="5.8" fill="#0c5bbf"/>
<circle cx="1916.7" cy="1367.0" r="5.8" fill="#0c5bbf"/>
<circle cx="2005.0" cy="1314.3" r="5.8" fill="#059c3a"/>
<circle cx="1863.5" cy="1319.2" r="5.8" fill="#cf0a86"/>
<circle cx="1940.3" cy="1329.0" r="5.8" fill="#0c5bbf"/>
<circle cx="1934.8" cy="1285.3" r="5.8" fill="#0c5bbf"/>
<circle cx="2026.7" cy="1296.9" r="5.8" fill="#059c3a"/>
<circle cx="1880.0" cy="1294.6" r="5.8" fill="#cf0a86"/>
<circle cx="1966.8" cy="1323.6" r="5.8" fill="#0c5bbf"/>
<circle cx="1867.1" cy="1305.8" r="5.8" fill="#cf0a86"/>
<circle cx="1974.8" cy="1328.8" r="5.8" fill="#0c5bbf"/>
<circle cx="1951.2" cy="1314.6" r="5.8" fill="#0c5bbf"/>
<circle cx="1994.1" cy="1316.7" r="5.8" fill="#059c3a"/>
<circle cx="1854.0" cy="1302.8" r="5.8" fill="#cf0a86"/>
<circle cx="1937.2" cy="1330.0" r="5.8" fill="#0c5bbf"/>
<circle cx="1961.7" cy="1310.6" r="5.8" fill="#059c3a"/>
<circle cx="1857.9" cy="1315.0" r="5.8" fill="#cf0a86"/>
<circle cx="1959.6" cy="1330.0" r="5.8" fill="#0c5bbf"/>
<circle cx="1858.6" cy="1298.5" r="5.8" fill="#cf0a86"/>
<circle cx="1988.0" cy="1308.2" r="5.8" fill="#059c3a"/>
<circle cx="1966.6" cy="1294.3" r="5.8" fill="#059c3a"/>
<circle cx="1907.0" cy="1330.0" r="5.8" fill="#cf0a86"/>
<circle cx="2005.4" cy="1306.4" r="5.8" fill="#059c3a"/>
<circle cx="1871.3" cy="1304.6" r="5.8" fill="#cf0a86"/>
<circle cx="1969.6" cy="1319.7" r="5.8" fill="#0c5bbf"/>
<circle cx="1880.2" cy="1305.4" r="5.8" fill="#cf0a86"/>
<circle cx="1888.9" cy="1291.3" r="5.8" fill="#cf0a86"/>
<circle cx="1928.6" cy="1304.5" r="5.8" fill="#0c5bbf"/>
<circle cx="1942.8" cy="1345.8" r="5.8" fill="#0c5bbf"/>
<circle cx="1896.1" cy="1308.3" r="5.8" fill="#0c5bbf"/>
<circle cx="1979.5" cy="1307.9" r="5.8" fill="#059c3a"/>
<circle cx="1946.9" cy="1332.5" r="5.8" fill="#0c5bbf"/>
<circle cx="1974.7" cy="1291.7" r="5.8" fill="#059c3a"/>
<circle cx="1969.6" cy="1307.4" r="5.8" fill="#059c3a"/>
<circle cx="2000.1" cy="1321.6" r="5.8" fill="#059c3a"/>
<circle cx="1857.6" cy="1298.2" r="5.8" fill="#cf0a86"/>
</g>
<rect x="1800.40" y="1127.00" width="420.40" height="340.40" fill="none" stroke="#2b2b2b" stroke-width="1.05"/>
<rect x="1800.40" y="1478.30" width="420.40" height="339.70" fill="#fff"/>
<path d="M1893.72 1478.30V1818.00M1996.47 1478.30V1818.00M2099.22 1478.30V1818.00M2201.97 1478.30V1818.00M1800.40 1790.33H2220.80M1800.40 1705.58H2220.80M1800.40 1620.83H2220.80M1800.40 1536.08H2220.80" stroke="#000" stroke-opacity=".11" stroke-width=".9" fill="none"/>
<path d="M1842.35 1478.30V1818.00M1945.10 1478.30V1818.00M2047.85 1478.30V1818.00M2150.60 1478.30V1818.00M1800.40 1747.95H2220.80M1800.40 1663.20H2220.80M1800.40 1578.45H2220.80M1800.40 1493.70H2220.80" stroke="#000" stroke-opacity=".25" stroke-width="1" fill="none"/>
<g stroke="#141414" stroke-opacity=".88" stroke-width="1.4" fill-opacity=".7">
<circle cx="1863.4" cy="1646.0" r="5.8" fill="#cf0a86"/>
<circle cx="1982.6" cy="1656.9" r="5.8" fill="#059c3a"/>
<circle cx="1833.7" cy="1623.8" r="5.8" fill="#cf0a86"/>
<circle cx="1888.9" cy="1671.7" r="5.8" fill="#cf0a86"/>
<circle cx="1880.9" cy="1691.5" r="5.8" fill="#cf0a86"/>
<circle cx="1942.1" cy="1662.0" r="5.8" fill="#0c5bbf"/>
<circle cx="1980.8" cy="1726.8" r="5.8" fill="#0c5bbf"/>
<circle cx="1873.1" cy="1675.3" r="5.8" fill="#cf0a86"/>
<circle cx="1990.4" cy="1653.5" r="5.8" fill="#059c3a"/>
<circle cx="1919.8" cy="1690.3" r="5.8" fill="#0c5bbf"/>
<circle cx="2030.4" cy="1686.7" r="5.8" fill="#0c5bbf"/>
<circle cx="2052.1" cy="1681.3" r="5.8" fill="#0c5bbf"/>
<circle cx="1949.3" cy="1675.3" r="5.8" fill="#0c5bbf"/>
<circle cx="1840.0" cy="1631.7" r="5.8" fill="#cf0a86"/>
<circle cx="1991.5" cy="1658.5" r="5.8" fill="#059c3a"/>
<circle cx="1870.0" cy="1691.7" r="5.8" fill="#cf0a86"/>
<circle cx="2009.8" cy="1647.5" r="5.8" fill="#059c3a"/>
<circle cx="1986.4" cy="1685.8" r="5.8" fill="#0c5bbf"/>
<circle cx="1983.3" cy="1660.4" r="5.8" fill="#059c3a"/>
<circle cx="1984.4" cy="1677.7" r="5.8" fill="#0c5bbf"/>
<circle cx="1850.6" cy="1652.8" r="5.8" fill="#cf0a86"/>
<circle cx="1889.7" cy="1650.6" r="5.8" fill="#cf0a86"/>
<circle cx="1856.6" cy="1649.6" r="5.8" fill="#cf0a86"/>
<circle cx="1969.4" cy="1743.0" r="5.8" fill="#0c5bbf"/>
<circle cx="1884.0" cy="1655.9" r="5.8" fill="#cf0a86"/>
<circle cx="1978.3" cy="1684.6" r="5.8" fill="#0c5bbf"/>
<circle cx="1883.6" cy="1661.1" r="5.8" fill="#cf0a86"/>
<circle cx="1965.1" cy="1726.6" r="5.8" fill="#0c5bbf"/>
<circle cx="1937.2" cy="1652.3" r="5.8" fill="#059c3a"/>
<circle cx="1858.0" cy="1646.7" r="5.8" fill="#cf0a86"/>
<circle cx="1982.2" cy="1661.8" r="5.8" fill="#059c3a"/>
<circle cx="1830.8" cy="1612.2" r="5.8" fill="#cf0a86"/>
<circle cx="1976.0" cy="1661.0" r="5.8" fill="#059c3a"/>
<circle cx="1934.3" cy="1706.3" r="5.8" fill="#0c5bbf"/>
<circle cx="1969.9" cy="1637.1" r="5.8" fill="#059c3a"/>
<circle cx="1988.0" cy="1660.8" r="5.8" fill="#059c3a"/>
<circle cx="1994.6" cy="1667.0" r="5.8" fill="#059c3a"/>
<circle cx="1950.3" cy="1688.9" r="5.8" fill="#0c5bbf"/>
<circle cx="1998.9" cy="1681.3" r="5.8" fill="#0c5bbf"/>
<circle cx="1892.5" cy="1670.4" r="5.8" fill="#cf0a86"/>
<circle cx="1888.0" cy="1670.7" r="5.8" fill="#cf0a86"/>
<circle cx="1931.7" cy="1746.2" r="5.8" fill="#0c5bbf"/>
<circle cx="1991.5" cy="1649.3" r="5.8" fill="#059c3a"/>
<circle cx="1864.9" cy="1649.3" r="5.8" fill="#cf0a86"/>
<circle cx="1851.1" cy="1614.8" r="5.8" fill="#cf0a86"/>
<circle cx="1951.7" cy="1663.2" r="5.8" fill="#059c3a"/>
<circle cx="1875.8" cy="1667.9" r="5.8" fill="#cf0a86"/>
<circle cx="1870.7" cy="1669.2" r="5.8" fill="#cf0a86"/>
<circle cx="1937.2" cy="1683.8" r="5.8" fill="#0c5bbf"/>
<circle cx="2012.2" cy="1658.4" r="5.8" fill="#059c3a"/>
<circle cx="2018.3" cy="1663.9" r="5.8" fill="#0c5bbf"/>
<circle cx="1952.8" cy="1686.7" r="5.8" fill="#0c5bbf"/>
<circle cx="2012.2" cy="1711.6" r="5.8" fill="#0c5bbf"/>
<circle cx="2012.2" cy="1678.9" r="5.8" fill="#0c5bbf"/>
<circle cx="2006.0" cy="1658.0" r="5.8" fill="#059c3a"/>
<circle cx="2005.0" cy="1681.3" r="5.8" fill="#0c5bbf"/>
<circle cx="1893.2" cy="1699.0" r="5.8" fill="#cf0a86"/>
<circle cx="1896.1" cy="1658.4" r="5.8" fill="#cf0a86"/>
<circle cx="1892.5" cy="1663.2" r="5.8" fill="#cf0a86"/>
<circle cx="1977.6" cy="1619.7" r="5.8" fill="#059c3a"/>
<circle cx="1877.5" cy="1652.3" r="5.8" fill="#cf0a86"/>
<circle cx="1991.7" cy="1631.0" r="5.8" fill="#059c3a"/>
<circle cx="1858.8" cy="1662.6" r="5.8" fill="#cf0a86"/>
<circle cx="1975.3" cy="1655.9" r="5.8" fill="#059c3a"/>
<circle cx="1881.6" cy="1659.6" r="5.8" fill="#cf0a86"/>
<circle cx="1876.0" cy="1652.6" r="5.8" fill="#cf0a86"/>
<circle cx="1878.8" cy="1652.9" r="5.8" fill="#cf0a86"/>
<circle cx="1954.5" cy="1680.3" r="5.8" fill="#0c5bbf"/>
<circle cx="1948.1" cy="1701.9" r="5.8" fill="#0c5bbf"/>
<circle cx="1855.6" cy="1652.1" r="5.8" fill="#cf0a86"/>
<circle cx="1996.5" cy="1653.5" r="5.8" fill="#059c3a"/>
<circle cx="1950.5" cy="1703.1" r="5.8" fill="#0c5bbf"/>
<circle cx="1862.2" cy="1667.5" r="5.8" fill="#cf0a86"/>
<circle cx="1955.3" cy="1688.4" r="5.8" fill="#0c5bbf"/>
<circle cx="1879.9" cy="1714.5" r="5.8" fill="#cf0a86"/>
<circle cx="2011.0" cy="1674.1" r="5.8" fill="#0c5bbf"/>
<circle cx="1954.6" cy="1680.8" r="5.8" fill="#0c5bbf"/>
<circle cx="1977.7" cy="1658.1" r="5.8" fill="#059c3a"/>
<circle cx="1857.6" cy="1648.2" r="5.8" fill="#cf0a86"/>
<circle cx="1887.6" cy="1673.3" r="5.8" fill="#cf0a86"/>
<circle cx="1857.4" cy="1653.5" r="5.8" fill="#cf0a86"/>
<circle cx="1979.7" cy="1672.4" r="5.8" fill="#0c5bbf"/>
<circle cx="1997.7" cy="1660.8" r="5.8" fill="#059c3a"/>
<circle cx="1977.1" cy="1653.5" r="5.8" fill="#059c3a"/>
<circle cx="1848.9" cy="1657.1" r="5.8" fill="#cf0a86"/>
<circle cx="1987.9" cy="1675.5" r="5.8" fill="#0c5bbf"/>
<circle cx="1877.2" cy="1639.0" r="5.8" fill="#cf0a86"/>
<circle cx="1978.3" cy="1656.4" r="5.8" fill="#059c3a"/>
<circle cx="1946.9" cy="1648.7" r="5.8" fill="#059c3a"/>
<circle cx="1987.1" cy="1656.8" r="5.8" fill="#059c3a"/>
<circle cx="1945.7" cy="1647.5" r="5.8" fill="#0c5bbf"/>
<circle cx="1854.5" cy="1672.9" r="5.8" fill="#cf0a86"/>
<circle cx="2058.2" cy="1661.7" r="5.8" fill="#0c5bbf"/>
<circle cx="1973.0" cy="1645.7" r="5.8" fill="#059c3a"/>
<circle cx="1949.3" cy="1686.2" r="5.8" fill="#0c5bbf"/>
<circle cx="1956.6" cy="1677.7" r="5.8" fill="#0c5bbf"/>
<circle cx="1957.1" cy="1672.3" r="5.8" fill="#0c5bbf"/>
<circle cx="1945.7" cy="1670.4" r="5.8" fill="#0c5bbf"/>
<circle cx="1866.2" cy="1650.1" r="5.8" fill="#cf0a86"/>
<circle cx="1892.5" cy="1652.3" r="5.8" fill="#cf0a86"/>
<circle cx="1885.2" cy="1640.2" r="5.8" fill="#cf0a86"/>
<circle cx="1989.7" cy="1676.6" r="5.8" fill="#0c5bbf"/>
<circle cx="1988.8" cy="1656.4" r="5.8" fill="#059c3a"/>
<circle cx="1880.4" cy="1693.4" r="5.8" fill="#cf0a86"/>
<circle cx="1957.8" cy="1703.1" r="5.8" fill="#0c5bbf"/>
<circle cx="1983.6" cy="1654.0" r="5.8" fill="#059c3a"/>
<circle cx="1963.8" cy="1685.0" r="5.8" fill="#0c5bbf"/>
<circle cx="1979.6" cy="1710.4" r="5.8" fill="#0c5bbf"/>
<circle cx="1995.2" cy="1647.7" r="5.8" fill="#059c3a"/>
<circle cx="1962.3" cy="1647.8" r="5.8" fill="#059c3a"/>
<circle cx="1981.2" cy="1658.4" r="5.8" fill="#059c3a"/>
<circle cx="1863.3" cy="1656.6" r="5.8" fill="#cf0a86"/>
<circle cx="1914.3" cy="1664.9" r="5.8" fill="#0c5bbf"/>
<circle cx="1990.8" cy="1645.5" r="5.8" fill="#059c3a"/>
<circle cx="1852.6" cy="1640.2" r="5.8" fill="#cf0a86"/>
<circle cx="1879.2" cy="1649.9" r="5.8" fill="#cf0a86"/>
<circle cx="2008.6" cy="1655.9" r="5.8" fill="#059c3a"/>
<circle cx="1952.0" cy="1669.5" r="5.8" fill="#0c5bbf"/>
<circle cx="2048.0" cy="1661.3" r="5.8" fill="#0c5bbf"/>
<circle cx="1863.5" cy="1628.8" r="5.8" fill="#cf0a86"/>
<circle cx="2013.9" cy="1731.6" r="5.8" fill="#0c5bbf"/>
<circle cx="1982.8" cy="1643.7" r="5.8" fill="#059c3a"/>
<circle cx="1892.7" cy="1665.5" r="5.8" fill="#cf0a86"/>
<circle cx="2002.1" cy="1720.8" r="5.8" fill="#0c5bbf"/>
<circle cx="1898.0" cy="1642.1" r="5.8" fill="#cf0a86"/>
<circle cx="1974.7" cy="1651.4" r="5.8" fill="#059c3a"/>
<circle cx="1973.5" cy="1678.9" r="5.8" fill="#0c5bbf"/>
<circle cx="1863.5" cy="1660.8" r="5.8" fill="#cf0a86"/>
<circle cx="1850.1" cy="1647.5" r="5.8" fill="#cf0a86"/>
<circle cx="1871.7" cy="1647.4" r="5.8" fill="#cf0a86"/>
<circle cx="2037.6" cy="1686.2" r="5.8" fill="#0c5bbf"/>
<circle cx="1959.0" cy="1687.4" r="5.8" fill="#0c5bbf"/>
<circle cx="2023.6" cy="1679.6" r="5.8" fill="#0c5bbf"/>
<circle cx="1975.9" cy="1699.5" r="5.8" fill="#0c5bbf"/>
<circle cx="1986.1" cy="1672.9" r="5.8" fill="#059c3a"/>
<circle cx="1996.5" cy="1665.4" r="5.8" fill="#059c3a"/>
<circle cx="1973.5" cy="1669.1" r="5.8" fill="#0c5bbf"/>
<circle cx="1874.9" cy="1660.9" r="5.8" fill="#cf0a86"/>
<circle cx="1927.6" cy="1650.4" r="5.8" fill="#059c3a"/>
<circle cx="1879.0" cy="1655.7" r="5.8" fill="#cf0a86"/>
<circle cx="1969.9" cy="1704.3" r="5.8" fill="#0c5bbf"/>
<circle cx="1970.5" cy="1666.9" r="5.8" fill="#059c3a"/>
<circle cx="1978.4" cy="1670.4" r="5.8" fill="#0c5bbf"/>
<circle cx="1886.4" cy="1647.5" r="5.8" fill="#cf0a86"/>
<circle cx="1992.2" cy="1651.0" r="5.8" fill="#059c3a"/>
<circle cx="1844.1" cy="1653.0" r="5.8" fill="#cf0a86"/>
<circle cx="1886.9" cy="1652.0" r="5.8" fill="#cf0a86"/>
<circle cx="1942.8" cy="1723.7" r="5.8" fill="#0c5bbf"/>
<circle cx="2009.8" cy="1699.5" r="5.8" fill="#0c5bbf"/>
<circle cx="1934.8" cy="1683.0" r="5.8" fill="#0c5bbf"/>
<circle cx="1893.3" cy="1655.1" r="5.8" fill="#cf0a86"/>
<circle cx="1961.4" cy="1711.1" r="5.8" fill="#0c5bbf"/>
<circle cx="1899.7" cy="1668.0" r="5.8" fill="#cf0a86"/>
<circle cx="1965.1" cy="1672.9" r="5.8" fill="#059c3a"/>
<circle cx="1996.5" cy="1628.8" r="5.8" fill="#059c3a"/>
<circle cx="1973.8" cy="1654.4" r="5.8" fill="#059c3a"/>
<circle cx="1872.0" cy="1665.3" r="5.8" fill="#cf0a86"/>
<circle cx="1979.6" cy="1647.5" r="5.8" fill="#059c3a"/>
<circle cx="1899.3" cy="1695.1" r="5.8" fill="#cf0a86"/>
<circle cx="1882.8" cy="1680.1" r="5.8" fill="#cf0a86"/>
<circle cx="1962.6" cy="1647.5" r="5.8" fill="#059c3a"/>
<circle cx="1966.9" cy="1672.4" r="5.8" fill="#0c5bbf"/>
<circle cx="1946.9" cy="1681.3" r="5.8" fill="#059c3a"/>
<circle cx="1842.9" cy="1646.3" r="5.8" fill="#cf0a86"/>
<circle cx="1975.9" cy="1659.6" r="5.8" fill="#059c3a"/>
<circle cx="1865.9" cy="1654.7" r="5.8" fill="#cf0a86"/>
<circle cx="1868.4" cy="1646.2" r="5.8" fill="#cf0a86"/>
<circle cx="1879.0" cy="1672.8" r="5.8" fill="#cf0a86"/>
<circle cx="1983.4" cy="1665.5" r="5.8" fill="#059c3a"/>
<circle cx="2003.8" cy="1665.6" r="5.8" fill="#059c3a"/>
<circle cx="1963.3" cy="1658.8" r="5.8" fill="#059c3a"/>
<circle cx="1991.7" cy="1665.6" r="5.8" fill="#059c3a"/>
<circle cx="1983.2" cy="1686.2" r="5.8" fill="#0c5bbf"/>
<circle cx="1953.0" cy="1676.9" r="5.8" fill="#0c5bbf"/>
<circle cx="1932.4" cy="1649.4" r="5.8" fill="#0c5bbf"/>
<circle cx="2012.2" cy="1689.8" r="5.8" fill="#0c5bbf"/>
<circle cx="1994.1" cy="1642.6" r="5.8" fill="#059c3a"/>
<circle cx="1869.5" cy="1648.7" r="5.8" fill="#cf0a86"/>
<circle cx="1854.5" cy="1681.8" r="5.8" fill="#cf0a86"/>
<circle cx="1879.2" cy="1670.4" r="5.8" fill="#cf0a86"/>
<circle cx="1967.4" cy="1660.8" r="5.8" fill="#059c3a"/>
<circle cx="1990.7" cy="1655.3" r="5.8" fill="#059c3a"/>
<circle cx="1940.9" cy="1668.0" r="5.8" fill="#059c3a"/>
<circle cx="1965.5" cy="1633.0" r="5.8" fill="#059c3a"/>
<circle cx="1989.2" cy="1608.0" r="5.8" fill="#059c3a"/>
<circle cx="1978.0" cy="1656.4" r="5.8" fill="#059c3a"/>
<circle cx="1881.9" cy="1668.3" r="5.8" fill="#cf0a86"/>
<circle cx="2087.9" cy="1684.0" r="5.8" fill="#0c5bbf"/>
<circle cx="1887.6" cy="1660.2" r="5.8" fill="#cf0a86"/>
<circle cx="1979.7" cy="1687.2" r="5.8" fill="#0c5bbf"/>
<circle cx="1868.9" cy="1642.2" r="5.8" fill="#cf0a86"/>
<circle cx="2035.9" cy="1635.9" r="5.8" fill="#059c3a"/>
<circle cx="1960.2" cy="1660.3" r="5.8" fill="#059c3a"/>
<circle cx="1999.6" cy="1706.7" r="5.8" fill="#0c5bbf"/>
<circle cx="1977.1" cy="1643.8" r="5.8" fill="#059c3a"/>
<circle cx="1859.8" cy="1633.4" r="5.8" fill="#cf0a86"/>
<circle cx="1984.9" cy="1648.8" r="5.8" fill="#059c3a"/>
<circle cx="1990.4" cy="1645.1" r="5.8" fill="#059c3a"/>
<circle cx="1850.1" cy="1636.6" r="5.8" fill="#cf0a86"/>
<circle cx="1856.2" cy="1646.3" r="5.8" fill="#cf0a86"/>
<circle cx="1954.9" cy="1684.8" r="5.8" fill="#0c5bbf"/>
<circle cx="1938.9" cy="1613.4" r="5.8" fill="#0c5bbf"/>
<circle cx="1957.3" cy="1722.5" r="5.8" fill="#0c5bbf"/>
<circle cx="1994.8" cy="1715.7" r="5.8" fill="#0c5bbf"/>
<circle cx="2038.8" cy="1666.3" r="5.8" fill="#0c5bbf"/>
<circle cx="1950.5" cy="1710.4" r="5.8" fill="#0c5bbf"/>
<circle cx="1938.4" cy="1653.5" r="5.8" fill="#059c3a"/>
<circle cx="1954.2" cy="1677.1" r="5.8" fill="#0c5bbf"/>
<circle cx="1965.1" cy="1647.5" r="5.8" fill="#059c3a"/>
<circle cx="1994.1" cy="1688.6" r="5.8" fill="#0c5bbf"/>
<circle cx="1862.7" cy="1657.1" r="5.8" fill="#cf0a86"/>
<circle cx="1871.9" cy="1662.0" r="5.8" fill="#cf0a86"/>
<circle cx="2026.3" cy="1639.5" r="5.8" fill="#059c3a"/>
<circle cx="1879.8" cy="1661.0" r="5.8" fill="#cf0a86"/>
<circle cx="1952.7" cy="1623.8" r="5.8" fill="#059c3a"/>
<circle cx="1845.8" cy="1627.4" r="5.8" fill="#cf0a86"/>
<circle cx="1900.9" cy="1674.1" r="5.8" fill="#cf0a86"/>
<circle cx="2048.5" cy="1681.3" r="5.8" fill="#0c5bbf"/>
<circle cx="1884.9" cy="1651.6" r="5.8" fill="#cf0a86"/>
<circle cx="1985.1" cy="1696.6" r="5.8" fill="#0c5bbf"/>
<circle cx="1868.5" cy="1664.5" r="5.8" fill="#cf0a86"/>
<circle cx="1985.6" cy="1650.6" r="5.8" fill="#059c3a"/>
<circle cx="1875.5" cy="1657.1" r="5.8" fill="#cf0a86"/>
<circle cx="1877.7" cy="1657.8" r="5.8" fill="#cf0a86"/>
<circle cx="2015.1" cy="1645.1" r="5.8" fill="#059c3a"/>
<circle cx="1986.2" cy="1653.5" r="5.8" fill="#059c3a"/>
<circle cx="1985.7" cy="1658.0" r="5.8" fill="#059c3a"/>
<circle cx="1995.3" cy="1694.2" r="5.8" fill="#0c5bbf"/>
<circle cx="1998.6" cy="1650.1" r="5.8" fill="#059c3a"/>
<circle cx="2073.2" cy="1677.7" r="5.8" fill="#0c5bbf"/>
</g>
<rect x="1800.40" y="1478.30" width="420.40" height="339.70" fill="none" stroke="#2b2b2b" stroke-width="1.05"/>
<text x="1842.35" y="1839.50" font-size="14.70" font-weight="bold" fill="#000" text-anchor="middle">-5</text>
<text x="1945.10" y="1839.50" font-size="14.70" font-weight="bold" fill="#000" text-anchor="middle">0</text>
<text x="2047.85" y="1839.50" font-size="14.70" font-weight="bold" fill="#000" text-anchor="middle">5</text>
<text x="2150.60" y="1839.50" font-size="14.70" font-weight="bold" fill="#000" text-anchor="middle">10</text>
<path d="M1842.35 1818.00v4.8M1945.10 1818.00v4.8M2047.85 1818.00v4.8M2150.60 1818.00v4.8" stroke="#222" stroke-width="1.1" fill="none"/>
<text x="1794.75" y="1861.60" font-size="18.30" font-weight="bold" fill="#000" text-anchor="middle">PC1</text>
<text x="1335.04" y="1472.50" font-size="18.30" font-weight="bold" fill="#000" text-anchor="middle" transform="rotate(-90 1335.04 1472.50)">PC2</text>
<circle cx="2301.5" cy="1440.4" r="5.8" fill="#cf0a86" fill-opacity=".7" stroke="#141414" stroke-opacity=".88" stroke-width="1.4"/>
<text x="2329.10" y="1446.95" font-size="18.60" font-weight="bold" fill="#000" text-anchor="start">Apical</text>
<circle cx="2301.5" cy="1473.3" r="5.8" fill="#059c3a" fill-opacity=".7" stroke="#141414" stroke-opacity=".88" stroke-width="1.4"/>
<text x="2329.10" y="1479.85" font-size="18.60" font-weight="bold" fill="#000" text-anchor="start">Middle</text>
<circle cx="2301.5" cy="1506.5" r="5.8" fill="#0c5bbf" fill-opacity=".7" stroke="#141414" stroke-opacity=".88" stroke-width="1.4"/>
<text x="2329.10" y="1513.05" font-size="18.60" font-weight="bold" fill="#000" text-anchor="start">Basal</text>
</svg></body></html>
